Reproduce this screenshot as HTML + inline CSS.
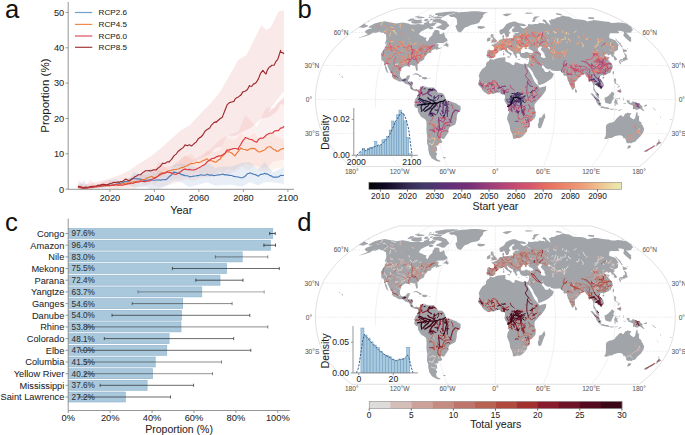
<!DOCTYPE html><html><head><meta charset="utf-8"><style>html,body{margin:0;padding:0;background:#fff;}svg{display:block;} text{stroke-width:0.06px;}</style></head><body><svg width="685" height="435" viewBox="0 0 685 435" font-family="&quot;Liberation Sans&quot;, sans-serif"><rect width="685" height="435" fill="#fff"/><path d="M78.2,183.0L85.0,184.5L92.0,183.0L100.0,181.0L110.0,178.5L120.0,175.0L130.0,170.0L140.0,163.0L150.0,157.0L160.0,149.0L170.0,140.0L180.0,131.0L190.0,125.0L200.0,114.0L210.0,104.0L220.0,92.0L229.2,75.9L238.4,59.8L246.4,55.2L249.9,48.3L255.6,36.8L261.4,25.3L266.0,29.9L270.6,27.6L278.6,11.5L283.9,10.3L283.9,105.5L280.9,103.5L277.5,110.7L270.6,116.3L266.0,117.9L261.4,118.2L254.5,124.7L249.9,128.3L240.7,132.8L235.0,135.9L227.6,135.4L222.1,146.5L215.6,148.0L209.0,154.2L200.3,159.1L191.5,162.8L185.0,165.9L177.3,165.7L169.7,168.2L163.1,176.3L156.6,177.2L150.0,179.5L145.4,182.4L141.0,178.5L135.2,182.6L129.3,185.3L125.7,184.3L119.0,184.5L114.7,186.0L108.9,185.6L101.0,186.4L97.2,186.4L89.9,187.4L84.1,189.2L78.2,186.4Z" fill="#e89090" fill-opacity="0.20"/><path d="M78.2,184.3L84.0,187.8L90.0,179.6L97.0,185.4L104.0,181.6L110.0,179.8L116.0,182.6L122.0,180.7L128.0,178.0L134.0,178.3L140.0,174.2L146.0,175.4L150.0,179.2L158.7,161.6L167.5,169.0L176.2,164.0L185.0,155.5L193.7,159.9L202.5,154.8L211.2,148.5L220.0,139.7L229.2,134.8L238.4,131.5L245.3,115.1L256.8,126.9L266.0,107.8L272.9,107.4L283.9,97.8L283.9,159.3L272.9,162.0L266.0,168.6L256.8,166.3L245.3,163.8L238.4,169.4L229.2,174.6L220.0,171.1L211.2,177.2L202.5,177.4L193.7,180.7L185.0,179.2L176.2,182.9L167.5,185.4L158.7,187.2L150.0,184.5L146.0,185.4L140.0,186.0L134.0,188.9L128.0,188.6L122.0,188.3L116.0,189.2L110.0,189.0L104.0,189.2L97.0,187.2L90.0,186.7L84.0,189.2L78.2,189.2Z" fill="#e07070" fill-opacity="0.11"/><path d="M78.2,179.1L84.0,185.0L90.0,186.8L97.0,190.3L104.0,186.2L110.0,181.9L116.0,182.7L122.0,184.1L128.0,178.3L134.0,175.2L140.0,177.2L145.0,173.1L151.2,171.9L155.0,167.6L160.9,167.8L171.9,165.6L182.8,157.2L191.5,154.0L198.1,161.8L206.8,151.1L215.6,151.9L220.0,150.5L226.9,138.4L234.9,140.0L240.7,133.5L247.6,137.7L254.5,132.8L259.1,140.1L270.6,131.8L276.3,136.3L283.9,139.8L283.9,167.3L276.3,168.0L270.6,171.8L259.1,171.1L254.5,166.2L247.6,170.4L240.7,164.8L234.9,170.0L226.9,169.2L220.0,175.8L215.6,173.6L206.8,176.6L198.1,172.9L191.5,174.3L182.8,176.9L171.9,180.0L160.9,179.0L155.0,184.5L151.2,181.8L145.0,185.5L140.0,182.2L134.0,186.3L128.0,187.1L122.0,187.8L116.0,188.8L110.0,188.5L104.0,181.0L97.0,188.7L90.0,189.2L84.0,189.2L78.2,189.2Z" fill="#f0a070" fill-opacity="0.12"/><path d="M78.2,186.0L84.0,180.6L90.0,190.1L97.0,185.3L104.0,187.6L110.0,180.6L116.0,179.1L122.0,182.3L128.0,181.1L133.7,172.0L140.0,174.2L146.0,172.8L151.0,168.0L155.0,173.4L158.7,170.3L166.0,173.7L174.0,165.1L180.6,163.4L189.3,164.4L198.1,168.2L206.8,162.4L215.6,168.0L222.1,166.5L231.5,166.6L241.8,163.0L249.9,162.3L257.9,169.5L264.8,162.1L272.9,172.6L283.9,167.0L283.9,184.1L272.9,182.2L264.8,181.9L257.9,185.4L249.9,182.3L241.8,186.4L231.5,184.7L222.1,185.2L215.6,185.7L206.8,182.3L198.1,184.8L189.3,186.9L180.6,181.8L174.0,181.0L166.0,185.7L158.7,189.2L155.0,188.2L151.0,189.2L146.0,186.7L140.0,187.4L133.7,187.6L128.0,184.4L122.0,182.6L116.0,186.9L110.0,185.0L104.0,188.1L97.0,188.5L90.0,189.2L84.0,188.0L78.2,189.2Z" fill="#a8c0dc" fill-opacity="0.27"/><path d="M268.5,113L272,106L274.5,104L277,99L279,97.5L282,93L283.9,92V97L280,101L277.5,103L275,107L272,109Z" fill="#fff" fill-opacity="0.85"/><g fill="none" stroke-width="1.15" stroke-linejoin="round"><path d="M78.2,186.8L78.2,186.8L80.4,187.6L82.6,188.0L84.0,188.0L84.9,187.8L87.1,187.6L89.3,187.3L90.0,187.4L91.5,187.3L93.8,186.8L96.0,186.7L97.0,186.4L98.2,185.9L100.4,186.5L102.7,186.0L104.0,185.9L104.9,186.0L107.1,185.5L109.3,185.2L110.0,185.2L111.6,185.1L113.8,184.9L116.0,184.4L116.0,184.3L118.2,183.8L120.5,183.4L122.0,182.8L122.7,182.4L124.9,181.6L127.1,181.5L128.0,181.2L129.4,180.4L131.6,179.0L133.7,178.7L133.8,178.5L136.0,178.8L138.3,178.8L140.0,179.4L140.5,179.0L142.7,180.0L144.9,180.7L146.0,180.6L147.2,180.3L149.4,179.8L151.0,179.8L151.6,180.0L153.8,180.3L155.0,180.2L156.1,180.0L158.3,180.0L158.7,179.8L160.5,180.1L162.7,179.7L165.0,179.5L166.0,179.7L167.2,178.7L169.4,176.5L171.6,174.7L173.9,171.8L174.0,172.1L176.1,172.5L178.3,173.2L180.5,173.7L180.6,174.3L182.8,174.9L185.0,175.6L187.2,175.7L189.3,176.5L189.4,177.0L191.7,176.5L193.9,176.1L196.1,175.8L198.1,175.4L198.3,175.7L200.6,174.8L202.8,175.3L205.0,175.1L206.8,174.8L207.2,174.2L209.5,175.1L211.7,175.0L213.9,175.6L215.6,175.4L216.1,175.2L218.3,174.9L220.6,174.7L222.1,174.3L222.8,174.1L225.0,174.9L227.2,174.9L229.5,175.4L231.5,175.5L231.7,175.4L233.9,176.4L236.1,176.7L238.4,177.0L240.6,177.7L241.8,177.8L242.8,177.6L245.0,176.4L247.3,173.8L249.5,173.3L249.9,172.7L251.7,173.6L253.9,174.3L256.2,174.9L257.9,175.9L258.4,176.1L260.6,174.4L262.8,174.2L264.8,173.2L265.1,173.8L267.3,173.8L269.5,175.4L271.7,176.1L272.9,177.1L274.0,177.0L276.2,177.1L278.4,177.0L280.6,175.4L282.9,175.5L283.9,175.5" stroke="#4a7ab8"/><path d="M78.2,187.5L78.2,187.5L80.4,188.0L82.6,188.1L84.0,188.1L84.9,188.2L87.1,188.1L89.3,187.1L90.0,187.3L91.5,186.9L93.8,186.4L96.0,186.3L97.0,186.2L98.2,186.4L100.4,186.0L102.7,186.1L104.0,185.9L104.9,185.3L107.1,185.6L109.3,185.0L110.0,185.2L111.6,185.5L113.8,185.1L116.0,184.6L116.0,184.8L118.2,184.3L120.5,184.2L122.0,183.8L122.7,183.9L124.9,183.4L127.1,183.1L128.0,183.1L129.4,182.8L131.6,182.2L133.8,181.8L134.0,181.9L136.0,181.5L138.3,181.1L140.0,181.1L140.5,181.1L142.7,179.6L144.9,179.5L145.0,179.2L147.2,178.1L149.4,177.1L151.2,176.5L151.6,176.3L153.8,177.8L155.0,178.4L156.1,177.4L158.3,175.6L160.5,173.3L160.9,173.2L162.7,172.7L165.0,172.7L167.2,171.5L169.4,170.5L171.6,170.5L171.9,170.0L173.9,169.6L176.1,169.4L178.3,169.0L180.5,168.1L182.8,167.0L182.8,167.8L185.0,166.5L187.2,165.8L189.4,164.3L191.5,163.4L191.7,163.6L193.9,163.5L196.1,162.4L198.1,162.3L198.3,162.8L200.6,162.0L202.8,160.8L205.0,159.9L206.8,158.6L207.2,159.3L209.5,160.8L211.7,160.7L213.9,161.6L215.6,162.3L216.1,162.2L218.3,160.0L220.0,159.4L220.6,158.0L222.8,155.7L225.0,153.7L226.9,151.3L227.2,151.8L229.5,151.9L231.7,153.0L233.9,155.2L234.9,155.9L236.1,154.1L238.4,151.1L240.6,148.4L240.7,147.9L242.8,149.3L245.0,149.5L247.3,150.4L247.6,150.2L249.5,149.0L251.7,148.4L253.9,148.6L254.5,148.3L256.2,150.0L258.4,151.8L259.1,152.0L260.6,151.6L262.8,150.7L265.1,149.7L267.3,147.2L269.5,146.8L270.6,146.7L271.7,147.9L274.0,149.8L276.2,150.4L276.3,151.3L278.4,151.1L280.6,149.3L282.9,148.6L283.9,148.3" stroke="#ee7a36"/><path d="M78.2,187.6L78.2,187.2L80.4,186.9L82.6,188.3L84.0,188.3L84.9,188.2L87.1,188.2L89.3,187.7L90.0,187.5L91.5,187.8L93.8,187.1L96.0,186.8L97.0,186.8L98.2,186.7L100.4,186.3L102.7,185.7L104.0,185.5L104.9,185.5L107.1,185.8L109.3,185.9L110.0,185.8L111.6,185.4L113.8,185.1L116.0,184.8L116.0,184.3L118.2,185.4L120.5,185.0L122.0,185.2L122.7,185.3L124.9,184.5L127.1,184.3L128.0,183.5L129.4,183.8L131.6,183.2L133.8,183.2L134.0,182.8L136.0,182.1L138.3,182.2L140.0,181.5L140.5,181.0L142.7,181.5L144.9,181.6L146.0,181.2L147.2,181.2L149.4,180.8L150.0,180.9L151.6,179.6L153.8,178.4L156.1,177.4L158.3,176.0L158.7,175.4L160.5,174.6L162.7,173.4L165.0,173.3L167.2,171.7L167.5,172.1L169.4,172.4L171.6,172.9L173.9,174.0L176.1,174.4L176.2,174.3L178.3,173.2L180.5,171.7L182.8,170.0L185.0,169.1L185.0,168.9L187.2,169.7L189.4,169.4L191.7,170.0L193.7,170.0L193.9,169.9L196.1,169.2L198.3,168.0L200.6,166.9L202.5,165.6L202.8,165.5L205.0,164.4L207.2,161.8L209.5,160.2L211.2,159.0L211.7,158.5L213.9,158.4L216.1,156.9L218.3,156.1L220.0,155.9L220.6,155.9L222.8,154.8L225.0,153.1L227.2,149.9L229.2,150.2L229.5,149.6L231.7,149.1L233.9,148.5L236.1,148.5L238.4,149.4L238.4,148.3L240.6,144.7L242.8,140.9L245.0,138.4L245.3,137.5L247.3,138.3L249.5,139.3L251.7,139.6L253.9,141.0L256.2,142.1L256.8,142.1L258.4,139.6L260.6,138.1L262.8,138.3L265.1,136.5L266.0,135.2L267.3,134.4L269.5,133.3L271.7,133.2L272.9,132.9L274.0,131.3L276.2,130.6L278.4,130.7L280.6,128.1L282.9,127.6L283.9,126.0" stroke="#dd3a3f"/><path d="M78.2,186.6L78.2,186.4L80.4,186.7L82.6,187.2L84.1,187.9L84.9,187.1L87.1,187.2L89.3,187.1L89.9,186.7L91.5,186.4L93.8,186.2L96.0,186.0L97.2,185.5L98.2,185.0L100.4,185.4L101.0,184.6L102.7,184.3L104.9,184.5L107.1,184.9L108.9,184.1L109.3,183.9L111.6,183.3L113.8,182.4L114.7,182.3L116.0,182.5L118.2,181.9L119.0,182.6L120.5,181.6L122.7,181.2L124.9,179.6L125.7,179.1L127.1,179.7L129.3,180.9L129.4,181.0L131.6,179.3L133.8,177.6L135.2,176.5L136.0,176.4L138.3,174.8L140.5,174.7L141.0,174.3L142.7,172.6L144.9,171.4L145.4,170.7L147.2,170.8L149.4,170.6L150.0,171.0L151.6,170.6L153.8,169.7L156.1,170.0L156.6,169.5L158.3,167.9L160.5,166.2L162.7,163.2L163.1,163.4L165.0,163.5L167.2,161.9L169.4,161.9L169.7,161.2L171.6,159.4L173.9,155.9L176.1,154.1L177.3,152.5L178.3,151.2L180.5,149.5L182.8,147.9L185.0,145.3L185.0,144.8L187.2,145.8L189.4,144.8L191.5,145.9L191.7,145.9L193.9,143.8L196.1,142.1L198.3,138.7L200.3,137.2L200.6,137.3L202.8,135.0L205.0,131.3L207.2,129.4L209.0,128.4L209.5,128.3L211.7,124.8L213.9,122.6L215.6,121.9L216.1,122.3L218.3,120.3L220.6,118.3L222.1,117.5L222.8,115.9L225.0,110.2L227.2,104.7L227.6,104.4L229.5,102.6L231.7,102.0L233.9,101.4L235.0,99.3L236.1,98.0L238.4,96.9L240.6,95.2L240.7,95.4L242.8,91.9L245.0,91.3L247.3,89.8L249.5,85.6L249.9,86.2L251.7,86.3L253.9,83.5L254.5,83.9L256.2,82.5L258.4,78.9L260.6,73.2L261.4,72.4L262.8,70.3L265.1,73.2L266.0,74.0L267.3,70.1L269.5,66.7L270.6,66.7L271.7,65.2L274.0,65.2L276.2,61.0L277.5,59.8L278.4,57.5L280.6,50.3L280.9,52.4L282.9,52.6L283.9,54.0" stroke="#9c2b2e"/></g><g stroke="#8a8a8a" stroke-width="0.9" fill="none"><path d="M68.2,2V189.3H294"/><path d="M65.6,189.2H68.2"/><path d="M65.6,153.8H68.2"/><path d="M65.6,118.5H68.2"/><path d="M65.6,83.1H68.2"/><path d="M65.6,47.8H68.2"/><path d="M65.6,12.4H68.2"/><path d="M109.9,189.3V191.9"/><path d="M154.4,189.3V191.9"/><path d="M198.9,189.3V191.9"/><path d="M243.4,189.3V191.9"/><path d="M287.9,189.3V191.9"/></g><g font-size="9.2" fill="#262626" stroke="#262626" text-anchor="end"><text x="64.2" y="192.5">0</text><text x="64.2" y="157.2">10</text><text x="64.2" y="121.8">20</text><text x="64.2" y="86.4">30</text><text x="64.2" y="51.1">40</text><text x="64.2" y="15.7">50</text></g><g font-size="9.2" fill="#262626" stroke="#262626" text-anchor="middle"><text x="109.9" y="201">2020</text><text x="154.4" y="201">2040</text><text x="198.9" y="201">2060</text><text x="243.4" y="201">2080</text><text x="287.9" y="201">2100</text></g><text x="181.3" y="213.7" font-size="11" fill="#1e1e1e" stroke="#1e1e1e" text-anchor="middle">Year</text><text transform="translate(48.5,95.6) rotate(-90)" font-size="11.5" fill="#1e1e1e" stroke="#1e1e1e" text-anchor="middle">Proportion (%)</text><path d="M75,12.5H92.3" stroke="#6f9fd0" stroke-width="1.2"/><text x="98.6" y="15.4" font-size="8.1" fill="#262626" stroke="#262626">RCP2.6</text><path d="M75,24.4H92.3" stroke="#ef8a4a" stroke-width="1.2"/><text x="98.6" y="27.3" font-size="8.1" fill="#262626" stroke="#262626">RCP4.5</text><path d="M75,36.0H92.3" stroke="#e57b86" stroke-width="1.6"/><text x="98.6" y="38.9" font-size="8.1" fill="#262626" stroke="#262626">RCP6.0</text><path d="M75,47.3H92.3" stroke="#a23a3c" stroke-width="1.2"/><text x="98.6" y="50.2" font-size="8.1" fill="#262626" stroke="#262626">RCP8.5</text><rect x="68.6" y="228.5" width="204.2" height="10.0" fill="#a9c8dc" stroke="#8db2cc" stroke-width="0.6"/><rect x="68.6" y="240.2" width="201.7" height="10.0" fill="#a9c8dc" stroke="#8db2cc" stroke-width="0.6"/><rect x="68.6" y="251.9" width="173.6" height="10.0" fill="#a9c8dc" stroke="#8db2cc" stroke-width="0.6"/><rect x="68.6" y="263.5" width="157.9" height="10.0" fill="#a9c8dc" stroke="#8db2cc" stroke-width="0.6"/><rect x="68.6" y="275.2" width="151.4" height="10.0" fill="#a9c8dc" stroke="#8db2cc" stroke-width="0.6"/><rect x="68.6" y="286.9" width="133.2" height="10.0" fill="#a9c8dc" stroke="#8db2cc" stroke-width="0.6"/><rect x="68.6" y="298.6" width="114.1" height="10.0" fill="#a9c8dc" stroke="#8db2cc" stroke-width="0.6"/><rect x="68.6" y="310.3" width="112.8" height="10.0" fill="#a9c8dc" stroke="#8db2cc" stroke-width="0.6"/><rect x="68.6" y="321.9" width="112.4" height="10.0" fill="#a9c8dc" stroke="#8db2cc" stroke-width="0.6"/><rect x="68.6" y="333.6" width="100.5" height="10.0" fill="#a9c8dc" stroke="#8db2cc" stroke-width="0.6"/><rect x="68.6" y="345.3" width="98.2" height="10.0" fill="#a9c8dc" stroke="#8db2cc" stroke-width="0.6"/><rect x="68.6" y="357.0" width="86.6" height="10.0" fill="#a9c8dc" stroke="#8db2cc" stroke-width="0.6"/><rect x="68.6" y="368.7" width="83.9" height="10.0" fill="#a9c8dc" stroke="#8db2cc" stroke-width="0.6"/><rect x="68.6" y="380.3" width="78.5" height="10.0" fill="#a9c8dc" stroke="#8db2cc" stroke-width="0.6"/><rect x="68.6" y="392.0" width="56.7" height="10.0" fill="#a9c8dc" stroke="#8db2cc" stroke-width="0.6"/><text x="71.6" y="236.4" font-size="8.2" fill="#303030" stroke="#303030">97.6%</text><g stroke="#222" stroke-opacity="0.85" stroke-width="0.9"><path d="M269.7,233.5H275.2"/><path d="M269.7,231.9v3.2M275.2,231.9v3.2"/></g><text x="64.3" y="236.8" font-size="9.25" fill="#262626" stroke="#262626" text-anchor="end">Congo</text><path d="M65.6,233.5H68.2" stroke="#8a8a8a" stroke-width="0.9"/><text x="71.6" y="248.1" font-size="8.2" fill="#303030" stroke="#303030">96.4%</text><g stroke="#222" stroke-opacity="0.85" stroke-width="0.9"><path d="M263.9,245.2H275.5"/><path d="M263.9,243.6v3.2M275.5,243.6v3.2"/></g><text x="64.3" y="248.5" font-size="9.25" fill="#262626" stroke="#262626" text-anchor="end">Amazon</text><path d="M65.6,245.2H68.2" stroke="#8a8a8a" stroke-width="0.9"/><text x="71.6" y="259.8" font-size="8.2" fill="#303030" stroke="#303030">83.0%</text><g stroke="#222" stroke-opacity="0.55" stroke-width="0.9"><path d="M215.4,256.9H267.8"/><path d="M215.4,255.3v3.2M267.8,255.3v3.2"/></g><text x="64.3" y="260.2" font-size="9.25" fill="#262626" stroke="#262626" text-anchor="end">Nile</text><path d="M65.6,256.9H68.2" stroke="#8a8a8a" stroke-width="0.9"/><text x="71.6" y="271.4" font-size="8.2" fill="#303030" stroke="#303030">75.5%</text><g stroke="#222" stroke-opacity="0.75" stroke-width="0.9"><path d="M172.4,268.5H279.3"/><path d="M172.4,266.9v3.2M279.3,266.9v3.2"/></g><text x="64.3" y="271.8" font-size="9.25" fill="#262626" stroke="#262626" text-anchor="end">Mekong</text><path d="M65.6,268.5H68.2" stroke="#8a8a8a" stroke-width="0.9"/><text x="71.6" y="283.1" font-size="8.2" fill="#303030" stroke="#303030">72.4%</text><g stroke="#222" stroke-opacity="0.80" stroke-width="0.9"><path d="M195.8,280.2H243.0"/><path d="M195.8,278.6v3.2M243.0,278.6v3.2"/></g><text x="64.3" y="283.5" font-size="9.25" fill="#262626" stroke="#262626" text-anchor="end">Parana</text><path d="M65.6,280.2H68.2" stroke="#8a8a8a" stroke-width="0.9"/><text x="71.6" y="294.8" font-size="8.2" fill="#303030" stroke="#303030">63.7%</text><g stroke="#222" stroke-opacity="0.45" stroke-width="0.9"><path d="M138.0,291.9H264.2"/><path d="M138.0,290.3v3.2M264.2,290.3v3.2"/></g><text x="64.3" y="295.2" font-size="9.25" fill="#262626" stroke="#262626" text-anchor="end">Yangtze</text><path d="M65.6,291.9H68.2" stroke="#8a8a8a" stroke-width="0.9"/><text x="71.6" y="306.5" font-size="8.2" fill="#303030" stroke="#303030">54.6%</text><g stroke="#222" stroke-opacity="0.60" stroke-width="0.9"><path d="M132.2,303.6H232.1"/><path d="M132.2,302.0v3.2M232.1,302.0v3.2"/></g><text x="64.3" y="306.9" font-size="9.25" fill="#262626" stroke="#262626" text-anchor="end">Ganges</text><path d="M65.6,303.6H68.2" stroke="#8a8a8a" stroke-width="0.9"/><text x="71.6" y="318.2" font-size="8.2" fill="#303030" stroke="#303030">54.0%</text><g stroke="#222" stroke-opacity="0.75" stroke-width="0.9"><path d="M112.0,315.3H249.8"/><path d="M112.0,313.7v3.2M249.8,313.7v3.2"/></g><text x="64.3" y="318.6" font-size="9.25" fill="#262626" stroke="#262626" text-anchor="end">Danube</text><path d="M65.6,315.3H68.2" stroke="#8a8a8a" stroke-width="0.9"/><text x="71.6" y="329.8" font-size="8.2" fill="#303030" stroke="#303030">53.8%</text><g stroke="#222" stroke-opacity="0.58" stroke-width="0.9"><path d="M87.0,326.9H267.8"/><path d="M87.0,325.3v3.2M267.8,325.3v3.2"/></g><text x="64.3" y="330.2" font-size="9.25" fill="#262626" stroke="#262626" text-anchor="end">Rhine</text><path d="M65.6,326.9H68.2" stroke="#8a8a8a" stroke-width="0.9"/><text x="71.6" y="341.5" font-size="8.2" fill="#303030" stroke="#303030">48.1%</text><g stroke="#222" stroke-opacity="0.75" stroke-width="0.9"><path d="M104.3,338.6H233.7"/><path d="M104.3,337.0v3.2M233.7,337.0v3.2"/></g><text x="64.3" y="341.9" font-size="9.25" fill="#262626" stroke="#262626" text-anchor="end">Colorado</text><path d="M65.6,338.6H68.2" stroke="#8a8a8a" stroke-width="0.9"/><text x="71.6" y="353.2" font-size="8.2" fill="#303030" stroke="#303030">47.0%</text><g stroke="#222" stroke-opacity="0.75" stroke-width="0.9"><path d="M80.7,350.3H250.8"/><path d="M80.7,348.7v3.2M250.8,348.7v3.2"/></g><text x="64.3" y="353.6" font-size="9.25" fill="#262626" stroke="#262626" text-anchor="end">Elbe</text><path d="M65.6,350.3H68.2" stroke="#8a8a8a" stroke-width="0.9"/><text x="71.6" y="364.9" font-size="8.2" fill="#303030" stroke="#303030">41.5%</text><g stroke="#222" stroke-opacity="0.58" stroke-width="0.9"><path d="M86.0,362.0H221.5"/><path d="M86.0,360.4v3.2M221.5,360.4v3.2"/></g><text x="64.3" y="365.3" font-size="9.25" fill="#262626" stroke="#262626" text-anchor="end">Columbia</text><path d="M65.6,362.0H68.2" stroke="#8a8a8a" stroke-width="0.9"/><text x="71.6" y="376.6" font-size="8.2" fill="#303030" stroke="#303030">40.2%</text><g stroke="#222" stroke-opacity="0.55" stroke-width="0.9"><path d="M85.0,373.7H212.5"/><path d="M85.0,372.1v3.2M212.5,372.1v3.2"/></g><text x="64.3" y="377.0" font-size="9.25" fill="#262626" stroke="#262626" text-anchor="end">Yellow River</text><path d="M65.6,373.7H68.2" stroke="#8a8a8a" stroke-width="0.9"/><text x="71.6" y="388.2" font-size="8.2" fill="#303030" stroke="#303030">37.6%</text><g stroke="#222" stroke-opacity="0.75" stroke-width="0.9"><path d="M100.1,385.3H193.6"/><path d="M100.1,383.7v3.2M193.6,383.7v3.2"/></g><text x="64.3" y="388.6" font-size="9.25" fill="#262626" stroke="#262626" text-anchor="end">Mississippi</text><path d="M65.6,385.3H68.2" stroke="#8a8a8a" stroke-width="0.9"/><text x="71.6" y="399.9" font-size="8.2" fill="#303030" stroke="#303030">27.2%</text><g stroke="#222" stroke-opacity="0.75" stroke-width="0.9"><path d="M79.7,397.0H170.5"/><path d="M79.7,395.4v3.2M170.5,395.4v3.2"/></g><text x="64.3" y="400.3" font-size="9.25" fill="#262626" stroke="#262626" text-anchor="end">Saint Lawrence</text><path d="M65.6,397.0H68.2" stroke="#8a8a8a" stroke-width="0.9"/><path d="M68.2,218.5V410.5H290" stroke="#8a8a8a" stroke-width="0.9" fill="none"/><path d="M68.3,410.5V413" stroke="#8a8a8a" stroke-width="0.9"/><text x="68.3" y="420.6" font-size="9.3" fill="#262626" stroke="#262626" text-anchor="middle">0%</text><path d="M110.2,410.5V413" stroke="#8a8a8a" stroke-width="0.9"/><text x="110.2" y="420.6" font-size="9.3" fill="#262626" stroke="#262626" text-anchor="middle">20%</text><path d="M152.1,410.5V413" stroke="#8a8a8a" stroke-width="0.9"/><text x="152.1" y="420.6" font-size="9.3" fill="#262626" stroke="#262626" text-anchor="middle">40%</text><path d="M194.0,410.5V413" stroke="#8a8a8a" stroke-width="0.9"/><text x="194.0" y="420.6" font-size="9.3" fill="#262626" stroke="#262626" text-anchor="middle">60%</text><path d="M235.9,410.5V413" stroke="#8a8a8a" stroke-width="0.9"/><text x="235.9" y="420.6" font-size="9.3" fill="#262626" stroke="#262626" text-anchor="middle">80%</text><path d="M277.8,410.5V413" stroke="#8a8a8a" stroke-width="0.9"/><text x="277.8" y="420.6" font-size="9.3" fill="#262626" stroke="#262626" text-anchor="middle">100%</text><text x="179.1" y="432.5" font-size="10.5" fill="#1e1e1e" stroke="#1e1e1e" text-anchor="middle">Proportion (%)</text><path d="M399.6,8.2L396.3,9.1L392.4,10.4L388.2,11.9L383.6,13.8L378.8,15.8L374.2,17.9L370.0,20.2L366.1,22.5L362.3,24.9L358.7,27.4L355.1,29.9L351.7,32.4L348.3,35.1L345.1,37.7L342.1,40.4L339.2,43.1L336.6,45.9L334.1,48.6L331.7,51.4L329.5,54.2L327.5,57.1L325.7,59.9L324.1,62.7L322.6,65.5L321.4,68.4L320.3,71.2L319.4,74.0L318.6,76.9L317.9,79.7L317.2,82.5L316.7,85.4L316.3,88.2L315.9,91.0L315.7,93.8L315.5,96.7L315.4,99.5L315.5,102.3L315.7,105.2L315.9,108.0L316.3,110.8L316.7,113.6L317.2,116.5L317.9,119.3L318.6,122.1L319.4,125.0L320.3,127.8L321.4,130.6L322.6,133.5L324.1,136.3L325.7,139.1L327.5,141.9L329.5,144.8L331.7,147.6L334.1,150.4L336.6,153.1L339.2,155.9L342.1,158.6L345.1,161.3L348.3,163.9L351.7,166.6L639.1,166.6L642.5,163.9L645.7,161.3L648.7,158.6L651.6,155.9L654.2,153.1L656.7,150.4L659.1,147.6L661.3,144.8L663.3,141.9L665.1,139.1L666.7,136.3L668.2,133.5L669.4,130.6L670.5,127.8L671.4,125.0L672.2,122.1L672.9,119.3L673.6,116.5L674.1,113.6L674.5,110.8L674.9,108.0L675.1,105.2L675.3,102.3L675.4,99.5L675.3,96.7L675.1,93.8L674.9,91.0L674.5,88.2L674.1,85.4L673.6,82.5L672.9,79.7L672.2,76.9L671.4,74.0L670.5,71.2L669.4,68.4L668.2,65.5L666.7,62.7L665.1,59.9L663.3,57.1L661.3,54.2L659.1,51.4L656.7,48.6L654.2,45.9L651.6,43.1L648.7,40.4L645.7,37.7L642.5,35.1L639.1,32.4L635.7,29.9L632.1,27.4L628.5,24.9L624.7,22.5L620.8,20.2L616.6,17.9L612.0,15.8L607.2,13.8L602.6,11.9L598.4,10.4L594.5,9.1L591.2,8.2Z" fill="#fff" stroke="#d3d3d3" stroke-width="0.7"/><g stroke="#e0e0e0" stroke-width="0.6" stroke-dasharray="2,1.2" fill="none"><line x1="351.7" y1="32.4" x2="639.1" y2="32.4"/><line x1="322.6" y1="65.5" x2="668.2" y2="65.5"/><line x1="315.4" y1="99.5" x2="675.4" y2="99.5"/><line x1="322.6" y1="133.5" x2="668.2" y2="133.5"/><line x1="495.4" y1="8.2" x2="495.4" y2="166.6"/></g><g stroke="#e3e3e3" stroke-width="0.5" fill="none"><path d="M399.6,166.6L395.2,161.3L391.3,155.9L387.9,150.4L384.8,144.8L382.3,139.1L380.2,133.5L378.7,127.8L377.6,122.1L376.6,116.5L376.0,110.8L375.6,105.2L375.4,99.5L375.6,93.8L376.0,88.2L376.6,82.5L377.6,76.9L378.7,71.2L380.2,65.5L382.3,59.9L384.8,54.2L387.9,48.6L391.3,43.1L395.2,37.7L399.6,32.4L404.2,27.4L409.2,22.5L414.6,17.9L420.9,13.8L426.7,10.4L431.5,8.2"/><path d="M447.5,166.6L445.3,161.3L443.3,155.9L441.6,150.4L440.1,144.8L438.8,139.1L437.8,133.5L437.0,127.8L436.5,122.1L436.0,116.5L435.7,110.8L435.5,105.2L435.4,99.5L435.5,93.8L435.7,88.2L436.0,82.5L436.5,76.9L437.0,71.2L437.8,65.5L438.8,59.9L440.1,54.2L441.6,48.6L443.3,43.1L445.3,37.7L447.5,32.4L449.8,27.4L452.3,22.5L455.0,17.9L458.1,13.8L461.1,10.4L463.5,8.2"/><path d="M543.3,166.6L545.5,161.3L547.5,155.9L549.2,150.4L550.7,144.8L552.0,139.1L553.0,133.5L553.8,127.8L554.3,122.1L554.8,116.5L555.1,110.8L555.3,105.2L555.4,99.5L555.3,93.8L555.1,88.2L554.8,82.5L554.3,76.9L553.8,71.2L553.0,65.5L552.0,59.9L550.7,54.2L549.2,48.6L547.5,43.1L545.5,37.7L543.3,32.4L541.0,27.4L538.5,22.5L535.8,17.9L532.7,13.8L529.7,10.4L527.3,8.2"/><path d="M591.2,166.6L595.6,161.3L599.5,155.9L602.9,150.4L606.0,144.8L608.5,139.1L610.6,133.5L612.1,127.8L613.2,122.1L614.2,116.5L614.8,110.8L615.2,105.2L615.4,99.5L615.2,93.8L614.8,88.2L614.2,82.5L613.2,76.9L612.1,71.2L610.6,65.5L608.5,59.9L606.0,54.2L602.9,48.6L599.5,43.1L595.6,37.7L591.2,32.4L586.6,27.4L581.6,22.5L576.2,17.9L569.9,13.8L564.1,10.4L559.3,8.2"/></g><path d="M368.6,26.8L374.6,23.6L379.4,22.2L384.7,21.3L387.2,21.8L389.4,22.2L393.6,22.9L396.5,23.5L399.3,23.0L402.7,22.5L405.8,23.0L408.2,23.5L410.8,24.4L414.5,24.4L418.6,23.9L421.7,24.6L423.3,24.4L424.7,24.1L426.1,22.5L428.3,20.8L429.1,20.6L429.8,21.1L428.9,22.5L429.1,23.2L430.6,23.6L431.6,23.3L432.7,22.3L433.6,22.5L433.8,23.3L434.6,22.6L436.3,22.8L436.4,23.3L435.8,23.9L434.4,24.9L434.7,25.6L432.8,26.2L431.5,25.9L430.0,26.9L429.0,27.9L426.0,28.9L421.1,31.4L419.2,33.5L419.4,35.1L422.0,36.1L424.6,37.4L426.7,37.7L425.8,39.9L427.2,41.5L428.5,39.9L429.4,37.7L432.5,35.1L432.5,33.5L433.8,31.9L434.5,30.1L437.7,29.9L439.5,30.9L439.4,33.5L440.6,34.2L443.3,33.0L444.0,32.1L444.7,35.1L445.1,37.2L447.0,38.8L447.6,40.6L446.5,41.5L443.4,42.9L439.9,42.9L437.7,43.1L436.0,44.2L433.7,45.7L435.9,44.4L437.8,44.0L439.1,44.4L438.2,45.5L438.0,47.0L439.2,47.9L442.0,47.3L440.4,48.4L437.9,49.2L435.7,50.3L436.3,48.4L435.3,48.9L433.2,49.8L432.0,50.2L431.1,51.4L431.5,52.3L430.0,52.7L427.4,53.6L427.0,54.8L425.9,55.6L424.4,57.4L424.3,59.3L422.7,60.4L420.5,61.6L418.2,63.3L417.4,65.0L417.8,68.9L417.6,70.6L416.6,71.0L415.9,69.5L415.5,67.8L415.2,65.8L413.7,65.9L412.0,65.1L410.1,65.2L409.3,66.4L407.9,66.3L405.1,65.9L401.7,68.0L400.7,70.6L399.8,74.6L400.0,76.3L401.0,78.0L402.3,78.9L404.8,78.4L406.4,77.4L406.8,75.7L410.2,75.2L409.3,78.0L408.3,79.7L407.8,81.6L410.4,81.5L412.3,82.0L412.9,82.5L412.2,87.0L412.8,88.2L414.7,89.5L416.2,88.7L418.2,89.9L418.3,90.4L417.6,91.0L415.6,91.2L414.2,90.7L412.2,89.9L410.1,88.2L410.1,86.8L408.6,84.8L405.2,83.8L403.4,82.0L402.0,81.2L400.0,81.7L397.6,80.7L395.4,79.4L393.5,78.8L391.8,76.5L392.3,75.1L391.4,73.2L389.9,70.9L388.6,68.4L387.5,66.1L387.4,64.1L385.9,63.8L385.5,65.5L386.8,67.8L387.5,70.6L388.5,73.2L387.8,72.9L386.4,71.4L385.2,68.4L384.8,66.1L384.0,63.3L383.9,62.5L383.4,61.0L381.5,60.3L381.3,58.1L381.3,56.7L381.0,54.8L381.0,53.8L382.2,52.0L385.0,47.5L386.0,44.9L387.0,45.0L386.9,43.1L385.4,42.3L385.9,40.9L386.4,38.2L386.1,36.6L386.0,34.5L384.4,33.7L383.4,32.7L380.4,32.4L379.5,31.4L377.2,32.4L375.1,33.0L373.3,33.3L376.0,31.4L372.7,33.0L369.2,35.1L366.0,36.1L362.5,37.1L359.1,37.9L357.5,38.2L362.1,36.6L366.7,34.7L368.2,33.7L366.6,33.7L365.8,32.7L364.7,31.9L365.8,30.4L368.1,29.2L372.5,27.9L371.1,27.8L368.8,27.8ZM449.5,25.8L447.2,27.4L444.7,29.9L442.3,30.1L439.9,28.8L436.1,28.1L436.5,26.9L441.1,24.9L442.0,23.9L438.5,22.7L435.2,22.3L432.2,21.6L433.5,19.3L437.1,19.1L440.4,18.9L442.3,19.9L445.3,21.1L446.9,21.9L447.4,23.2L448.6,24.6ZM411.4,21.1L415.0,19.5L417.7,19.9L422.2,19.5L421.2,21.6L422.8,22.5L419.6,23.6L415.1,23.8L412.1,23.2L411.2,22.3ZM407.2,20.8L410.8,18.6L413.8,18.6L414.5,19.4L412.7,20.3L409.5,21.3ZM458.5,11.9L452.9,11.6L444.8,11.9L439.2,13.0L435.8,13.8L438.5,14.5L436.8,16.6L441.2,16.9L444.1,16.6L447.3,14.9L450.9,14.1L454.9,13.1L457.7,12.4ZM443.2,16.5L441.1,18.5L435.7,18.5L433.3,17.8L434.7,16.8L437.0,16.4L440.5,16.3ZM418.1,16.9L420.1,16.6L423.8,17.1L425.0,17.3L423.6,18.0L419.4,18.5L416.1,18.1ZM426.1,18.8L428.7,19.3L427.3,21.1L425.5,21.6L423.6,20.2ZM434.0,18.8L430.5,18.8L429.9,20.2L431.1,20.4ZM440.9,12.6L435.8,13.2L434.8,14.5L436.5,15.2L440.7,14.3ZM429.5,14.7L431.9,14.8L431.6,15.5L428.8,15.7ZM433.0,14.9L434.6,15.2L433.2,15.8ZM432.1,16.2L433.8,16.4L434.4,17.1L431.9,17.5L430.4,17.1ZM423.8,23.0L426.3,22.6L426.2,23.6L424.0,24.1ZM429.6,16.6L431.3,16.9L429.4,17.9L427.9,17.5ZM415.1,16.6L419.6,15.8L419.1,16.6L415.6,17.2ZM429.2,27.6L431.4,26.5L432.6,27.1L433.6,28.4L431.9,29.2L429.6,29.2L428.9,28.6ZM443.1,45.8L447.8,41.4L446.8,43.6L448.6,44.1L448.2,45.9L448.9,45.9L447.9,46.9L446.3,46.3L445.6,45.7ZM387.2,44.9L385.7,44.3L384.6,42.3L386.3,42.8ZM412.3,74.7L415.3,73.2L417.3,73.5L419.5,74.8L422.6,76.6L419.3,77.0L418.5,75.2L415.7,74.4ZM422.3,77.0L425.7,77.0L428.1,78.4L424.9,79.6L422.1,78.7ZM418.3,78.7L420.3,79.0L419.6,79.2L418.3,78.9ZM429.2,78.6L430.8,78.7L430.7,79.1L429.2,79.1ZM472.0,11.3L477.8,11.3L483.4,12.1L488.1,12.6L484.5,13.8L482.9,15.4L483.2,16.6L481.8,18.4L480.1,20.2L479.7,22.0L477.5,23.6L473.3,24.4L471.0,24.9L467.5,26.7L465.0,27.4L463.2,29.4L461.2,31.9L460.3,32.4L457.8,31.4L456.6,29.6L456.1,27.9L455.4,25.9L457.4,23.9L457.0,22.5L456.9,21.1L456.9,19.9L456.4,18.4L454.3,17.1L451.0,17.0L449.1,15.8L448.7,15.1L452.8,14.1L456.5,12.8L462.5,12.1L467.5,11.7ZM478.1,28.4L477.3,26.9L478.6,25.9L482.7,26.2L484.5,26.4L485.1,27.4L483.9,28.1L481.1,28.9L479.2,28.6ZM418.3,89.7L419.7,89.0L420.3,87.6L421.3,87.0L423.1,86.3L424.4,85.5L424.3,87.0L425.8,86.5L427.6,87.6L429.7,87.5L431.7,87.5L433.7,87.4L434.7,88.2L435.1,89.9L436.6,90.4L438.0,92.7L440.5,92.7L442.5,93.3L444.0,94.7L445.4,97.5L445.4,99.5L446.9,100.6L450.4,101.2L453.4,102.6L456.4,103.5L458.5,105.2L460.3,105.7L460.7,108.0L460.6,110.3L458.6,112.0L457.2,114.2L456.8,116.5L456.7,119.3L456.1,122.1L455.3,124.4L453.4,125.5L451.5,126.2L449.2,127.8L448.4,130.1L448.3,131.8L447.1,134.6L445.7,136.3L444.8,138.0L443.6,139.1L441.8,138.6L440.3,138.1L441.5,140.6L442.3,141.1L441.8,142.7L438.0,143.6L438.3,145.5L435.8,145.8L436.9,147.6L437.2,150.4L435.5,152.0L437.3,153.5L436.2,156.1L436.4,158.4L437.5,159.5L440.8,161.1L438.9,161.8L435.9,160.8L431.9,158.6L429.2,154.2L428.2,149.2L428.3,146.8L427.0,143.1L427.1,139.7L427.4,136.9L426.8,133.5L426.4,130.1L426.6,126.1L426.3,121.0L425.0,119.3L421.0,116.7L419.7,114.8L417.8,111.4L416.0,108.0L414.4,106.3L414.2,104.4L415.3,103.2L414.5,102.0L415.3,98.9L416.6,97.5L418.0,95.0L418.3,92.1L417.6,91.2ZM442.7,157.2L445.5,157.3L445.9,157.9L444.6,158.4L443.2,157.9ZM490.1,58.8L489.4,57.9L488.5,57.4L487.1,57.6L487.2,55.7L486.6,55.6L487.2,53.7L487.4,52.0L487.0,50.9L488.2,50.1L490.0,50.2L492.2,50.3L493.8,50.4L494.3,49.0L494.3,47.5L493.5,46.3L491.4,45.4L491.3,44.8L492.8,44.4L494.1,44.6L493.8,43.5L495.4,43.8L496.7,42.9L496.9,42.1L498.0,41.7L498.8,41.2L499.5,39.9L500.9,39.3L502.6,39.2L502.6,37.8L502.2,36.1L502.5,35.5L504.0,34.8L503.9,36.1L504.4,36.3L503.6,37.7L504.2,38.4L504.7,38.8L506.3,38.2L507.4,38.9L509.2,38.2L510.9,37.9L512.0,38.4L513.1,37.5L512.7,35.8L513.1,35.2L514.1,34.7L515.3,35.3L514.4,34.0L514.3,33.3L516.2,32.9L517.8,32.8L519.4,32.4L518.0,31.9L516.1,32.0L513.8,32.5L512.4,31.7L512.2,30.5L511.9,29.2L513.3,28.4L514.1,27.5L514.7,27.1L513.9,26.6L512.2,26.8L511.6,27.9L510.1,28.9L509.3,29.9L509.0,31.4L510.5,32.4L510.1,33.2L509.0,34.0L508.9,35.6L508.6,36.4L507.3,37.2L506.1,37.3L505.8,36.4L505.1,35.0L504.4,33.6L503.9,32.7L503.5,33.5L501.9,34.4L500.7,34.4L499.9,33.7L499.6,32.4L499.4,31.4L499.5,30.3L500.8,29.6L502.1,28.9L503.1,28.4L504.0,27.6L504.7,26.5L505.4,25.4L506.4,24.1L507.4,23.8L508.4,23.0L509.8,22.5L511.8,21.9L513.5,21.5L515.3,21.6L516.9,22.3L518.1,22.7L519.3,23.2L521.6,23.5L524.0,24.1L525.7,24.9L526.2,25.8L524.7,26.3L521.6,26.1L520.4,25.8L519.6,25.4L521.6,27.4L523.8,28.4L525.5,27.8L526.1,27.1L528.0,26.1L527.9,23.9L529.5,24.2L532.2,24.4L534.5,23.9L537.1,23.9L539.0,23.5L539.0,22.7L541.8,23.2L543.1,23.0L544.8,23.9L545.7,23.6L544.3,22.0L542.3,21.1L543.0,20.0L543.5,19.3L545.9,20.2L546.5,21.6L547.9,23.0L549.1,23.9L550.4,25.4L550.2,23.9L548.7,20.6L551.1,20.2L550.7,19.3L553.8,19.3L554.8,18.8L556.9,17.5L559.7,17.1L561.3,16.2L562.7,15.6L565.2,16.2L569.3,16.8L572.9,18.8L576.5,19.3L580.1,19.4L584.2,19.9L587.7,21.6L589.2,21.1L592.6,20.5L593.4,20.0L597.4,20.4L601.2,21.1L604.7,21.6L608.5,21.8L611.6,22.9L615.8,22.8L617.4,22.4L622.2,22.7L626.4,23.6L632.1,27.4L631.3,27.9L633.3,29.9L631.9,30.6L631.1,32.4L628.2,32.7L626.1,32.5L628.0,34.5L629.7,36.4L631.3,37.5L631.0,38.2L631.2,39.9L631.1,41.2L630.4,42.0L628.3,40.4L625.3,37.7L622.9,35.1L623.9,34.5L623.8,33.0L624.1,31.9L621.3,30.9L618.1,30.8L619.3,33.3L616.9,33.3L614.4,33.2L610.4,33.3L609.6,34.0L609.1,36.1L609.4,38.2L612.2,39.0L615.5,40.4L617.3,43.1L618.4,44.8L618.1,46.6L618.0,49.8L616.1,51.1L614.5,51.4L614.3,53.1L614.3,54.2L613.2,54.8L615.0,56.5L616.6,58.2L617.1,59.7L615.7,60.2L614.7,60.4L613.9,58.2L613.4,56.8L611.8,56.7L611.1,54.8L610.0,54.4L608.1,55.4L606.7,53.3L607.4,53.3L605.6,54.5L604.6,55.3L604.8,56.2L606.5,57.4L607.8,56.7L609.8,57.4L608.5,58.8L608.0,59.9L609.7,61.6L611.6,63.6L612.1,64.6L612.6,65.8L612.6,67.2L612.0,68.7L611.4,70.1L610.8,71.7L609.6,72.9L607.8,73.8L606.4,74.4L604.1,75.2L603.7,76.5L602.9,75.2L601.2,75.2L600.1,76.1L599.5,78.0L601.0,80.3L603.1,82.2L603.9,84.8L603.9,86.3L601.8,87.6L600.0,89.7L599.7,87.8L597.8,87.0L597.0,85.7L595.6,85.1L594.7,84.3L594.1,87.8L595.4,90.4L596.1,91.8L597.4,92.5L598.7,94.4L598.8,96.4L599.6,97.9L598.8,98.0L596.6,96.3L595.7,94.6L595.5,92.7L593.6,90.2L593.2,88.2L593.4,85.4L592.1,82.0L591.5,80.5L589.8,81.6L588.6,81.4L588.4,78.6L586.7,76.5L585.5,75.2L584.8,73.8L584.0,74.6L582.5,74.9L580.6,75.2L580.3,76.9L579.0,77.7L576.7,80.5L574.8,82.0L575.0,84.8L574.8,87.8L573.5,89.3L572.6,90.3L571.6,88.7L570.7,86.5L569.2,83.1L567.9,80.8L567.0,77.4L566.5,75.4L564.5,76.0L562.9,74.3L564.1,73.7L562.2,72.9L560.9,71.4L560.0,70.8L558.1,70.9L555.2,71.0L552.5,70.5L551.0,70.3L550.2,68.8L548.2,69.4L546.2,68.4L544.9,67.5L543.6,65.5L542.1,65.5L541.5,66.1L542.5,68.0L544.0,69.5L544.8,71.4L545.7,72.1L548.0,72.1L549.3,70.6L549.9,69.8L550.3,71.3L551.8,72.6L553.9,74.0L552.8,76.3L552.2,78.0L551.3,78.4L549.9,79.7L547.0,81.8L544.0,83.4L540.6,84.8L538.6,85.2L537.8,83.1L537.6,80.8L536.0,78.6L533.8,75.2L532.9,72.6L531.5,70.6L529.9,68.4L528.9,67.5L529.0,66.1L528.4,67.8L528.1,68.0L526.7,65.7L527.8,68.6L530.0,72.3L531.9,75.7L533.3,79.1L534.8,82.0L536.5,83.9L538.4,85.7L539.7,87.7L542.1,86.9L546.3,86.1L546.1,87.7L546.0,89.9L544.3,92.7L542.8,94.7L540.9,97.2L538.9,98.9L536.9,101.5L535.6,102.9L534.5,104.8L534.6,107.2L534.8,109.1L535.5,111.4L535.6,113.6L535.7,116.1L534.4,118.5L531.6,120.4L529.8,122.1L530.1,125.0L529.8,126.7L527.3,128.7L526.7,131.8L525.2,133.2L524.1,134.9L522.0,136.9L519.7,138.0L517.2,137.9L514.3,138.9L512.9,138.2L512.8,136.3L512.0,133.5L511.3,131.9L510.2,130.1L509.6,125.5L508.5,122.7L507.0,119.1L507.6,115.3L509.0,112.5L508.5,109.7L507.7,106.4L507.4,105.2L505.4,102.7L504.4,100.3L504.9,97.8L505.1,95.8L504.1,94.4L502.4,94.5L500.9,94.1L499.9,92.4L497.4,92.4L494.4,93.6L492.4,93.7L490.4,93.6L487.9,94.5L486.1,93.3L483.9,91.7L482.2,89.9L481.7,88.4L480.5,87.2L478.8,85.5L478.1,82.9L479.1,81.4L479.4,78.0L478.7,75.7L479.8,72.7L481.3,70.3L482.8,68.4L484.8,67.2L486.0,65.8L486.0,63.8L487.3,61.8L489.0,61.0L489.9,59.0L493.5,59.8L495.4,58.9L498.2,57.9L501.5,57.5L504.5,57.3L505.7,57.6L505.1,58.5L505.7,59.3L505.1,61.0L506.3,61.9L507.8,62.3L510.0,62.9L511.7,64.4L513.6,65.2L514.5,64.2L514.5,63.1L515.8,62.3L517.3,62.6L519.3,63.6L521.7,64.1L523.6,64.4L525.0,63.7L526.3,64.2L528.1,64.1L528.5,62.7L528.9,61.6L529.2,59.9L529.0,58.4L529.3,58.0L527.7,57.9L525.9,58.6L524.0,58.3L522.6,58.1L521.1,57.3L520.0,55.9L519.9,54.8L519.5,54.1L518.3,53.2L517.0,53.7L516.4,53.7L516.4,54.8L516.8,56.3L517.7,56.5L516.9,57.6L516.5,58.2L515.7,57.9L515.4,56.5L514.6,55.4L513.9,54.6L513.2,53.5L513.2,52.2L512.2,51.4L510.8,50.7L509.4,49.8L508.4,48.4L507.5,48.0L506.5,48.2L506.5,49.2L507.6,50.2L508.6,51.8L510.0,52.6L511.5,53.5L512.4,54.1L511.2,54.8L510.7,55.5L510.3,56.5L510.0,55.9L510.0,54.8L509.2,54.0L508.2,53.3L506.8,52.6L505.4,51.4L504.6,50.0L503.3,49.3L502.3,50.0L500.8,50.8L499.5,50.4L498.3,50.7L498.3,52.0L497.2,52.9L496.1,53.3L495.2,54.8L495.6,55.7L494.7,56.9L493.3,58.0L491.3,58.0ZM364.4,23.6L366.0,24.9L368.0,25.6L368.0,26.3L366.2,26.9L363.0,28.1L361.4,27.6L358.7,27.4ZM490.5,43.0L492.4,42.8L495.4,42.3L496.6,41.8L496.8,40.2L495.7,39.4L495.2,38.8L494.1,37.7L493.7,36.8L493.0,36.4L493.8,34.8L492.5,34.8L492.9,33.9L491.4,33.9L490.7,35.1L490.8,36.3L490.3,36.6L491.2,37.2L491.4,37.8L492.7,37.8L492.5,38.5L493.0,39.0L492.9,39.5L491.5,39.5L491.8,40.4L490.9,41.2L492.6,41.6L491.8,41.8L490.5,43.0ZM490.3,40.7L490.2,39.2L490.8,38.4L490.2,37.4L488.5,37.5L488.3,38.2L487.0,38.6L486.9,39.5L487.3,40.3L486.5,41.1L487.2,41.5L488.5,41.2ZM506.9,56.5L509.9,56.2L509.5,58.0L507.1,56.9ZM503.1,53.1L504.3,53.1L504.3,55.1L503.2,55.4ZM503.2,51.0L503.9,50.9L504.1,52.6L503.3,52.3ZM517.5,59.2L520.2,59.5L519.9,59.9L518.0,59.9ZM525.8,59.9L527.9,59.1L527.4,60.0L526.2,60.3ZM502.4,14.7L505.3,13.8L509.0,13.4L512.2,13.8L509.5,15.1L507.1,16.2L505.2,16.0L504.1,15.5ZM531.7,21.1L533.9,19.3L532.7,18.4L534.9,16.6L539.8,16.2L537.5,17.5L535.7,18.8L535.1,20.2L534.8,21.6L533.2,21.9ZM524.4,13.4L526.9,12.6L533.3,13.0L530.8,13.8L526.5,13.8ZM556.0,14.5L556.5,13.0L561.2,14.1L562.2,15.4L558.5,14.9ZM587.6,18.4L588.9,17.1L594.3,17.5L593.7,19.3L589.6,18.8ZM368.8,21.1L369.7,21.4L367.8,21.7ZM621.3,21.1L622.4,21.1L623.3,21.7L622.3,21.6ZM621.9,47.5L622.8,47.0L620.1,43.7L621.7,44.2L617.7,40.9L616.0,38.8L615.1,38.5L616.7,40.9L619.2,43.7L620.6,45.9ZM623.4,52.6L624.3,52.2L624.7,51.7L626.1,52.0L627.1,50.5L626.1,49.8L624.6,49.5L622.1,48.2L623.5,50.7L622.4,50.5L623.0,51.8ZM624.4,52.7L625.5,53.7L626.9,55.4L626.4,56.2L627.3,57.9L627.6,59.1L627.4,59.9L626.5,59.7L626.2,60.3L624.7,60.3L624.7,60.7L623.8,61.5L622.9,60.3L621.5,60.6L620.4,61.1L619.4,61.0L619.1,60.4L620.5,59.3L623.0,59.3L623.1,57.3L623.8,57.9L624.6,57.2L625.1,56.3L624.7,54.8L624.1,53.7ZM621.2,61.9L621.2,60.9L622.6,60.8L623.0,61.2L622.4,61.8L621.9,62.5ZM618.5,61.9L619.3,61.1L620.4,61.6L621.0,63.8L620.4,64.4L619.8,63.8L619.3,62.5ZM613.5,70.9L614.1,71.2L613.8,74.6L612.9,73.7L612.6,72.8ZM602.3,77.8L603.9,76.7L604.5,77.3L603.7,78.8L602.4,78.6ZM614.1,78.6L615.7,78.6L616.3,80.3L615.6,81.5L616.3,83.7L618.4,84.2L618.0,85.0L616.4,84.2L614.9,83.4L614.2,81.4ZM617.1,91.6L617.2,90.6L619.0,90.4L620.3,88.6L621.5,91.0L621.1,92.4L620.4,93.2L619.1,92.3ZM617.2,86.5L618.3,87.6L619.8,86.5L619.5,85.4L618.5,85.4L617.8,88.2ZM612.2,90.0L614.1,87.6L614.2,86.8L613.4,88.7ZM604.4,97.8L604.9,100.6L605.5,102.9L607.3,103.3L609.8,104.0L611.3,103.6L611.8,101.8L612.9,99.5L613.2,98.4L614.4,98.4L613.3,96.7L614.4,93.5L612.6,91.7L611.6,91.8L610.7,93.6L609.4,94.4L608.3,95.9L606.8,96.7L605.3,97.5ZM590.5,93.2L592.7,93.6L595.6,96.7L596.8,97.2L598.9,98.9L599.4,100.6L599.9,102.3L601.3,103.1L601.0,106.1L599.7,106.2L597.6,104.0L596.3,102.1L595.7,100.1L594.4,98.0L593.3,96.8L591.8,95.2ZM600.3,107.2L601.2,106.2L603.5,106.6L605.6,107.3L607.6,107.3L609.5,108.3L609.4,109.2L606.0,108.8L603.6,108.3L601.5,107.9ZM610.0,108.8L612.0,108.8L614.0,108.8L613.9,109.5L610.9,109.7L610.0,109.5ZM614.8,109.1L618.0,108.9L617.9,109.3L614.9,109.6ZM618.9,110.0L621.9,109.0L622.2,109.1L619.3,111.0L618.3,111.2ZM614.5,105.7L614.8,103.5L614.1,102.6L615.2,99.4L615.9,98.5L618.4,98.5L620.4,97.8L619.7,98.9L616.9,98.9L615.7,99.5L616.6,100.6L618.4,100.5L616.8,101.7L617.8,103.5L617.2,105.2L616.3,104.0L615.8,102.4L615.5,105.7ZM622.8,97.5L623.8,97.8L623.4,98.9L624.1,100.1L623.2,100.4L623.2,98.6ZM623.3,103.1L626.1,103.3L625.8,103.9L623.5,103.5ZM626.4,101.0L627.9,100.0L629.4,100.5L629.6,102.3L630.8,103.2L632.8,101.3L635.3,102.2L637.8,103.2L639.7,103.8L641.0,105.2L642.6,106.4L642.2,108.0L643.3,109.6L644.6,111.2L643.2,111.0L641.3,109.5L639.0,108.2L638.1,109.7L635.8,109.8L634.4,108.8L633.4,109.0L633.0,108.0L633.9,107.2L633.2,105.7L630.2,104.5L628.7,104.0L627.8,103.2L629.1,102.3L627.3,102.7L626.8,101.2ZM643.6,105.7L645.2,105.2L646.7,104.3L647.1,105.5L645.6,106.6L643.6,106.3ZM574.9,88.4L575.2,88.4L577.1,91.0L576.8,92.4L575.7,92.8L575.1,91.8ZM544.4,113.1L545.4,117.0L544.2,119.3L542.4,124.4L541.1,127.8L539.3,128.4L538.2,127.6L537.8,124.4L538.8,122.1L538.8,119.3L539.4,117.8L541.4,117.4L543.0,115.0ZM606.4,125.0L607.0,124.3L609.9,122.8L612.0,122.5L614.3,121.6L616.1,119.0L617.5,117.8L619.2,115.9L621.3,115.1L622.3,116.4L623.7,116.4L624.6,114.6L625.3,113.5L627.1,113.2L627.1,112.5L628.9,113.1L630.4,113.3L631.3,113.3L630.8,114.6L629.6,116.1L630.6,117.5L631.9,118.5L633.4,119.5L635.1,118.2L635.7,115.3L635.9,113.8L637.1,111.6L637.7,113.4L637.6,115.6L638.6,115.7L639.2,116.5L639.0,118.2L639.2,120.9L641.4,122.6L641.8,124.9L642.8,125.3L643.1,126.8L644.2,128.4L643.5,131.8L642.1,134.0L640.5,136.3L638.6,137.9L636.6,139.9L635.3,141.8L633.2,142.3L630.9,143.6L630.0,142.7L628.4,143.4L626.9,142.8L626.0,141.8L626.3,140.5L625.3,139.8L626.3,138.3L624.9,139.3L625.0,138.0L626.3,136.9L623.7,138.7L623.3,137.6L622.9,136.5L620.8,135.2L618.0,135.4L615.4,136.1L613.2,136.9L611.8,137.9L609.0,137.9L606.6,139.1L604.8,138.9L604.1,138.2L605.0,137.4L605.7,135.7L606.0,132.9L605.9,129.5L605.7,128.4L606.2,129.3L605.8,127.2ZM628.2,145.5L631.4,145.8L630.5,147.2L628.7,148.5L627.3,148.8L627.6,147.2ZM658.6,138.4L659.3,140.0L659.4,141.4L659.5,142.1L661.7,142.2L660.0,143.9L659.0,144.1L657.1,145.7L655.3,146.6L655.3,146.1L656.7,144.8L656.2,143.9L657.4,143.1L658.7,141.3L658.5,139.1ZM654.1,145.3L654.8,146.2L653.4,147.6L651.4,148.8L649.3,149.8L647.4,151.4L645.6,152.1L643.7,151.5L644.8,150.4L647.3,149.2L650.1,148.0L652.1,146.7ZM656.4,122.4L658.7,124.9L658.3,124.7L656.6,122.9ZM342.4,76.5L343.2,77.4L342.1,78.1L341.9,77.1L341.0,75.7L339.4,74.3L338.6,74.5L340.6,75.5ZM627.0,49.8L628.2,48.3L627.3,48.3ZM670.2,119.3L671.5,119.3L671.2,120.1L670.2,120.0ZM651.5,107.0L652.5,107.8L655.2,110.3L656.0,110.3L654.7,108.9L652.5,107.4ZM660.2,116.5L661.1,117.0L660.6,118.2Z" fill="#a1a4a9"/><path d="M521.0,52.9L522.0,52.9L523.8,53.0L525.5,52.0L527.3,52.0L528.8,52.8L530.7,53.1L532.1,53.1L533.3,52.6L533.2,51.4L531.6,50.3L529.6,49.2L528.5,48.4L527.2,48.4L525.5,49.3L524.5,48.3L525.2,47.5L523.4,46.9L522.5,47.4L522.0,48.3L521.2,49.4L520.8,50.9ZM526.7,48.3L528.0,48.2L529.5,46.3L528.2,46.5L526.7,47.2ZM537.6,49.2L538.5,50.9L540.0,52.6L541.0,54.0L540.9,55.9L541.0,57.1L542.1,57.6L543.6,58.0L545.8,57.7L545.2,56.5L544.4,54.8L544.6,53.7L543.7,52.9L543.3,52.0L541.9,50.7L540.8,49.4L541.4,48.1L542.4,46.9L540.5,46.4L538.9,46.9L537.8,48.0ZM547.5,47.5L550.2,49.2L549.6,47.0L548.2,47.0Z" fill="#fff"/><g fill="none" stroke-linecap="round" stroke-linejoin="round"><path d="M398.0,64.1L396.4,64.2L395.0,64.7M413.7,31.0L413.1,29.8L412.0,29.6M429.4,143.7L430.7,144.0L431.5,144.5M509.2,43.7L510.7,44.3M495.9,48.1L495.0,47.5M519.1,43.1L517.7,43.8L517.3,44.7L516.4,45.3M517.6,39.5L518.3,38.8M518.9,47.0L520.1,47.4M547.4,32.9L548.7,33.7M555.9,33.0L554.9,32.4L553.5,31.6M396.2,34.1L395.4,32.9L394.6,31.6L393.9,30.2M531.1,54.7L530.4,53.8" stroke="#ebe3a8" stroke-width="1.00"/><path d="M380.9,25.0L381.9,23.7L382.3,22.5M434.0,141.9L433.1,142.9L433.1,144.2L431.7,144.9M506.0,42.8L507.4,43.7L508.6,44.0M493.7,36.9L493.0,36.3L493.3,35.2M518.8,45.6L519.9,46.6M487.5,50.8L488.7,50.2M526.7,47.3L525.4,47.5M495.4,50.1L496.3,50.0M566.5,32.2L566.4,33.1M547.3,39.7L548.1,40.4M568.9,34.1L568.0,33.3M581.5,42.8L582.6,43.9L583.3,45.1L582.9,46.9M557.9,38.4L557.5,40.1L557.7,41.2L557.5,42.2M569.4,40.0L568.3,38.6M587.3,38.4L586.2,39.7M564.0,39.0L563.2,39.7L562.2,39.5M576.2,31.0L575.3,31.7L574.1,32.3M565.1,39.2L565.4,37.9L565.0,36.8M553.3,50.0L554.5,50.6L554.6,51.9L554.4,52.9M598.1,41.8L598.7,42.9M611.0,45.6L610.3,44.8L610.5,43.1L611.8,41.8M595.5,65.8L596.6,66.0L597.6,66.5M565.1,51.9L564.6,52.9L564.8,54.2M637.7,131.9L638.4,131.0L638.8,130.0L639.4,128.9" stroke="#eecf98" stroke-width="1.00"/><path d="M392.8,41.5L391.1,41.6M429.7,47.2L428.4,48.4L428.3,50.2M416.5,50.3L418.2,50.2M408.1,59.5L407.5,61.1M394.7,74.0L395.0,73.0M386.3,30.1L385.4,31.1L384.2,31.6M432.8,138.3L434.0,138.6L435.4,138.8M429.5,139.5L430.4,139.3L431.6,138.4L432.4,137.9M434.3,138.5L434.5,140.2M500.9,47.3L499.6,48.0L498.4,48.0M513.8,38.2L513.6,36.7L513.9,34.9M499.3,49.2L497.9,49.8L496.8,50.9L495.7,52.1M507.3,40.3L508.1,41.1L508.1,42.3M519.3,49.9L520.5,50.5M497.7,44.2L498.5,43.2L499.5,42.1M518.1,48.3L518.0,47.0M518.1,40.2L518.9,39.8L520.3,39.2M527.6,42.7L527.1,41.3L526.5,40.0M517.7,46.5L519.1,46.2L520.4,46.0M537.4,44.0L538.4,44.4L539.2,44.8L540.3,44.8M520.6,34.3L520.3,35.2M564.8,33.1L565.7,33.7L566.7,34.1M569.0,39.7L570.0,40.8M566.7,43.0L567.4,41.9M579.2,37.7L578.1,36.3M562.2,32.3L563.0,30.8M562.0,51.4L563.2,52.4L564.2,53.1M597.9,44.2L596.8,45.0L595.4,45.5L594.5,46.4M597.5,43.1L598.5,41.6L598.5,40.5L598.1,38.8M594.9,47.9L596.1,46.9L597.3,45.8L598.0,44.8M393.8,31.1L392.7,30.9L391.6,30.7L390.3,30.1M400.1,27.6L400.2,25.8L400.3,24.2M393.1,27.5L391.7,27.3L390.6,27.1M389.6,36.0L390.4,34.6L390.3,32.9M530.1,58.6L530.9,60.2M486.5,83.1L485.7,84.4L484.0,84.6L483.4,85.3M518.3,133.8L519.3,132.4L518.5,131.9M514.5,134.7L515.4,133.4M590.3,77.9L590.7,76.4L589.3,75.5M603.1,52.8L604.3,52.6M595.9,52.9L596.2,51.8L597.1,50.3M605.1,59.3L604.4,57.8L603.4,57.4L602.2,57.3M592.7,53.0L593.4,52.0M610.0,49.7L610.8,50.4L612.0,50.9L613.2,51.2M551.4,51.5L552.8,52.6M565.0,54.5L564.2,55.1L564.3,56.6M553.0,58.2L553.0,59.1" stroke="#f0b98a" stroke-width="1.00"/><path d="M389.5,44.3L390.4,44.9L391.9,45.6M395.5,51.0L394.6,51.4L393.5,51.8M401.0,41.9L402.6,42.0L403.8,42.3M412.2,44.5L411.0,43.4L409.9,42.3M404.6,62.9L403.6,63.3L402.5,63.3L401.5,63.5M402.2,49.9L402.2,50.9L401.6,51.9L400.0,52.6M416.5,58.4L416.5,56.8L416.8,55.8M411.9,46.8L410.7,47.7L410.1,49.4M411.2,53.6L412.0,54.7L412.6,56.4M409.1,38.0L409.3,39.2M413.9,44.8L414.7,43.9L415.9,43.0L417.1,43.0M413.7,44.3L414.3,43.4L415.6,43.5M397.2,70.5L396.6,69.8M400.0,77.4L398.8,77.9M387.0,29.7L387.8,28.6M434.8,146.1L436.3,147.0M516.3,51.3L515.1,50.2L515.2,48.9M501.4,44.7L501.6,43.6L502.2,42.1L502.3,41.0M503.5,41.4L504.4,41.0L504.9,39.4M517.3,50.5L518.4,51.1L519.3,51.7M517.2,42.7L515.8,42.4M496.5,51.3L494.8,51.3L493.7,51.8L493.0,52.6M495.0,48.5L495.9,49.1L496.4,50.1L496.5,51.1M505.1,45.2L504.1,45.8L503.0,46.0L502.0,47.0M517.5,38.5L518.2,39.6L518.8,40.8M517.4,38.4L516.6,37.9L516.1,36.7M526.1,45.3L527.4,44.8L528.8,44.8M541.9,35.0L541.5,33.2L541.6,31.6M546.7,43.3L546.7,44.5L546.2,45.9L545.0,46.7M537.6,38.4L539.3,37.8L540.8,37.8L541.6,38.5M538.7,39.5L539.8,38.8L540.5,37.3L541.4,36.1M537.3,46.3L536.6,46.9M556.4,43.1L557.4,41.8L559.0,41.6L559.9,41.1M551.9,38.5L552.9,38.1M570.6,41.2L569.8,40.0M544.8,31.8L546.3,31.6L547.8,31.3L548.9,30.2M560.9,42.2L561.1,40.8L560.8,39.4M551.2,43.3L552.4,43.1L553.4,43.3M555.7,31.7L556.8,32.6M555.9,37.2L555.4,38.2L554.9,39.9L554.6,41.6M576.5,44.0L578.0,44.1L578.7,43.1L579.0,41.4M558.8,43.6L558.4,42.6M556.9,44.4L556.2,43.7L555.2,42.5M612.9,48.5L612.0,47.5L612.7,46.5L614.2,46.6M603.9,47.0L603.0,45.8M603.3,40.0L602.0,40.4L600.7,41.0L599.6,41.2M533.3,57.6L534.0,59.0L534.2,60.0M534.3,63.9L532.9,64.8M542.7,63.2L542.0,64.1M532.7,64.1L531.6,64.5L530.4,64.8L529.4,64.4M521.8,131.3L521.4,132.2L521.1,133.2L521.6,134.4M523.2,133.3L524.9,133.1M576.8,77.0L576.0,78.0M571.0,85.8L571.7,84.3L573.1,83.2M604.5,54.8L603.4,55.5M600.3,56.8L599.0,58.0L599.0,59.5M611.5,47.7L612.4,47.1L613.2,48.2L614.2,48.7M606.7,44.5L606.3,42.8M553.3,50.9L552.2,49.6L551.4,48.3M566.2,51.2L567.0,50.2L567.5,49.2L568.1,48.4M552.8,57.2L553.1,55.8M564.4,51.9L564.4,50.9M638.9,131.3L639.4,132.9L639.6,134.0L641.3,134.3" stroke="#eea37c" stroke-width="1.00"/><path d="M388.4,45.2L387.1,45.9M401.2,44.6L401.9,43.9L403.6,44.0M396.5,45.7L396.0,47.3L395.1,48.3L393.5,48.6M385.4,63.0L386.2,62.3M390.7,61.4L389.4,60.9L388.1,60.5L386.6,60.0M390.4,55.0L390.4,56.2L391.7,57.1L393.3,56.9M401.4,44.3L401.2,45.6L401.7,46.5M386.3,58.6L385.8,57.7L385.1,56.7M399.6,51.5L398.8,52.6L398.6,53.6M384.5,54.8L384.6,55.9M402.9,56.4L403.3,58.0L404.1,58.8L405.5,59.8M402.3,58.9L402.2,57.4L401.4,56.4M388.7,49.1L387.5,49.1M408.0,58.6L409.6,59.2L410.7,59.0M421.1,46.5L421.6,45.7L421.0,45.0L420.0,44.5M410.5,56.3L409.4,56.5L409.0,57.7L408.4,59.3M422.7,55.0L422.8,55.9M395.6,24.7L394.0,24.4L392.7,23.6L391.4,23.2M386.9,31.7L386.5,32.5M385.4,27.5L385.6,29.1M386.2,26.9L385.2,26.0L383.5,25.7M436.8,125.0L438.2,124.5M434.0,116.5L433.2,117.7L433.2,119.2L434.1,120.6M435.4,150.2L433.7,150.1L432.6,149.9L431.5,149.3M516.2,48.8L516.9,49.8L517.4,51.1M498.8,47.5L498.6,45.9M517.3,45.2L518.7,44.2L519.1,42.9M489.7,52.0L490.7,52.5L492.3,52.7M500.1,45.7L500.5,46.8M517.3,42.9L518.8,43.0M512.8,39.0L511.6,38.3M513.4,38.4L514.0,40.0M510.2,41.2L510.9,42.0M504.8,47.1L503.1,47.6L502.2,47.5M498.7,45.7L498.4,46.9L499.1,48.5L500.5,49.5M496.4,50.4L494.8,50.8M515.6,48.3L514.6,48.9L513.1,48.9M491.9,40.6L492.8,41.4M521.3,47.3L521.4,48.3M505.1,43.6L504.2,43.2L502.9,43.0M503.2,42.9L502.4,42.2L501.7,41.2L500.8,40.3M525.1,39.4L525.6,38.3L527.3,38.5L528.4,39.5M526.2,34.6L526.4,32.9L526.3,31.7L526.1,30.4M539.8,34.3L538.9,33.2L539.4,31.8M526.7,42.1L527.0,43.1M527.5,44.5L525.9,44.5L524.3,44.8M545.2,43.8L546.5,44.7L546.9,46.0L547.3,47.0M535.2,42.8L535.1,44.2L535.7,45.6L536.1,47.0M541.6,35.2L540.3,35.8L539.0,36.9L538.7,37.8M533.7,41.6L532.7,41.0L531.8,40.9L530.7,41.1M526.0,43.6L526.3,44.6M494.0,51.1L494.4,50.2L494.9,49.4L495.7,48.8M495.0,53.4L495.2,52.3M554.6,30.8L555.5,29.7L557.3,29.4L558.2,28.8M583.2,34.4L583.6,35.4L584.0,36.3L584.8,37.9M555.1,45.8L555.8,45.2M554.7,46.1L554.5,47.3M602.1,39.3L600.3,39.1M608.1,45.6L609.4,44.8M534.3,61.5L532.8,61.4M529.4,57.5L528.7,56.8L527.3,55.9M524.5,123.0L524.7,122.0L524.3,120.4M530.5,112.4L529.3,112.1M523.4,128.6L524.4,129.1L525.4,129.6L526.4,130.5M515.5,128.7L516.8,128.9L518.4,128.7L520.1,128.1M572.2,87.1L573.7,86.3M597.9,72.5L596.9,72.0M606.4,58.1L607.8,59.3M554.9,50.1L553.9,49.6M560.7,52.8L559.8,52.9L558.4,52.8M554.9,53.5L553.9,52.7M638.2,131.1L638.5,132.3" stroke="#ed9373" stroke-width="1.00"/><path d="M396.2,48.1L400.1,45.9L403.8,45.5L406.2,46.1L405.3,48.6L406.4,51.1L407.5,52.8L407.0,55.4L410.0,55.9L411.7,55.8M499.4,48.6L499.7,49.8L499.6,50.4M497.6,45.3L496.3,44.2L495.6,43.7M498.1,46.4L496.3,46.0L494.5,46.1L493.5,46.1M502.6,48.4L504.4,48.6L506.2,48.6M529.9,30.4L528.0,29.4L526.7,27.9M632.4,140.2L630.5,138.6L628.4,138.0L626.5,139.5M640.4,130.6L637.2,132.9L634.1,134.6L632.0,136.3L629.8,138.0" stroke="#ed9373" stroke-width="0.80"/><path d="M503.0,46.9L502.1,45.8L502.7,44.2L502.0,42.7L501.2,41.5L500.1,41.1L499.0,41.1" stroke="#ed9373" stroke-width="0.90"/><path d="M398.5,42.1L399.6,40.9M402.6,45.4L402.1,44.2L401.3,43.3L400.9,41.6M390.3,41.3L390.7,39.9M399.8,47.4L398.9,46.7M399.1,41.3L399.8,42.0L401.4,42.7M395.4,50.7L396.3,49.3L397.0,48.7M388.5,45.7L387.9,44.7M387.4,62.5L388.1,63.7L389.2,63.6M407.6,44.9L409.1,44.6M394.6,44.5L395.9,43.5M402.5,64.6L401.1,64.9L400.3,65.7L399.6,66.5M398.9,47.4L398.2,46.3M399.7,62.9L400.8,62.6L402.2,62.4M413.0,50.4L413.9,49.9L414.5,49.1M417.3,60.1L417.9,61.7L418.4,62.7M419.6,51.4L420.8,51.1L422.0,51.0M421.0,47.7L421.8,49.1L421.8,50.3M425.5,54.8L424.4,55.2M411.3,49.4L410.0,49.1L408.6,48.6L407.3,47.9M418.9,49.0L419.2,50.6L419.4,51.7M395.5,68.4L395.5,67.2L395.6,65.8M399.0,70.0L399.1,71.0L399.3,71.9M395.5,73.2L394.4,74.0M400.0,70.7L399.3,69.7L398.9,68.1M379.5,26.7L378.6,26.5L377.3,26.7L376.5,25.9M434.5,124.4L432.8,123.9L431.8,123.6L430.5,123.3M432.1,125.4L433.0,125.9L434.5,126.1M438.3,139.0L438.4,140.2L439.7,140.9M438.5,143.0L438.1,144.3M498.2,46.3L499.0,45.3L499.7,44.4M521.0,45.4L521.7,46.6L522.5,47.1M512.4,47.2L513.1,47.8L514.3,48.2M510.7,42.3L509.3,43.3L507.8,42.8L506.9,42.7M520.4,50.0L518.6,50.4M519.3,40.4L518.3,41.5L518.1,42.7M515.1,51.0L514.1,51.8M508.4,39.2L506.8,39.3M518.0,43.0L517.3,44.3L517.0,45.6L516.6,46.9M496.8,46.6L495.9,47.0M520.1,46.8L521.4,46.5L522.6,46.3L523.5,45.7M506.8,36.9L508.0,35.7M508.8,48.9L510.2,48.8L510.8,49.6L511.7,50.7M500.1,44.8L501.2,45.6L502.0,47.1L501.8,48.3M503.7,42.7L502.5,42.4L501.8,41.5M518.2,48.8L519.6,49.5M544.3,35.6L545.8,36.4L546.9,37.5L548.1,38.7M524.0,37.0L523.1,37.7L521.8,38.5M534.9,33.1L535.3,34.1L535.6,35.2L534.5,35.9M526.5,45.7L525.4,46.9M540.1,35.6L540.5,34.0L540.3,32.9M526.1,46.7L525.8,47.5L525.8,48.7M532.1,39.5L532.8,40.4L532.4,41.4M543.2,45.6L544.6,46.7M520.6,35.5L521.8,34.6L522.7,33.9M523.8,37.3L522.9,36.9M526.8,44.2L528.4,44.2M536.8,32.5L535.3,31.9L534.1,32.2M527.4,35.6L526.0,35.0M534.3,37.0L535.1,36.0M516.8,38.0L518.1,38.0L518.9,36.5L520.2,35.8M518.4,37.2L516.6,37.0L515.0,37.5L514.2,37.2M521.2,38.4L519.8,39.1M517.4,41.4L518.6,40.4L520.1,41.0L521.4,40.8M492.9,51.3L493.5,52.3L494.1,54.0L494.5,55.7M550.1,47.3L550.6,48.1L551.7,48.6M591.0,39.8L589.6,39.2M616.9,46.3L618.2,45.2M402.7,32.9L402.0,33.9L401.2,35.4M527.9,54.7L527.4,53.7M532.8,58.7L532.5,57.2M533.1,55.1L533.2,53.4L534.0,53.0L534.7,52.2M493.1,88.0L493.0,87.0L492.1,85.4M533.0,118.7L532.0,120.2L530.8,121.2M526.6,100.9L527.0,99.3L527.7,98.4M534.6,89.6L534.2,87.9L534.4,86.6M517.7,134.1L517.9,135.1L517.2,136.1M571.8,71.1L572.2,69.5L573.3,68.1L573.5,67.0M581.3,71.4L581.6,72.6L580.9,73.3L580.3,74.2M572.4,64.4L572.8,63.6L573.1,62.4L573.4,61.3M577.5,77.5L576.2,77.1L574.8,77.5L573.8,77.5M597.5,69.9L598.6,70.6L599.4,69.4M595.1,73.8L595.3,72.1L595.7,70.6L596.8,69.2M592.8,64.3L592.8,65.8L591.5,66.7L590.5,66.6M608.4,68.5L607.7,69.5L606.9,69.8L606.1,70.5M594.9,70.6L594.8,69.3M600.2,71.2L598.9,70.2M603.4,54.3L603.9,53.5L605.0,52.4M594.7,56.9L595.8,55.4L596.4,54.8M594.6,52.8L593.6,53.6L592.4,54.1L591.3,53.6M600.1,59.8L598.9,60.9L597.9,61.9M597.1,57.2L598.2,58.2M606.5,58.1L608.2,58.0M599.3,56.3L597.8,57.2L596.2,58.0L595.4,59.2M563.8,56.7L563.5,55.8L564.1,54.5L565.4,53.2M556.6,54.2L557.6,53.3L559.3,53.1M565.5,53.3L566.2,54.1M638.3,130.3L639.2,131.3M629.8,135.3L628.6,135.3" stroke="#eb846b" stroke-width="1.00"/><path d="M523.3,132.9L518.5,132.9L514.7,132.0L511.3,131.8M521.7,127.2L525.7,124.7L528.0,127.8M397.2,55.4L401.4,56.5L404.0,57.1L406.0,59.3L409.0,60.4L409.0,62.1M395.9,58.8L399.3,59.9L402.7,61.0L405.8,61.6L407.5,63.8L408.1,64.4M510.2,43.1L508.2,40.9L507.7,39.3M512.8,43.7L513.5,42.0L513.3,40.4L511.5,39.3L511.1,38.4M495.9,50.3L495.0,49.2L494.5,48.6M492.6,53.7L489.9,54.8L487.1,55.6M491.8,51.4L494.5,52.3L496.1,53.5M562.7,54.2L557.9,53.7L554.3,50.9L550.2,47.8M560.7,57.1L556.8,56.5L553.6,54.8L550.1,52.0L548.7,50.3" stroke="#eb846b" stroke-width="0.80"/><path d="M502.6,45.3L504.2,44.8L506.4,44.8L509.9,45.1L512.1,45.5L512.4,48.1L513.8,48.9L515.6,49.2L517.5,50.1L519.7,49.7L520.4,48.3L521.8,48.4M538.9,33.5L538.3,36.1L537.0,37.2L536.0,36.9" stroke="#eb846b" stroke-width="0.90"/><path d="M388.1,49.2L386.7,49.9M397.5,51.1L396.6,49.8M408.3,45.5L409.8,46.3L410.8,46.8M401.8,52.5L402.5,53.2M392.7,46.8L391.6,47.4L391.3,48.3L389.8,49.0M391.4,49.3L392.5,48.9L393.4,48.4L393.8,47.1M403.1,44.2L401.9,44.1M397.4,50.5L397.5,51.7L397.1,53.5M400.0,61.9L401.3,62.5L402.1,63.3M403.8,59.4L404.7,60.4L405.5,60.9M391.3,47.3L391.3,48.5L391.2,49.5L391.4,51.2M407.9,57.3L408.5,56.4L408.8,55.1L407.7,54.5M419.3,55.2L420.6,55.7L421.8,56.7L422.5,57.6M416.1,57.4L417.5,58.2M418.4,52.8L417.0,52.4L415.7,51.2L414.7,50.7M406.2,61.0L406.5,59.8M414.3,50.4L413.4,51.9L412.8,52.7L412.3,54.4M430.4,52.1L429.6,51.4L428.4,50.3L428.1,49.3M423.0,47.5L423.8,47.1M416.5,52.6L416.8,54.2L416.7,55.6L416.7,57.1M418.8,58.8L419.9,58.9L421.1,58.4M420.8,46.0L422.3,45.8L423.8,45.1M423.8,51.2L425.3,51.6L426.7,51.3M428.5,45.8L427.2,46.5M417.4,50.5L416.7,52.0M411.3,52.1L411.7,53.4L411.5,54.6M409.8,50.4L408.4,50.9L407.1,49.9L405.9,49.3M394.0,67.5L393.2,68.5L392.3,68.3M394.4,76.1L395.2,77.2L395.0,78.8M455.1,118.0L455.7,118.8L455.1,119.6M438.2,129.9L437.0,130.6L435.8,131.2L434.9,132.3M445.4,122.9L447.0,123.4L447.3,124.7M433.4,127.6L433.6,125.9M433.3,129.1L434.1,130.5L433.2,131.5M447.3,126.0L448.9,125.4L449.9,124.9M430.4,134.3L429.5,135.4L427.9,136.3M506.9,40.3L507.2,39.0M501.6,45.1L501.7,46.2L503.1,47.1L504.4,48.0M505.7,47.4L506.3,48.7L506.8,50.0M500.3,47.8L501.9,48.2L503.1,48.3M515.8,41.8L517.0,42.9L518.4,43.1M516.8,40.3L517.4,41.3L518.7,41.8L520.1,40.8M495.2,41.7L496.2,41.7M495.3,49.6L495.6,48.6L494.8,47.3L493.9,46.2M495.3,48.1L496.6,47.9L497.7,47.5M542.6,45.8L541.5,45.5L540.2,44.3L539.1,44.0M520.9,41.2L520.8,42.9M521.4,35.5L519.9,36.2M544.9,46.2L545.4,44.9M534.8,45.0L533.2,44.1M528.7,36.9L527.4,37.0M525.0,44.4L526.3,44.7L526.7,46.2L528.2,46.2M529.7,42.1L528.1,42.2L527.3,42.5M493.0,50.7L494.7,50.9L496.2,50.3M494.5,56.1L493.2,57.2L492.0,57.9M564.9,52.0L563.7,53.2M546.6,42.3L547.1,43.4L548.3,44.3M391.3,30.1L392.7,29.3M495.0,83.0L493.5,82.7L491.9,83.2M505.0,91.2L505.9,91.1L507.1,90.3L507.6,89.5M491.1,90.6L490.8,92.3L490.2,93.7L488.5,93.9M529.6,116.4L530.8,115.5M529.3,124.1L529.2,122.4L529.0,121.4L529.1,120.2M522.4,122.5L523.4,122.3M531.6,120.4L530.4,119.0L529.1,117.9M534.8,95.1L534.8,94.1M525.9,130.5L526.8,130.8M519.0,137.6L517.8,137.0L517.2,136.0M516.0,136.0L516.4,136.9L517.1,137.7M572.5,71.7L571.4,73.0L571.2,74.4L571.2,75.4M571.4,70.1L571.0,71.6L570.7,73.3L570.3,74.2M571.9,84.3L572.6,82.9M571.1,78.6L572.5,78.6M589.0,79.0L589.3,78.2L588.9,76.6M603.2,64.1L602.1,63.2L601.3,62.3M600.6,70.1L601.5,70.7L601.5,71.8M603.9,67.2L603.0,66.7M595.1,71.3L595.3,72.3L594.7,73.6M599.2,60.8L597.8,61.2M593.0,62.1L593.6,60.5L594.6,60.4L595.5,59.9M596.1,70.8L596.9,72.3L597.5,73.1M608.5,70.2L609.6,71.5L609.8,72.5M606.1,66.5L604.5,66.2L603.0,66.4M594.5,71.5L596.1,72.3M597.5,59.1L599.1,59.0L600.3,58.9L600.8,57.7M598.9,53.6L597.9,53.7L597.0,54.2L596.2,54.7M596.7,52.4L596.0,51.2L594.9,50.3L594.1,49.7M603.4,54.9L603.6,53.2L603.2,52.3M640.2,107.1L639.3,107.7M612.5,51.5L611.7,52.3M612.8,44.9L611.6,43.7M635.5,128.6L634.9,126.9L635.1,125.4" stroke="#e97663" stroke-width="1.00"/><path d="M522.7,36.6L525.1,36.3L528.1,35.1L531.7,36.3L535.2,36.9L536.6,38.8L536.6,41.5L535.6,44.2L537.4,46.4L538.1,47.3" stroke="#e97663" stroke-width="0.90"/><path d="M395.2,48.6L394.4,48.2M399.5,51.8L400.8,53.0M407.2,48.4L407.8,47.0L408.8,46.4L410.3,46.1M406.5,46.9L405.5,47.4L404.0,47.2L403.1,47.2M423.7,49.7L422.6,48.8L421.6,48.6L421.7,47.0M409.8,60.8L409.4,61.9L408.3,62.4L407.5,63.3M426.2,45.5L425.2,46.7L424.2,47.2M407.9,59.6L408.7,58.9L409.1,58.1M420.0,55.4L420.7,56.5L420.6,57.9L419.5,58.9M413.1,52.7L412.8,51.5L414.1,50.5L415.5,51.1M420.1,49.2L420.1,47.9L419.4,47.0M431.0,46.4L430.0,46.4L428.7,47.2M421.7,48.6L421.4,49.8L420.0,49.6L419.0,49.4M430.7,48.0L430.4,49.3M429.7,48.6L429.4,47.0L427.8,46.9L426.4,47.8M415.2,57.4L414.0,56.5L413.8,54.7L414.8,53.8M416.0,55.9L416.1,56.9L416.2,58.7L416.5,59.7M441.9,119.3L440.9,120.4L439.3,120.9L437.5,121.0M443.6,121.1L441.9,121.6M446.4,119.6L444.8,119.0M432.2,124.6L430.8,123.5L429.9,123.2L429.5,124.5M511.7,45.5L510.5,46.3L509.0,46.6L508.0,47.1M501.6,44.5L503.1,45.1L504.5,45.1M547.1,46.8L546.0,47.7M528.7,34.7L530.2,35.7M540.8,38.8L542.2,39.1L543.5,40.2L544.6,41.4M532.9,32.5L531.3,33.2M521.5,34.9L523.0,35.7L524.3,34.8L525.3,34.4M491.7,54.3L492.1,52.8M551.4,44.0L552.4,42.6M496.9,84.6L496.1,85.5L496.1,86.6M491.2,91.4L489.5,91.6L488.4,91.4M488.7,86.5L487.4,86.3L486.5,86.6L485.0,86.1M497.4,85.6L498.8,85.6M532.6,112.3L533.9,112.1L535.2,112.3M521.4,123.5L520.6,123.0M528.6,92.6L527.4,93.0L526.0,93.0M532.9,99.2L532.4,98.1M581.5,73.0L580.2,72.5M582.3,74.6L580.9,74.8L579.6,75.4L578.7,74.7M565.1,65.4L563.4,64.9L562.7,64.0M575.4,70.1L576.8,69.8L578.0,69.6L579.5,69.4M564.9,65.5L566.3,66.3L567.6,67.3L569.2,67.5M576.2,68.8L575.0,68.7M580.3,70.4L580.9,69.7M574.6,64.8L575.2,66.5L575.0,68.2M570.8,82.5L571.7,83.0L573.1,83.8L574.0,84.4M598.1,66.7L599.2,66.6M611.7,68.3L610.0,68.7L609.0,69.4M602.5,67.5L601.6,67.1M608.5,66.9L607.1,67.5L605.7,68.3M605.2,65.7L603.7,65.3L602.7,65.6L601.2,65.1M601.0,71.4L600.0,71.7L598.8,72.6L598.1,73.4M593.0,71.3L593.0,70.0M597.1,63.1L597.5,62.2M607.3,66.9L606.5,67.8L605.6,68.6M597.1,72.1L598.0,72.3L598.0,73.5M599.2,62.1L599.0,60.8M599.1,63.6L597.5,62.9L597.1,62.0" stroke="#e26864" stroke-width="1.00"/><path d="M395.1,50.3L391.9,51.2L390.4,49.8L391.4,47.1M395.7,52.6L393.3,55.9L390.9,58.4L388.4,58.6L386.5,62.1L385.9,63.3M508.4,43.1L506.2,42.0L504.7,39.9L503.7,39.2M493.6,52.0L491.8,52.0L489.9,52.6L487.5,53.0M492.6,56.5L490.7,56.7L489.5,57.7M521.2,37.2L521.9,40.9L521.8,42.6L524.3,44.8L525.8,45.9L524.2,46.8M527.9,39.3L529.4,42.0L531.2,44.2L532.3,45.3L530.7,46.1M518.0,43.7L520.0,45.3L522.0,46.9M540.9,34.5L543.4,36.6L546.3,39.9L544.5,42.0L541.8,41.5L540.2,42.0M568.1,77.4L571.3,79.7L574.4,80.8L575.9,80.8M568.9,80.3L571.5,81.2L574.4,81.1M570.9,85.4L572.9,86.5L574.8,87.0M629.9,147.0L629.1,147.6" stroke="#e26864" stroke-width="0.80"/><path d="M398.9,46.3L397.7,46.7M389.6,43.6L390.0,44.8L390.6,45.6L390.8,47.0M384.2,50.1L383.4,51.0L383.3,52.3M422.2,52.1L421.3,50.8M411.6,54.0L412.0,52.6L413.3,52.7L414.3,53.0M417.4,59.2L416.0,59.4M411.9,49.6L413.1,49.5L414.2,49.3M434.5,131.6L434.5,130.2L433.9,129.4L434.3,127.9M512.1,39.3L511.4,40.3M514.8,36.8L514.1,37.5L513.4,38.6L513.0,40.3M504.0,48.7L502.4,49.3L501.4,49.8M511.6,46.8L511.2,45.8M523.1,38.9L522.1,38.2L521.7,37.3L520.1,36.8M534.3,35.0L534.9,36.0M537.9,41.7L537.5,43.3M526.5,36.7L526.7,38.0L527.2,39.7M534.2,42.7L534.3,43.8L534.3,44.7M533.0,33.7L532.4,34.8M525.8,37.2L525.1,38.2L525.4,39.6L526.7,40.8M519.7,45.9L520.0,44.9L519.8,43.6M490.3,50.8L489.2,50.2M496.1,51.5L495.3,50.9L494.2,49.5M496.2,53.0L497.1,52.2L498.1,51.6M491.5,57.6L490.5,56.3L489.3,55.1L489.3,53.8M489.7,55.8L488.8,55.7L487.0,55.3M535.1,55.1L534.3,55.5L533.4,56.9L533.5,58.0M483.5,83.6L483.7,84.8M503.8,92.4L503.7,93.6M492.0,83.3L492.5,82.5M517.3,96.3L518.5,95.8L519.2,96.4M521.2,107.7L519.8,107.7L518.8,107.8L517.5,107.3M524.8,123.4L523.9,124.1M525.6,115.7L527.4,115.2L528.7,116.2M532.8,114.2L533.2,113.2M525.1,127.4L525.7,126.6L526.6,126.4M524.7,111.4L524.3,109.8M532.3,112.9L533.5,113.4L534.8,113.0M528.3,111.6L528.5,109.8L529.3,109.3L530.1,108.5M537.2,91.5L538.5,90.5M524.1,93.5L522.7,93.9L522.4,92.8L522.1,91.5M530.4,99.5L529.5,100.2L528.3,100.2L526.5,100.1M576.0,65.0L575.5,66.0M578.2,71.8L577.3,72.0L576.6,71.2L575.1,70.3M576.1,67.0L575.7,65.7L576.6,64.5M566.8,72.8L567.1,71.1L567.3,69.5M573.3,84.8L571.9,84.4L570.8,84.2L569.8,83.9M586.4,75.9L587.3,76.7M592.2,81.4L592.1,80.1L591.2,80.0M603.4,62.6L604.8,61.6L605.4,60.3L605.6,58.5M599.9,70.9L600.2,69.3L600.5,67.6M602.5,63.6L601.4,64.0L600.3,62.9L599.4,61.5M605.8,64.6L606.8,64.1L607.9,63.8M602.8,61.9L603.6,63.2L604.0,64.4M610.7,68.9L612.0,68.1M606.7,71.0L608.4,70.5M599.2,64.9L598.4,66.3M592.2,65.2L590.8,65.4L589.7,65.6L588.2,65.2M600.3,60.9L599.2,59.7L597.5,59.5L597.6,61.0M606.8,66.9L606.3,65.5M604.2,74.1L605.6,73.9M601.9,65.3L601.6,66.2M595.9,65.1L596.9,64.0M596.1,53.9L594.9,54.8M606.6,59.4L607.3,60.1M637.0,105.2L635.6,104.7L635.5,103.4M637.1,104.9L636.5,105.7M634.1,105.7L633.7,106.9L633.7,108.5" stroke="#d8596a" stroke-width="1.00"/><path d="M446.1,130.6L442.3,131.2L440.3,134.0L440.1,137.4" stroke="#d8596a" stroke-width="1.15"/><path d="M517.7,114.2L518.4,117.6L520.5,119.6L523.1,118.2L526.6,117.2L528.5,117.8L530.4,119.9L531.1,120.8M585.9,59.9L589.5,59.3L592.1,58.8L592.9,57.1L593.8,54.8L594.5,53.3L597.0,53.7L598.7,56.5L599.6,59.9L602.0,60.1L604.4,59.0L605.8,56.7" stroke="#d8596a" stroke-width="0.90"/><path d="M540.3,95.0L538.9,97.2L537.9,99.5M421.8,53.8L419.4,55.6L417.2,55.3L415.4,56.5L413.3,57.1L412.0,57.6M391.8,46.4L389.5,47.3L387.4,48.0L385.1,47.3M395.6,57.1L394.4,61.0L393.8,63.5L394.9,66.1L398.4,65.9L399.2,68.4L401.0,70.2M531.1,55.4L532.4,58.2L534.1,60.4L536.9,63.3L539.9,64.4M574.6,74.0L576.8,75.7L578.8,76.3L580.3,76.5M569.7,74.0L567.8,74.6L566.6,74.9" stroke="#d8596a" stroke-width="0.80"/><path d="M384.7,64.8L385.7,63.7L387.1,63.6L388.6,63.7M432.4,45.6L431.2,46.4L430.5,47.3M420.9,48.9L420.0,49.8L419.1,50.3M414.6,59.1L415.5,58.2M392.0,71.2L391.1,71.9M392.6,73.0L390.9,72.4M416.9,90.5L418.0,91.0L419.0,91.5L419.3,92.7M442.4,117.6L443.7,117.7L444.9,117.3L446.0,117.4M495.6,49.6L496.8,49.9M522.1,43.5L523.3,43.6M537.3,36.8L538.2,36.0L539.3,34.6M532.5,65.4L531.1,64.4M481.6,84.1L480.2,83.4L479.2,83.7M488.2,82.9L487.8,84.7L486.7,85.4L485.1,85.6M490.6,88.9L489.4,88.9L488.2,89.2L487.0,89.8M491.0,83.9L489.4,83.4M515.3,104.5L515.4,103.0M530.5,117.0L531.9,116.7M527.7,122.5L529.2,123.5M524.0,115.0L523.8,113.8L524.0,112.7M518.2,118.6L519.1,119.2M526.0,87.9L525.4,86.8M532.1,94.1L532.1,92.3L532.3,91.3M530.4,100.8L531.2,102.1M565.2,68.3L564.4,69.5L563.6,71.0L564.0,72.0M570.4,67.7L572.0,67.9L572.6,68.8L573.8,69.1M580.9,70.0L581.9,70.3L583.3,69.5M578.6,68.9L577.2,69.4M577.3,69.4L575.8,69.3L574.2,68.6L573.0,68.4M579.5,65.6L580.0,66.7L580.9,68.2M592.6,80.2L591.0,80.1L590.1,80.5M588.7,79.9L590.0,80.6M586.7,72.5L587.5,73.7L588.1,75.3L589.1,75.9M587.2,70.8L586.9,69.9L587.6,69.3L589.3,69.1M597.7,73.0L596.8,72.1M595.3,66.1L593.9,66.1L593.0,67.2M598.3,67.5L599.5,68.5L601.1,69.3M600.2,72.5L599.2,72.9L598.0,74.1M602.2,70.3L601.1,69.9L600.3,69.3M604.0,63.4L605.6,62.9L607.2,63.7L608.9,63.6M607.1,63.8L608.2,63.4L609.7,64.0L611.3,64.3M596.6,54.0L597.0,55.5M596.9,58.9L596.8,60.2L596.9,61.5L597.9,61.8M605.6,43.0L604.3,43.9L602.8,44.8L601.7,46.1" stroke="#cc4f6f" stroke-width="1.00"/><path d="M432.8,124.4L435.0,126.7L437.2,128.9L438.8,130.4M483.5,85.9L481.5,84.2L479.0,83.9M533.3,108.6L531.3,108.0L529.3,109.1M534.8,89.9L536.3,92.7L537.9,95.0M426.3,51.4L424.6,54.2L425.0,54.8M416.1,60.4L417.5,62.1L418.2,63.3M531.6,55.9L534.1,57.1L535.9,59.9L537.6,61.9L540.4,64.4L541.5,65.5M584.7,62.1L588.2,64.4L591.0,67.8L592.7,71.2L594.2,74.6M569.7,65.0L571.2,67.8L573.0,69.5L574.9,70.8" stroke="#cc4f6f" stroke-width="0.80"/><path d="M484.9,88.7L487.5,85.4L491.4,83.7L492.4,80.8L495.4,81.1L497.4,84.2L499.4,86.5L501.4,89.3L502.1,90.7L501.7,93.3M645.9,150.9L649.5,148.7L652.7,147.0L654.4,145.9" stroke="#cc4f6f" stroke-width="0.90"/><path d="M410.1,59.4L408.5,59.7L407.1,59.4M401.2,67.7L399.9,68.1L399.1,69.5M411.8,87.8L411.7,88.8M445.9,102.3L446.9,102.8L448.0,103.2L448.9,104.2M418.8,102.5L417.0,102.3L415.9,102.8L414.8,102.3M443.7,117.6L442.7,118.4L441.0,118.0L440.2,117.5M443.4,123.0L445.0,123.8M437.5,128.0L436.7,128.4M447.1,130.9L448.2,131.6M445.5,125.9L444.9,127.0L444.7,128.6M433.8,130.0L432.1,129.8L431.0,130.2L429.6,129.9M542.9,41.9L541.3,42.7L540.3,43.3L539.6,44.9M541.3,38.2L541.8,36.6M483.5,87.4L482.6,88.2M497.3,83.1L497.4,84.6M491.4,86.3L491.6,84.9L492.2,83.9L491.2,82.6M522.3,105.4L521.7,104.6L521.1,103.7L520.3,102.6M521.4,103.4L521.1,104.8L520.3,106.2M519.2,107.0L518.6,107.9L518.3,109.2L517.4,110.4M508.3,106.1L508.3,105.1L509.5,104.4L510.6,103.9M511.5,107.1L510.7,106.1L510.2,104.8L510.6,103.1M521.3,110.2L521.6,111.8L523.0,112.7M523.7,109.0L524.6,107.6L525.5,107.8M518.1,111.3L516.6,112.3L515.0,111.7M528.9,125.4L528.2,126.7M575.0,68.7L575.6,69.5L576.8,70.5M590.1,78.5L590.5,77.7M589.1,77.6L589.8,76.6L591.3,75.9L592.6,75.2M589.3,77.2L588.4,77.6M598.0,60.0L598.3,58.8M593.5,66.1L592.5,66.0L591.5,65.5M604.5,72.5L604.0,71.7L604.0,70.7M603.3,61.8L603.5,60.4L603.4,59.1L602.5,58.0M591.4,63.4L592.1,64.9L591.2,66.4M598.8,64.6L599.9,64.0M596.1,62.1L595.3,61.6M603.6,72.7L602.5,71.8M592.9,53.2L594.2,53.9L594.1,55.0L594.8,56.0M618.5,90.8L619.9,91.3" stroke="#bf4973" stroke-width="1.00"/><path d="M449.2,122.1L445.4,122.7L443.6,125.0L442.4,128.4L440.3,130.4L438.5,130.6L437.6,135.2L439.0,137.4L440.0,138.0" stroke="#bf4973" stroke-width="1.15"/><path d="M419.0,96.1L419.6,92.7L420.7,89.3M430.5,121.0L432.7,118.7L433.5,115.3L431.8,113.1M416.4,101.8L418.5,102.9L420.0,104.8M451.4,104.0L452.5,106.3L453.1,109.1M482.5,87.0L480.1,81.4L479.2,80.8M490.4,90.4L492.4,92.1L493.4,93.3M494.4,85.9L494.4,89.3L495.4,92.1M415.6,58.8L413.9,59.9L412.8,58.8L413.0,57.6M426.4,49.8L430.2,48.1L432.2,46.6L434.8,45.1M383.3,53.7L382.6,55.9M535.6,52.6L537.5,52.6L539.6,54.2L540.7,54.8M594.2,62.1L595.7,61.0L598.3,60.4L599.5,60.3M602.6,64.4L602.7,62.1L602.9,59.9M607.3,71.2L607.4,67.8L607.4,66.1M575.2,66.1L580.1,66.3L583.9,66.4L587.1,67.8L584.7,69.8L582.8,70.1L582.8,71.8" stroke="#bf4973" stroke-width="0.80"/><path d="M524.3,108.6L522.8,107.4L521.3,106.3M508.3,110.8L509.9,108.6L511.4,106.9L511.7,105.2M508.8,89.0L505.4,90.4L502.1,90.7M531.1,83.1L529.5,80.8L528.7,79.5M411.6,45.9L411.6,48.6L412.7,50.3L412.0,53.1L411.7,55.8L412.0,57.6L410.9,59.9L409.0,62.1L408.1,64.4L408.5,65.5L409.3,66.4M571.1,65.0L572.8,68.4L575.0,70.1L577.0,70.6L579.0,70.9L581.1,71.8L582.3,73.5L583.8,73.7M657.5,143.6L659.2,142.5L659.1,141.9" stroke="#bf4973" stroke-width="0.90"/><path d="M429.0,90.3L429.6,88.9M441.1,129.4L439.9,128.4L438.8,127.0L437.6,126.2M542.5,32.8L542.4,33.8L542.3,35.4M496.7,90.8L497.7,92.0M482.5,85.1L481.5,84.4L479.9,83.9M489.8,83.2L488.6,82.0M487.3,85.7L488.6,86.7M498.3,87.5L497.8,88.4M511.3,106.2L512.2,107.0L513.3,107.3L514.6,106.1M509.2,107.6L508.6,106.3L508.3,104.6M513.7,103.1L513.8,104.4L514.2,105.3L514.8,106.7M508.7,109.3L509.7,109.8L510.7,109.8M522.6,105.9L523.5,106.5M528.1,104.6L529.5,105.7L529.8,107.2M532.1,93.1L532.6,91.6M535.1,87.7L535.6,88.7M528.9,98.0L530.0,96.7L530.6,95.7L532.0,95.0M533.7,97.9L533.5,96.8M574.5,70.8L575.2,72.5M565.6,66.0L566.5,65.0L566.5,63.7M568.1,74.4L569.8,74.0L571.2,74.2L572.3,75.0M598.0,68.0L596.8,68.3M604.7,70.2L603.6,69.5L602.8,68.6L601.2,67.9M602.2,63.4L602.0,62.2L602.1,60.8M604.9,64.1L604.7,65.1L603.9,66.0M604.9,57.0L605.0,58.2M517.8,112.0L516.3,108.6L515.4,105.7" stroke="#ae4377" stroke-width="1.00"/><path d="M419.4,97.2L420.5,93.8L421.1,90.4L421.0,87.0" stroke="#ae4377" stroke-width="1.15"/><path d="M514.3,108.6L513.9,105.7L512.9,103.5M528.4,99.5L527.9,96.7L526.9,93.8L526.8,88.7L527.5,82.0L528.4,79.7L526.4,77.4L525.3,75.2L527.4,72.3L527.1,70.1L525.3,67.8L525.3,65.5L525.0,63.8M590.0,70.1L589.2,73.5L589.2,76.9L589.5,80.3L589.3,81.4M581.5,61.0L586.6,62.1L590.4,65.5L592.1,68.4L594.3,69.5L595.6,66.9L597.8,66.1L599.8,64.6L602.3,65.0L604.6,64.9L607.5,65.0L608.9,63.3L611.0,63.8M565.3,60.4L564.1,61.6L563.8,64.4L563.4,67.2L561.8,69.5L561.6,71.8" stroke="#ae4377" stroke-width="0.90"/><path d="M510.3,85.4L511.3,88.2L513.3,89.3L514.3,90.4M535.4,100.1L533.4,100.6L532.4,101.8M597.4,72.9L599.9,73.1L602.8,73.0L606.0,73.5M598.8,70.1L599.7,67.8L601.3,66.7L603.7,66.7" stroke="#ae4377" stroke-width="0.80"/><path d="M437.4,102.8L437.1,103.9L436.8,105.0L437.4,106.7M428.0,91.0L428.6,92.0M449.8,125.4L448.8,124.8L447.9,125.1L446.7,125.3M440.5,128.7L442.1,129.5L443.0,129.1M438.6,120.1L440.0,120.1L441.0,120.9L442.4,122.0M504.0,91.5L503.2,90.1L502.9,88.7M499.7,88.0L499.4,87.0L498.6,85.9M504.7,91.8L506.0,91.9L507.2,92.5L508.5,91.8M503.2,93.7L503.7,92.5L503.6,91.4L504.0,90.5M494.6,87.9L493.7,88.5L492.2,88.7M503.9,86.2L504.8,86.3L505.8,86.4M511.3,110.9L512.2,111.7M508.4,104.3L508.6,105.2L508.4,107.0M511.3,104.6L511.4,102.8L511.2,101.8M509.2,104.4L508.1,105.1M525.4,105.6L524.3,106.7M521.9,110.8L523.1,111.3M523.2,110.9L522.9,111.9L521.6,112.7M512.8,106.4L513.8,107.9L514.2,109.6M518.3,121.4L516.9,121.1L515.2,121.5M523.7,112.5L524.1,114.0L524.8,114.8M525.4,119.8L526.2,120.3M525.1,102.7L525.8,101.8L526.0,100.9L525.3,99.6M532.7,97.6L534.0,97.0L535.0,96.2L536.5,95.7M568.3,73.3L567.4,73.7M598.8,84.2L597.4,84.4M599.9,87.1L600.8,87.6M611.1,67.0L610.6,67.8L609.7,68.3L608.4,68.7M605.5,71.9L605.7,70.7L605.6,69.4L605.8,68.4M591.6,64.8L593.0,65.4L593.7,66.2" stroke="#9c3d7b" stroke-width="1.00"/><path d="M412.1,83.8L411.7,82.1M442.4,112.3L441.5,111.5L442.1,110.7M436.7,104.6L436.1,105.8L435.3,106.8L434.3,107.8M444.8,118.2L445.0,119.4L444.4,120.5L443.7,121.2M448.8,119.2L450.0,120.1L450.5,121.3L451.7,122.5M432.7,130.9L433.8,131.4L434.7,132.1M437.2,129.2L436.3,129.0M501.6,86.2L502.9,86.6L504.0,86.6L504.8,85.9M522.8,111.7L522.7,112.9L523.1,114.6L523.7,116.1M512.3,103.5L513.7,102.8L514.7,102.0M526.8,121.9L526.4,122.8M534.5,97.8L533.5,96.4L532.7,95.5M598.6,80.5L598.1,79.0L598.8,77.8L599.3,77.0M591.6,80.1L592.4,79.4L593.8,79.1M599.1,62.0L600.7,61.8L601.8,62.1L602.1,63.0" stroke="#89367a" stroke-width="1.00"/><path d="M450.2,122.1L451.4,117.6L452.7,113.1L455.1,110.1L457.6,110.8L459.1,111.4M438.6,117.6L438.9,122.1L439.5,127.8L438.8,130.4M422.5,95.0L428.0,92.5" stroke="#89367a" stroke-width="1.15"/><path d="M520.3,106.3L517.4,105.2L515.9,104.5" stroke="#89367a" stroke-width="0.90"/><path d="M398.0,78.0L396.3,76.3L393.9,75.7L392.6,74.9M591.3,74.6L591.8,78.0L591.8,80.8M566.9,63.3L565.4,65.0L564.1,66.1" stroke="#89367a" stroke-width="0.80"/><path d="M445.8,110.5L447.3,110.8L448.8,111.1M441.6,96.3L440.9,95.8L439.9,95.6M440.6,106.8L440.3,105.3M443.2,113.1L443.0,111.8L441.8,110.6M436.4,90.9L435.1,90.0L433.7,89.3L432.5,89.4M491.8,84.5L492.6,85.0L493.5,84.8M498.2,88.2L499.7,87.6L501.4,87.5M504.7,90.9L504.5,92.2L504.4,93.8M516.9,95.7L515.8,94.8M518.5,97.8L519.7,98.0L521.1,97.7L522.4,97.8M518.6,100.2L517.1,100.0L516.0,98.8M512.1,95.2L511.9,96.7L511.3,98.0M515.6,96.2L515.3,95.2L514.7,94.5L514.5,93.0M516.4,111.3L517.2,110.4M517.6,113.0L516.9,111.6L516.3,110.5M528.0,119.1L527.8,120.2L528.6,121.5M536.9,89.1L536.8,87.3M598.6,78.6L598.6,80.1M601.9,87.5L602.0,86.0M521.8,109.7L521.3,106.3L521.2,102.9" stroke="#752f78" stroke-width="1.00"/><path d="M594.3,97.2L596.4,99.5L598.9,100.6" stroke="#752f78" stroke-width="0.80"/><path d="M425.9,100.2L424.2,100.5L423.6,101.1L422.2,101.0M447.2,111.9L447.0,113.1M421.8,88.7L422.1,87.5L422.5,86.6M445.3,105.4L445.9,104.3L447.1,104.2L448.2,104.5M481.3,85.7L482.3,85.8M517.2,101.1L518.3,100.0L519.4,99.2M519.7,101.7L519.2,100.6L519.8,99.0L519.9,97.9M519.3,93.5L520.5,93.2L522.2,93.9M509.0,105.5L508.2,105.0M512.0,110.9L511.7,109.6L511.3,108.2M516.7,103.0L515.3,103.0M522.3,111.1L523.2,111.3L523.6,112.7L524.0,114.3M522.5,110.4L523.6,110.0L525.2,109.5M535.0,90.2L533.8,90.7L532.4,90.4M599.5,85.2L599.3,84.0L599.0,83.1M596.8,81.5L595.8,81.4L594.2,81.3M600.0,83.7L598.9,84.0L597.3,84.7L596.2,84.8" stroke="#6b3079" stroke-width="1.00"/><path d="M435.9,114.8L430.8,112.9M447.4,116.5L447.3,110.8L448.0,107.4L446.0,105.2L446.4,101.5M431.5,96.1L428.0,93.8L428.1,91.6L430.6,90.7L433.6,90.0L434.8,89.8" stroke="#6b3079" stroke-width="1.15"/><path d="M532.5,86.5L530.2,85.9L528.1,83.1L527.5,82.0M635.8,102.7L636.7,104.0L639.2,104.0" stroke="#6b3079" stroke-width="0.90"/><path d="M404.0,80.8L404.7,79.1M408.3,82.5L409.7,83.7L411.1,84.8" stroke="#6b3079" stroke-width="0.80"/><path d="M422.8,105.1L424.0,104.6L424.3,103.6L425.5,102.4M440.2,113.2L440.8,114.6L441.5,115.6M419.1,101.5L420.1,102.0L420.7,102.8M448.2,102.1L448.6,101.3M431.8,108.6L430.8,108.2L429.6,108.9L428.2,108.7M438.8,96.8L438.5,97.9L438.0,98.9L437.2,100.1M509.4,101.3L510.4,101.5L511.7,102.4M518.5,102.4L518.2,100.9M520.1,93.4L518.8,92.6L517.6,92.4M511.1,102.8L510.6,101.8L510.6,100.1L509.8,99.5M520.1,95.8L518.3,95.5L517.3,94.5M520.9,98.9L521.9,98.6L523.0,98.2L524.5,98.1M510.8,101.9L512.2,102.4L514.0,102.6L514.8,101.7M518.7,111.7L518.4,113.3M519.5,111.2L518.7,111.7L517.4,111.7M601.9,86.8L600.5,87.2M599.7,81.0L599.7,82.0L599.0,83.6M598.5,94.8L597.3,93.9M515.4,105.7L513.4,103.5L511.7,103.2" stroke="#613079" stroke-width="1.00"/><path d="M431.1,116.5L430.5,111.7M429.0,115.3L430.3,111.7M442.8,113.6L443.1,108.6L443.2,103.5L443.4,101.5M443.5,117.6L445.2,113.1L446.1,108.6L447.2,105.5" stroke="#613079" stroke-width="1.15"/><path d="M511.4,95.5L511.9,98.4L512.3,101.2M523.9,96.7L521.9,97.8L520.6,98.9M594.2,74.6L595.7,77.4L598.4,79.1L599.7,81.4L600.3,84.2L600.3,87.0L601.4,88.7M637.2,104.6L638.6,106.3L639.0,108.0" stroke="#613079" stroke-width="0.90"/><path d="M434.8,98.0L433.9,99.1M432.4,90.6L431.0,90.6L429.5,90.2L429.5,89.2M433.7,96.9L434.6,98.0M424.9,105.5L425.4,104.5L425.9,103.6L427.1,102.2M437.1,109.2L437.7,110.9M510.1,102.1L510.2,103.2L511.0,104.2L511.8,105.2M517.6,100.7L518.7,99.7L519.4,98.7M517.2,93.0L516.0,93.6L515.1,93.8M520.1,100.6L521.2,100.2L522.4,100.1L523.7,100.1M516.8,93.4L518.2,93.7L519.2,93.7L520.5,94.5M594.5,79.7L593.1,79.6L591.9,79.5L590.2,79.9M598.1,82.8L596.6,83.6L595.6,84.7M598.7,83.3L597.8,83.7L597.0,84.2M600.0,79.4L600.7,80.2L601.4,81.3M594.0,78.9L593.8,80.0M596.0,81.4L595.1,80.2L594.4,79.3L593.1,79.3M599.7,103.6L598.9,104.1" stroke="#523472" stroke-width="1.00"/><path d="M434.4,96.1L433.6,101.1M437.3,113.1L438.6,109.7L439.5,106.3L440.4,102.3" stroke="#523472" stroke-width="1.15"/><path d="M405.8,79.9L404.6,80.1L403.5,80.1L402.5,80.4M435.6,100.2L434.4,101.0M423.3,101.1L423.7,102.2L424.6,102.9L425.4,103.3M446.4,103.7L446.1,105.4M521.0,97.0L522.1,96.8M511.3,96.5L510.7,98.0L510.0,98.6L508.7,99.7M516.1,96.5L515.8,95.1M508.3,102.7L507.6,101.2L506.8,100.3L507.1,99.1M512.8,98.0L512.1,99.0L511.6,100.7L510.7,101.6M519.0,101.8L520.6,101.6L521.6,102.1L521.4,103.2M518.2,96.0L517.1,95.7L515.6,95.4M520.0,95.8L518.6,96.3M600.1,86.3L598.4,86.1M597.6,85.0L598.7,86.4M637.8,105.9L636.9,106.8" stroke="#45396b" stroke-width="1.00"/><path d="M417.7,95.7L418.6,95.4L419.3,94.6M425.1,88.7L424.0,89.0M433.9,113.6L433.0,112.7M435.3,97.6L436.5,97.1L437.3,96.4L438.7,95.5M510.9,99.7L511.4,100.5L512.7,101.4M510.2,102.6L510.9,101.2M512.5,97.7L513.9,97.4L515.7,97.2M510.7,97.1L511.4,97.9L511.2,99.3L512.3,100.0M531.6,91.5L531.1,92.8L530.2,92.8M521.2,102.9L520.6,98.9M522.4,94.2L519.4,94.4L515.9,94.4L513.9,95.0L513.4,97.8L513.0,99.8" stroke="#3b335f" stroke-width="1.00"/><path d="M418.4,99.2L422.4,101.8L425.7,103.2" stroke="#3b335f" stroke-width="1.15"/><path d="M520.6,105.2L520.2,101.8L519.9,98.9M519.4,101.8L516.4,101.2L513.7,99.3" stroke="#3b335f" stroke-width="0.90"/><path d="M444.9,105.6L444.7,104.2L445.2,103.3L445.2,101.7M442.2,103.7L442.8,103.0M517.8,98.9L519.6,98.9M516.0,100.7L517.0,101.0L517.0,102.2M512.0,97.2L511.1,96.7L510.2,96.2M517.1,93.1L515.6,94.0M511.8,93.5L513.3,93.5L514.3,94.0M515.8,98.2L517.1,97.1L518.8,97.0" stroke="#2f274e" stroke-width="1.00"/><path d="M421.8,111.4L421.1,107.4L421.8,104.6M427.9,97.8L429.4,99.5L432.4,100.5L434.4,102.0L435.4,103.0" stroke="#2f274e" stroke-width="1.35"/><path d="M421.8,92.2L421.8,93.6M428.4,89.9L430.0,89.4L431.5,89.5L432.8,89.1M443.0,115.9L444.7,115.7M436.5,110.2L434.9,109.8M516.1,101.2L515.0,101.1L514.1,101.0L513.1,101.1" stroke="#201737" stroke-width="1.00"/><path d="M417.5,105.2L419.5,104.8L422.0,104.5M419.4,98.4L423.4,100.4L426.4,101.2L430.4,102.3M423.2,110.3L425.6,107.4L428.0,105.7L429.9,102.7M424.8,111.4L427.7,109.7L430.6,107.4L433.5,104.0L434.1,103.6M430.5,111.7L431.7,109.5L434.5,106.3L436.5,103.5" stroke="#201737" stroke-width="1.35"/><path d="M432.8,115.8L432.4,114.9L431.5,113.7L430.1,113.4M522.0,100.6L522.9,101.3L524.2,102.3" stroke="#0c0722" stroke-width="1.00"/><path d="M520.6,98.9L518.9,98.1L516.4,97.2L514.9,97.3L513.7,98.1L513.0,99.8L511.9,101.5L511.4,103.5L510.7,104.4L508.9,106.1L507.7,106.3" stroke="#0c0722" stroke-width="1.30"/><path d="M442.2,95.7L441.3,96.4M524.0,96.3L525.2,96.0M601.4,87.3L599.9,86.4L599.1,85.6L598.7,84.5" stroke="#070610" stroke-width="1.00"/><path d="M422.0,104.5L424.5,104.0L425.6,104.3L428.5,103.6L430.8,103.3L433.5,103.5L435.4,103.0L437.4,103.1L439.9,101.7L442.4,101.5L444.4,100.6L445.4,99.8" stroke="#070610" stroke-width="1.30"/></g><g font-size="6.6" fill="#5c5c5c" stroke="#5c5c5c"><text x="348.4" y="34.7" text-anchor="end">60°N</text><text x="642.4" y="34.7">60°N</text><text x="319.3" y="67.8" text-anchor="end">30°N</text><text x="671.5" y="67.8">30°N</text><text x="312.1" y="101.8" text-anchor="end">0°</text><text x="678.7" y="101.8">0°</text><text x="319.3" y="135.8" text-anchor="end">30°S</text><text x="671.5" y="135.8">30°S</text><text x="351.7" y="173.5" text-anchor="middle">180°</text><text x="399.6" y="173.5" text-anchor="middle">120°W</text><text x="447.5" y="173.5" text-anchor="middle">60°W</text><text x="495.4" y="173.5" text-anchor="middle">0°</text><text x="543.3" y="173.5" text-anchor="middle">60°E</text><text x="591.2" y="173.5" text-anchor="middle">120°E</text><text x="639.1" y="173.5" text-anchor="middle">180°</text></g><rect x="353.8" y="108.0" width="63.9" height="47.3" fill="#fff"/><rect x="359.90" y="152.00" width="2.44" height="3.30" fill="#a8cade" stroke="#5f8fb8" stroke-width="0.45"/><rect x="362.34" y="148.30" width="2.44" height="7.00" fill="#a8cade" stroke="#5f8fb8" stroke-width="0.45"/><rect x="364.78" y="150.10" width="2.44" height="5.20" fill="#a8cade" stroke="#5f8fb8" stroke-width="0.45"/><rect x="367.22" y="148.50" width="2.44" height="6.80" fill="#a8cade" stroke="#5f8fb8" stroke-width="0.45"/><rect x="369.66" y="147.40" width="2.44" height="7.90" fill="#a8cade" stroke="#5f8fb8" stroke-width="0.45"/><rect x="372.10" y="147.00" width="2.44" height="8.30" fill="#a8cade" stroke="#5f8fb8" stroke-width="0.45"/><rect x="374.54" y="141.30" width="2.44" height="14.00" fill="#a8cade" stroke="#5f8fb8" stroke-width="0.45"/><rect x="376.98" y="146.50" width="2.44" height="8.80" fill="#a8cade" stroke="#5f8fb8" stroke-width="0.45"/><rect x="379.42" y="145.20" width="2.44" height="10.10" fill="#a8cade" stroke="#5f8fb8" stroke-width="0.45"/><rect x="381.86" y="139.80" width="2.44" height="15.50" fill="#a8cade" stroke="#5f8fb8" stroke-width="0.45"/><rect x="384.30" y="139.10" width="2.44" height="16.20" fill="#a8cade" stroke="#5f8fb8" stroke-width="0.45"/><rect x="386.74" y="136.70" width="2.44" height="18.60" fill="#a8cade" stroke="#5f8fb8" stroke-width="0.45"/><rect x="389.18" y="130.00" width="2.44" height="25.30" fill="#a8cade" stroke="#5f8fb8" stroke-width="0.45"/><rect x="391.62" y="121.00" width="2.44" height="34.30" fill="#a8cade" stroke="#5f8fb8" stroke-width="0.45"/><rect x="394.06" y="122.50" width="2.44" height="32.80" fill="#a8cade" stroke="#5f8fb8" stroke-width="0.45"/><rect x="396.50" y="114.80" width="2.44" height="40.50" fill="#a8cade" stroke="#5f8fb8" stroke-width="0.45"/><rect x="398.94" y="110.10" width="2.44" height="45.20" fill="#a8cade" stroke="#5f8fb8" stroke-width="0.45"/><rect x="401.38" y="113.50" width="2.44" height="41.80" fill="#a8cade" stroke="#5f8fb8" stroke-width="0.45"/><rect x="403.82" y="120.90" width="2.44" height="34.40" fill="#a8cade" stroke="#5f8fb8" stroke-width="0.45"/><rect x="406.26" y="137.30" width="2.44" height="18.00" fill="#a8cade" stroke="#5f8fb8" stroke-width="0.45"/><rect x="408.70" y="153.80" width="2.44" height="1.50" fill="#a8cade" stroke="#5f8fb8" stroke-width="0.45"/><path d="M356.9,155.3L360.5,151.3L363.0,148.9L365.4,150.7L367.9,149.5L371.5,148.3L375.2,146.5L378.2,145.2L381.3,144.6L384.3,141.6L387.4,138.5L389.8,134.3L392.2,129.4L395.2,122.1L398.3,117.2L401.3,112.3L403.8,114.1L406.2,119.6L408.7,129.4L410.5,144.0L412.0,154.4L412.6,155.3" fill="none" stroke="#3b5f90" stroke-width="1.0" stroke-dasharray="2.2,1.3"/><path d="M353.8,108.0V155.3H417.7" fill="none" stroke="#8a8a8a" stroke-width="0.9"/><path d="M351.6,155.3H353.8" stroke="#8a8a8a" stroke-width="0.9"/><text x="349.8" y="158.4" font-size="8.6" fill="#1e1e1e" stroke="#1e1e1e" text-anchor="end">0.00</text><path d="M351.6,119.3H353.8" stroke="#8a8a8a" stroke-width="0.9"/><text x="349.8" y="122.4" font-size="8.6" fill="#1e1e1e" stroke="#1e1e1e" text-anchor="end">0.02</text><path d="M356.2,155.3V157.5" stroke="#8a8a8a" stroke-width="0.9"/><text x="356.2" y="164.7" font-size="8.6" fill="#1e1e1e" stroke="#1e1e1e" text-anchor="middle">2000</text><path d="M411.8,155.3V157.5" stroke="#8a8a8a" stroke-width="0.9"/><text x="411.8" y="164.7" font-size="8.6" fill="#1e1e1e" stroke="#1e1e1e" text-anchor="middle">2100</text><text transform="translate(329.4,132.4) rotate(-90)" font-size="10.4" fill="#1e1e1e" stroke="#1e1e1e" text-anchor="middle">Density</text><defs><linearGradient id="gm" x1="0" x2="1" y1="0" y2="0"><stop offset="0.000" stop-color="#050507"/><stop offset="0.063" stop-color="#0c0722"/><stop offset="0.100" stop-color="#1e1535"/><stop offset="0.158" stop-color="#342c55"/><stop offset="0.220" stop-color="#423a6a"/><stop offset="0.260" stop-color="#4e3570"/><stop offset="0.316" stop-color="#62307a"/><stop offset="0.395" stop-color="#752f78"/><stop offset="0.474" stop-color="#9a3c7c"/><stop offset="0.553" stop-color="#bc4774"/><stop offset="0.632" stop-color="#d5546c"/><stop offset="0.711" stop-color="#e87060"/><stop offset="0.790" stop-color="#ec8a6e"/><stop offset="0.853" stop-color="#eea27c"/><stop offset="0.910" stop-color="#f0c08e"/><stop offset="0.970" stop-color="#ece0a4"/><stop offset="1.000" stop-color="#e8eab0"/></linearGradient></defs><rect x="368.9" y="182.3" width="252.8" height="7.1" fill="url(#gm)" stroke="#777" stroke-width="0.5"/><path d="M380.4,189.4V191.6" stroke="#444" stroke-width="0.8"/><text x="380.4" y="199.3" font-size="8.4" fill="#1e1e1e" stroke="#1e1e1e" text-anchor="middle">2010</text><path d="M407.5,189.4V191.6" stroke="#444" stroke-width="0.8"/><text x="407.5" y="199.3" font-size="8.4" fill="#1e1e1e" stroke="#1e1e1e" text-anchor="middle">2020</text><path d="M434.7,189.4V191.6" stroke="#444" stroke-width="0.8"/><text x="434.7" y="199.3" font-size="8.4" fill="#1e1e1e" stroke="#1e1e1e" text-anchor="middle">2030</text><path d="M461.8,189.4V191.6" stroke="#444" stroke-width="0.8"/><text x="461.8" y="199.3" font-size="8.4" fill="#1e1e1e" stroke="#1e1e1e" text-anchor="middle">2040</text><path d="M489.0,189.4V191.6" stroke="#444" stroke-width="0.8"/><text x="489.0" y="199.3" font-size="8.4" fill="#1e1e1e" stroke="#1e1e1e" text-anchor="middle">2050</text><path d="M516.1,189.4V191.6" stroke="#444" stroke-width="0.8"/><text x="516.1" y="199.3" font-size="8.4" fill="#1e1e1e" stroke="#1e1e1e" text-anchor="middle">2060</text><path d="M543.2,189.4V191.6" stroke="#444" stroke-width="0.8"/><text x="543.2" y="199.3" font-size="8.4" fill="#1e1e1e" stroke="#1e1e1e" text-anchor="middle">2070</text><path d="M570.4,189.4V191.6" stroke="#444" stroke-width="0.8"/><text x="570.4" y="199.3" font-size="8.4" fill="#1e1e1e" stroke="#1e1e1e" text-anchor="middle">2080</text><path d="M597.5,189.4V191.6" stroke="#444" stroke-width="0.8"/><text x="597.5" y="199.3" font-size="8.4" fill="#1e1e1e" stroke="#1e1e1e" text-anchor="middle">2090</text><text x="495.4" y="210.2" font-size="10.6" fill="#1e1e1e" stroke="#1e1e1e" text-anchor="middle">Start year</text><path d="M399.6,225.9L396.3,226.8L392.4,228.1L388.2,229.6L383.6,231.5L378.8,233.5L374.2,235.6L370.0,237.9L366.1,240.2L362.3,242.6L358.7,245.1L355.1,247.6L351.7,250.1L348.3,252.8L345.1,255.4L342.1,258.1L339.2,260.8L336.6,263.6L334.1,266.3L331.7,269.1L329.5,271.9L327.5,274.8L325.7,277.6L324.1,280.4L322.6,283.2L321.4,286.1L320.3,288.9L319.4,291.7L318.6,294.6L317.9,297.4L317.2,300.2L316.7,303.1L316.3,305.9L315.9,308.7L315.7,311.5L315.5,314.4L315.4,317.2L315.5,320.0L315.7,322.9L315.9,325.7L316.3,328.5L316.7,331.3L317.2,334.2L317.9,337.0L318.6,339.8L319.4,342.7L320.3,345.5L321.4,348.3L322.6,351.2L324.1,354.0L325.7,356.8L327.5,359.6L329.5,362.5L331.7,365.3L334.1,368.1L336.6,370.8L339.2,373.6L342.1,376.3L345.1,379.0L348.3,381.6L351.7,384.3L639.1,384.3L642.5,381.6L645.7,379.0L648.7,376.3L651.6,373.6L654.2,370.8L656.7,368.1L659.1,365.3L661.3,362.5L663.3,359.6L665.1,356.8L666.7,354.0L668.2,351.2L669.4,348.3L670.5,345.5L671.4,342.7L672.2,339.8L672.9,337.0L673.6,334.2L674.1,331.3L674.5,328.5L674.9,325.7L675.1,322.9L675.3,320.0L675.4,317.2L675.3,314.4L675.1,311.5L674.9,308.7L674.5,305.9L674.1,303.1L673.6,300.2L672.9,297.4L672.2,294.6L671.4,291.7L670.5,288.9L669.4,286.1L668.2,283.2L666.7,280.4L665.1,277.6L663.3,274.8L661.3,271.9L659.1,269.1L656.7,266.3L654.2,263.6L651.6,260.8L648.7,258.1L645.7,255.4L642.5,252.8L639.1,250.1L635.7,247.6L632.1,245.1L628.5,242.6L624.7,240.2L620.8,237.9L616.6,235.6L612.0,233.5L607.2,231.5L602.6,229.6L598.4,228.1L594.5,226.8L591.2,225.9Z" fill="#fff" stroke="#d3d3d3" stroke-width="0.7"/><g stroke="#e0e0e0" stroke-width="0.6" stroke-dasharray="2,1.2" fill="none"><line x1="351.7" y1="250.1" x2="639.1" y2="250.1"/><line x1="322.6" y1="283.2" x2="668.2" y2="283.2"/><line x1="315.4" y1="317.2" x2="675.4" y2="317.2"/><line x1="322.6" y1="351.2" x2="668.2" y2="351.2"/><line x1="495.4" y1="225.9" x2="495.4" y2="384.3"/></g><g stroke="#e3e3e3" stroke-width="0.5" fill="none"><path d="M399.6,384.3L395.2,379.0L391.3,373.6L387.9,368.1L384.8,362.5L382.3,356.8L380.2,351.2L378.7,345.5L377.6,339.8L376.6,334.2L376.0,328.5L375.6,322.9L375.4,317.2L375.6,311.5L376.0,305.9L376.6,300.2L377.6,294.6L378.7,288.9L380.2,283.2L382.3,277.6L384.8,271.9L387.9,266.3L391.3,260.8L395.2,255.4L399.6,250.1L404.2,245.1L409.2,240.2L414.6,235.6L420.9,231.5L426.7,228.1L431.5,225.9"/><path d="M447.5,384.3L445.3,379.0L443.3,373.6L441.6,368.1L440.1,362.5L438.8,356.8L437.8,351.2L437.0,345.5L436.5,339.8L436.0,334.2L435.7,328.5L435.5,322.9L435.4,317.2L435.5,311.5L435.7,305.9L436.0,300.2L436.5,294.6L437.0,288.9L437.8,283.2L438.8,277.6L440.1,271.9L441.6,266.3L443.3,260.8L445.3,255.4L447.5,250.1L449.8,245.1L452.3,240.2L455.0,235.6L458.1,231.5L461.1,228.1L463.5,225.9"/><path d="M543.3,384.3L545.5,379.0L547.5,373.6L549.2,368.1L550.7,362.5L552.0,356.8L553.0,351.2L553.8,345.5L554.3,339.8L554.8,334.2L555.1,328.5L555.3,322.9L555.4,317.2L555.3,311.5L555.1,305.9L554.8,300.2L554.3,294.6L553.8,288.9L553.0,283.2L552.0,277.6L550.7,271.9L549.2,266.3L547.5,260.8L545.5,255.4L543.3,250.1L541.0,245.1L538.5,240.2L535.8,235.6L532.7,231.5L529.7,228.1L527.3,225.9"/><path d="M591.2,384.3L595.6,379.0L599.5,373.6L602.9,368.1L606.0,362.5L608.5,356.8L610.6,351.2L612.1,345.5L613.2,339.8L614.2,334.2L614.8,328.5L615.2,322.9L615.4,317.2L615.2,311.5L614.8,305.9L614.2,300.2L613.2,294.6L612.1,288.9L610.6,283.2L608.5,277.6L606.0,271.9L602.9,266.3L599.5,260.8L595.6,255.4L591.2,250.1L586.6,245.1L581.6,240.2L576.2,235.6L569.9,231.5L564.1,228.1L559.3,225.9"/></g><path d="M368.6,244.5L374.6,241.3L379.4,239.9L384.7,239.0L387.2,239.5L389.4,239.9L393.6,240.6L396.5,241.2L399.3,240.7L402.7,240.2L405.8,240.7L408.2,241.2L410.8,242.1L414.5,242.1L418.6,241.6L421.7,242.3L423.3,242.1L424.7,241.8L426.1,240.2L428.3,238.5L429.1,238.3L429.8,238.8L428.9,240.2L429.1,240.9L430.6,241.3L431.6,241.0L432.7,240.0L433.6,240.2L433.8,241.0L434.6,240.3L436.3,240.5L436.4,241.0L435.8,241.6L434.4,242.6L434.7,243.3L432.8,243.9L431.5,243.6L430.0,244.6L429.0,245.6L426.0,246.6L421.1,249.1L419.2,251.2L419.4,252.8L422.0,253.8L424.6,255.1L426.7,255.4L425.8,257.6L427.2,259.2L428.5,257.6L429.4,255.4L432.5,252.8L432.5,251.2L433.8,249.6L434.5,247.8L437.7,247.6L439.5,248.6L439.4,251.2L440.6,251.9L443.3,250.7L444.0,249.8L444.7,252.8L445.1,254.9L447.0,256.5L447.6,258.3L446.5,259.2L443.4,260.6L439.9,260.6L437.7,260.8L436.0,261.9L433.7,263.4L435.9,262.1L437.8,261.7L439.1,262.1L438.2,263.2L438.0,264.7L439.2,265.6L442.0,265.0L440.4,266.1L437.9,266.9L435.7,268.0L436.3,266.1L435.3,266.6L433.2,267.5L432.0,267.9L431.1,269.1L431.5,270.0L430.0,270.4L427.4,271.3L427.0,272.5L425.9,273.3L424.4,275.1L424.3,277.0L422.7,278.1L420.5,279.3L418.2,281.0L417.4,282.7L417.8,286.6L417.6,288.3L416.6,288.7L415.9,287.2L415.5,285.5L415.2,283.5L413.7,283.6L412.0,282.8L410.1,282.9L409.3,284.1L407.9,284.0L405.1,283.6L401.7,285.7L400.7,288.3L399.8,292.3L400.0,294.0L401.0,295.7L402.3,296.6L404.8,296.1L406.4,295.1L406.8,293.4L410.2,292.9L409.3,295.7L408.3,297.4L407.8,299.3L410.4,299.2L412.3,299.7L412.9,300.2L412.2,304.7L412.8,305.9L414.7,307.2L416.2,306.4L418.2,307.6L418.3,308.1L417.6,308.7L415.6,308.9L414.2,308.4L412.2,307.6L410.1,305.9L410.1,304.5L408.6,302.5L405.2,301.5L403.4,299.7L402.0,298.9L400.0,299.4L397.6,298.4L395.4,297.1L393.5,296.5L391.8,294.2L392.3,292.8L391.4,290.9L389.9,288.6L388.6,286.1L387.5,283.8L387.4,281.8L385.9,281.5L385.5,283.2L386.8,285.5L387.5,288.3L388.5,290.9L387.8,290.6L386.4,289.1L385.2,286.1L384.8,283.8L384.0,281.0L383.9,280.2L383.4,278.7L381.5,278.0L381.3,275.8L381.3,274.4L381.0,272.5L381.0,271.5L382.2,269.7L385.0,265.2L386.0,262.6L387.0,262.7L386.9,260.8L385.4,260.0L385.9,258.6L386.4,255.9L386.1,254.3L386.0,252.2L384.4,251.4L383.4,250.4L380.4,250.1L379.5,249.1L377.2,250.1L375.1,250.7L373.3,251.0L376.0,249.1L372.7,250.7L369.2,252.8L366.0,253.8L362.5,254.8L359.1,255.6L357.5,255.9L362.1,254.3L366.7,252.4L368.2,251.4L366.6,251.4L365.8,250.4L364.7,249.6L365.8,248.1L368.1,246.9L372.5,245.6L371.1,245.5L368.8,245.5ZM449.5,243.5L447.2,245.1L444.7,247.6L442.3,247.8L439.9,246.5L436.1,245.8L436.5,244.6L441.1,242.6L442.0,241.6L438.5,240.4L435.2,240.0L432.2,239.3L433.5,237.0L437.1,236.8L440.4,236.6L442.3,237.6L445.3,238.8L446.9,239.6L447.4,240.9L448.6,242.3ZM411.4,238.8L415.0,237.2L417.7,237.6L422.2,237.2L421.2,239.3L422.8,240.2L419.6,241.3L415.1,241.5L412.1,240.9L411.2,240.0ZM407.2,238.5L410.8,236.3L413.8,236.3L414.5,237.1L412.7,238.0L409.5,239.0ZM458.5,229.6L452.9,229.3L444.8,229.6L439.2,230.7L435.8,231.5L438.5,232.2L436.8,234.3L441.2,234.6L444.1,234.3L447.3,232.6L450.9,231.8L454.9,230.8L457.7,230.1ZM443.2,234.2L441.1,236.2L435.7,236.2L433.3,235.5L434.7,234.5L437.0,234.1L440.5,234.0ZM418.1,234.6L420.1,234.3L423.8,234.8L425.0,235.0L423.6,235.7L419.4,236.2L416.1,235.8ZM426.1,236.5L428.7,237.0L427.3,238.8L425.5,239.3L423.6,237.9ZM434.0,236.5L430.5,236.5L429.9,237.9L431.1,238.1ZM440.9,230.3L435.8,230.9L434.8,232.2L436.5,232.9L440.7,232.0ZM429.5,232.4L431.9,232.5L431.6,233.2L428.8,233.4ZM433.0,232.6L434.6,232.9L433.2,233.5ZM432.1,233.9L433.8,234.1L434.4,234.8L431.9,235.2L430.4,234.8ZM423.8,240.7L426.3,240.3L426.2,241.3L424.0,241.8ZM429.6,234.3L431.3,234.6L429.4,235.6L427.9,235.2ZM415.1,234.3L419.6,233.5L419.1,234.3L415.6,234.9ZM429.2,245.3L431.4,244.2L432.6,244.8L433.6,246.1L431.9,246.9L429.6,246.9L428.9,246.3ZM443.1,263.5L447.8,259.1L446.8,261.3L448.6,261.8L448.2,263.6L448.9,263.6L447.9,264.6L446.3,264.0L445.6,263.4ZM387.2,262.6L385.7,262.0L384.6,260.0L386.3,260.5ZM412.3,292.4L415.3,290.9L417.3,291.2L419.5,292.5L422.6,294.3L419.3,294.7L418.5,292.9L415.7,292.1ZM422.3,294.7L425.7,294.7L428.1,296.1L424.9,297.3L422.1,296.4ZM418.3,296.4L420.3,296.7L419.6,296.9L418.3,296.6ZM429.2,296.3L430.8,296.4L430.7,296.8L429.2,296.8ZM472.0,229.0L477.8,229.0L483.4,229.8L488.1,230.3L484.5,231.5L482.9,233.1L483.2,234.3L481.8,236.1L480.1,237.9L479.7,239.7L477.5,241.3L473.3,242.1L471.0,242.6L467.5,244.4L465.0,245.1L463.2,247.1L461.2,249.6L460.3,250.1L457.8,249.1L456.6,247.3L456.1,245.6L455.4,243.6L457.4,241.6L457.0,240.2L456.9,238.8L456.9,237.6L456.4,236.1L454.3,234.8L451.0,234.7L449.1,233.5L448.7,232.8L452.8,231.8L456.5,230.5L462.5,229.8L467.5,229.4ZM478.1,246.1L477.3,244.6L478.6,243.6L482.7,243.9L484.5,244.1L485.1,245.1L483.9,245.8L481.1,246.6L479.2,246.3ZM418.3,307.4L419.7,306.7L420.3,305.3L421.3,304.7L423.1,304.0L424.4,303.2L424.3,304.7L425.8,304.2L427.6,305.3L429.7,305.2L431.7,305.2L433.7,305.1L434.7,305.9L435.1,307.6L436.6,308.1L438.0,310.4L440.5,310.4L442.5,311.0L444.0,312.4L445.4,315.2L445.4,317.2L446.9,318.3L450.4,318.9L453.4,320.3L456.4,321.2L458.5,322.9L460.3,323.4L460.7,325.7L460.6,328.0L458.6,329.7L457.2,331.9L456.8,334.2L456.7,337.0L456.1,339.8L455.3,342.1L453.4,343.2L451.5,343.9L449.2,345.5L448.4,347.8L448.3,349.5L447.1,352.3L445.7,354.0L444.8,355.7L443.6,356.8L441.8,356.3L440.3,355.8L441.5,358.3L442.3,358.8L441.8,360.4L438.0,361.3L438.3,363.2L435.8,363.5L436.9,365.3L437.2,368.1L435.5,369.7L437.3,371.2L436.2,373.8L436.4,376.1L437.5,377.2L440.8,378.8L438.9,379.5L435.9,378.5L431.9,376.3L429.2,371.9L428.2,366.9L428.3,364.5L427.0,360.8L427.1,357.4L427.4,354.6L426.8,351.2L426.4,347.8L426.6,343.8L426.3,338.7L425.0,337.0L421.0,334.4L419.7,332.5L417.8,329.1L416.0,325.7L414.4,324.0L414.2,322.1L415.3,320.9L414.5,319.7L415.3,316.6L416.6,315.2L418.0,312.7L418.3,309.8L417.6,308.9ZM442.7,374.9L445.5,375.0L445.9,375.6L444.6,376.1L443.2,375.6ZM490.1,276.5L489.4,275.6L488.5,275.1L487.1,275.3L487.2,273.4L486.6,273.3L487.2,271.4L487.4,269.7L487.0,268.6L488.2,267.8L490.0,267.9L492.2,268.0L493.8,268.1L494.3,266.7L494.3,265.2L493.5,264.0L491.4,263.1L491.3,262.5L492.8,262.1L494.1,262.3L493.8,261.2L495.4,261.5L496.7,260.6L496.9,259.8L498.0,259.4L498.8,258.9L499.5,257.6L500.9,257.0L502.6,256.9L502.6,255.5L502.2,253.8L502.5,253.2L504.0,252.5L503.9,253.8L504.4,254.0L503.6,255.4L504.2,256.1L504.7,256.5L506.3,255.9L507.4,256.6L509.2,255.9L510.9,255.6L512.0,256.1L513.1,255.2L512.7,253.5L513.1,252.9L514.1,252.4L515.3,253.0L514.4,251.7L514.3,251.0L516.2,250.6L517.8,250.5L519.4,250.1L518.0,249.6L516.1,249.7L513.8,250.2L512.4,249.4L512.2,248.2L511.9,246.9L513.3,246.1L514.1,245.2L514.7,244.8L513.9,244.3L512.2,244.5L511.6,245.6L510.1,246.6L509.3,247.6L509.0,249.1L510.5,250.1L510.1,250.9L509.0,251.7L508.9,253.3L508.6,254.1L507.3,254.9L506.1,255.0L505.8,254.1L505.1,252.7L504.4,251.3L503.9,250.4L503.5,251.2L501.9,252.1L500.7,252.1L499.9,251.4L499.6,250.1L499.4,249.1L499.5,248.0L500.8,247.3L502.1,246.6L503.1,246.1L504.0,245.3L504.7,244.2L505.4,243.1L506.4,241.8L507.4,241.5L508.4,240.7L509.8,240.2L511.8,239.6L513.5,239.2L515.3,239.3L516.9,240.0L518.1,240.4L519.3,240.9L521.6,241.2L524.0,241.8L525.7,242.6L526.2,243.5L524.7,244.0L521.6,243.8L520.4,243.5L519.6,243.1L521.6,245.1L523.8,246.1L525.5,245.5L526.1,244.8L528.0,243.8L527.9,241.6L529.5,241.9L532.2,242.1L534.5,241.6L537.1,241.6L539.0,241.2L539.0,240.4L541.8,240.9L543.1,240.7L544.8,241.6L545.7,241.3L544.3,239.7L542.3,238.8L543.0,237.7L543.5,237.0L545.9,237.9L546.5,239.3L547.9,240.7L549.1,241.6L550.4,243.1L550.2,241.6L548.7,238.3L551.1,237.9L550.7,237.0L553.8,237.0L554.8,236.5L556.9,235.2L559.7,234.8L561.3,233.9L562.7,233.3L565.2,233.9L569.3,234.5L572.9,236.5L576.5,237.0L580.1,237.1L584.2,237.6L587.7,239.3L589.2,238.8L592.6,238.2L593.4,237.7L597.4,238.1L601.2,238.8L604.7,239.3L608.5,239.5L611.6,240.6L615.8,240.5L617.4,240.1L622.2,240.4L626.4,241.3L632.1,245.1L631.3,245.6L633.3,247.6L631.9,248.3L631.1,250.1L628.2,250.4L626.1,250.2L628.0,252.2L629.7,254.1L631.3,255.2L631.0,255.9L631.2,257.6L631.1,258.9L630.4,259.7L628.3,258.1L625.3,255.4L622.9,252.8L623.9,252.2L623.8,250.7L624.1,249.6L621.3,248.6L618.1,248.5L619.3,251.0L616.9,251.0L614.4,250.9L610.4,251.0L609.6,251.7L609.1,253.8L609.4,255.9L612.2,256.7L615.5,258.1L617.3,260.8L618.4,262.5L618.1,264.3L618.0,267.5L616.1,268.8L614.5,269.1L614.3,270.8L614.3,271.9L613.2,272.5L615.0,274.2L616.6,275.9L617.1,277.4L615.7,277.9L614.7,278.1L613.9,275.9L613.4,274.5L611.8,274.4L611.1,272.5L610.0,272.1L608.1,273.1L606.7,271.0L607.4,271.0L605.6,272.2L604.6,273.0L604.8,273.9L606.5,275.1L607.8,274.4L609.8,275.1L608.5,276.5L608.0,277.6L609.7,279.3L611.6,281.3L612.1,282.3L612.6,283.5L612.6,284.9L612.0,286.4L611.4,287.8L610.8,289.4L609.6,290.6L607.8,291.5L606.4,292.1L604.1,292.9L603.7,294.2L602.9,292.9L601.2,292.9L600.1,293.8L599.5,295.7L601.0,298.0L603.1,299.9L603.9,302.5L603.9,304.0L601.8,305.3L600.0,307.4L599.7,305.5L597.8,304.7L597.0,303.4L595.6,302.8L594.7,302.0L594.1,305.5L595.4,308.1L596.1,309.5L597.4,310.2L598.7,312.1L598.8,314.1L599.6,315.6L598.8,315.7L596.6,314.0L595.7,312.3L595.5,310.4L593.6,307.9L593.2,305.9L593.4,303.1L592.1,299.7L591.5,298.2L589.8,299.3L588.6,299.1L588.4,296.3L586.7,294.2L585.5,292.9L584.8,291.5L584.0,292.3L582.5,292.6L580.6,292.9L580.3,294.6L579.0,295.4L576.7,298.2L574.8,299.7L575.0,302.5L574.8,305.5L573.5,307.0L572.6,308.0L571.6,306.4L570.7,304.2L569.2,300.8L567.9,298.5L567.0,295.1L566.5,293.1L564.5,293.7L562.9,292.0L564.1,291.4L562.2,290.6L560.9,289.1L560.0,288.5L558.1,288.6L555.2,288.7L552.5,288.2L551.0,288.0L550.2,286.5L548.2,287.1L546.2,286.1L544.9,285.2L543.6,283.2L542.1,283.2L541.5,283.8L542.5,285.7L544.0,287.2L544.8,289.1L545.7,289.8L548.0,289.8L549.3,288.3L549.9,287.5L550.3,289.0L551.8,290.3L553.9,291.7L552.8,294.0L552.2,295.7L551.3,296.1L549.9,297.4L547.0,299.5L544.0,301.1L540.6,302.5L538.6,302.9L537.8,300.8L537.6,298.5L536.0,296.3L533.8,292.9L532.9,290.3L531.5,288.3L529.9,286.1L528.9,285.2L529.0,283.8L528.4,285.5L528.1,285.7L526.7,283.4L527.8,286.3L530.0,290.0L531.9,293.4L533.3,296.8L534.8,299.7L536.5,301.6L538.4,303.4L539.7,305.4L542.1,304.6L546.3,303.8L546.1,305.4L546.0,307.6L544.3,310.4L542.8,312.4L540.9,314.9L538.9,316.6L536.9,319.2L535.6,320.6L534.5,322.5L534.6,324.9L534.8,326.8L535.5,329.1L535.6,331.3L535.7,333.8L534.4,336.2L531.6,338.1L529.8,339.8L530.1,342.7L529.8,344.4L527.3,346.4L526.7,349.5L525.2,350.9L524.1,352.6L522.0,354.6L519.7,355.7L517.2,355.6L514.3,356.6L512.9,355.9L512.8,354.0L512.0,351.2L511.3,349.6L510.2,347.8L509.6,343.2L508.5,340.4L507.0,336.8L507.6,333.0L509.0,330.2L508.5,327.4L507.7,324.1L507.4,322.9L505.4,320.4L504.4,318.0L504.9,315.5L505.1,313.5L504.1,312.1L502.4,312.2L500.9,311.8L499.9,310.1L497.4,310.1L494.4,311.3L492.4,311.4L490.4,311.3L487.9,312.2L486.1,311.0L483.9,309.4L482.2,307.6L481.7,306.1L480.5,304.9L478.8,303.2L478.1,300.6L479.1,299.1L479.4,295.7L478.7,293.4L479.8,290.4L481.3,288.0L482.8,286.1L484.8,284.9L486.0,283.5L486.0,281.5L487.3,279.5L489.0,278.7L489.9,276.7L493.5,277.5L495.4,276.6L498.2,275.6L501.5,275.2L504.5,275.0L505.7,275.3L505.1,276.2L505.7,277.0L505.1,278.7L506.3,279.6L507.8,280.0L510.0,280.6L511.7,282.1L513.6,282.9L514.5,281.9L514.5,280.8L515.8,280.0L517.3,280.3L519.3,281.3L521.7,281.8L523.6,282.1L525.0,281.4L526.3,281.9L528.1,281.8L528.5,280.4L528.9,279.3L529.2,277.6L529.0,276.1L529.3,275.7L527.7,275.6L525.9,276.3L524.0,276.0L522.6,275.8L521.1,275.0L520.0,273.6L519.9,272.5L519.5,271.8L518.3,270.9L517.0,271.4L516.4,271.4L516.4,272.5L516.8,274.0L517.7,274.2L516.9,275.3L516.5,275.9L515.7,275.6L515.4,274.2L514.6,273.1L513.9,272.3L513.2,271.2L513.2,269.9L512.2,269.1L510.8,268.4L509.4,267.5L508.4,266.1L507.5,265.7L506.5,265.9L506.5,266.9L507.6,267.9L508.6,269.5L510.0,270.3L511.5,271.2L512.4,271.8L511.2,272.5L510.7,273.2L510.3,274.2L510.0,273.6L510.0,272.5L509.2,271.7L508.2,271.0L506.8,270.3L505.4,269.1L504.6,267.7L503.3,267.0L502.3,267.7L500.8,268.5L499.5,268.1L498.3,268.4L498.3,269.7L497.2,270.6L496.1,271.0L495.2,272.5L495.6,273.4L494.7,274.6L493.3,275.7L491.3,275.7ZM364.4,241.3L366.0,242.6L368.0,243.3L368.0,244.0L366.2,244.6L363.0,245.8L361.4,245.3L358.7,245.1ZM490.5,260.7L492.4,260.5L495.4,260.0L496.6,259.5L496.8,257.9L495.7,257.1L495.2,256.5L494.1,255.4L493.7,254.5L493.0,254.1L493.8,252.5L492.5,252.5L492.9,251.6L491.4,251.6L490.7,252.8L490.8,254.0L490.3,254.3L491.2,254.9L491.4,255.5L492.7,255.5L492.5,256.2L493.0,256.7L492.9,257.2L491.5,257.2L491.8,258.1L490.9,258.9L492.6,259.3L491.8,259.5L490.5,260.7ZM490.3,258.4L490.2,256.9L490.8,256.1L490.2,255.1L488.5,255.2L488.3,255.9L487.0,256.3L486.9,257.2L487.3,258.0L486.5,258.8L487.2,259.2L488.5,258.9ZM506.9,274.2L509.9,273.9L509.5,275.7L507.1,274.6ZM503.1,270.8L504.3,270.8L504.3,272.8L503.2,273.1ZM503.2,268.7L503.9,268.6L504.1,270.3L503.3,270.0ZM517.5,276.9L520.2,277.2L519.9,277.6L518.0,277.6ZM525.8,277.6L527.9,276.8L527.4,277.7L526.2,278.0ZM502.4,232.4L505.3,231.5L509.0,231.1L512.2,231.5L509.5,232.8L507.1,233.9L505.2,233.7L504.1,233.2ZM531.7,238.8L533.9,237.0L532.7,236.1L534.9,234.3L539.8,233.9L537.5,235.2L535.7,236.5L535.1,237.9L534.8,239.3L533.2,239.6ZM524.4,231.1L526.9,230.3L533.3,230.7L530.8,231.5L526.5,231.5ZM556.0,232.2L556.5,230.7L561.2,231.8L562.2,233.1L558.5,232.6ZM587.6,236.1L588.9,234.8L594.3,235.2L593.7,237.0L589.6,236.5ZM368.8,238.8L369.7,239.1L367.8,239.4ZM621.3,238.8L622.4,238.8L623.3,239.4L622.3,239.3ZM621.9,265.2L622.8,264.7L620.1,261.4L621.7,261.9L617.7,258.6L616.0,256.5L615.1,256.2L616.7,258.6L619.2,261.4L620.6,263.6ZM623.4,270.3L624.3,269.9L624.7,269.4L626.1,269.7L627.1,268.2L626.1,267.5L624.6,267.2L622.1,265.9L623.5,268.4L622.4,268.2L623.0,269.5ZM624.4,270.4L625.5,271.4L626.9,273.1L626.4,273.9L627.3,275.6L627.6,276.8L627.4,277.6L626.5,277.4L626.2,278.0L624.7,278.0L624.7,278.4L623.8,279.2L622.9,278.0L621.5,278.3L620.4,278.8L619.4,278.7L619.1,278.1L620.5,277.0L623.0,277.0L623.1,275.0L623.8,275.6L624.6,274.9L625.1,274.0L624.7,272.5L624.1,271.4ZM621.2,279.6L621.2,278.6L622.6,278.5L623.0,278.9L622.4,279.5L621.9,280.2ZM618.5,279.6L619.3,278.8L620.4,279.3L621.0,281.5L620.4,282.1L619.8,281.5L619.3,280.2ZM613.5,288.6L614.1,288.9L613.8,292.3L612.9,291.4L612.6,290.5ZM602.3,295.5L603.9,294.4L604.5,295.0L603.7,296.5L602.4,296.3ZM614.1,296.3L615.7,296.3L616.3,298.0L615.6,299.2L616.3,301.4L618.4,301.9L618.0,302.7L616.4,301.9L614.9,301.1L614.2,299.1ZM617.1,309.3L617.2,308.3L619.0,308.1L620.3,306.3L621.5,308.7L621.1,310.1L620.4,310.9L619.1,310.0ZM617.2,304.2L618.3,305.3L619.8,304.2L619.5,303.1L618.5,303.1L617.8,305.9ZM612.2,307.7L614.1,305.3L614.2,304.5L613.4,306.4ZM604.4,315.5L604.9,318.3L605.5,320.6L607.3,321.0L609.8,321.7L611.3,321.3L611.8,319.5L612.9,317.2L613.2,316.1L614.4,316.1L613.3,314.4L614.4,311.2L612.6,309.4L611.6,309.5L610.7,311.3L609.4,312.1L608.3,313.6L606.8,314.4L605.3,315.2ZM590.5,310.9L592.7,311.3L595.6,314.4L596.8,314.9L598.9,316.6L599.4,318.3L599.9,320.0L601.3,320.8L601.0,323.8L599.7,323.9L597.6,321.7L596.3,319.8L595.7,317.8L594.4,315.7L593.3,314.5L591.8,312.9ZM600.3,324.9L601.2,323.9L603.5,324.3L605.6,325.0L607.6,325.0L609.5,326.0L609.4,326.9L606.0,326.5L603.6,326.0L601.5,325.6ZM610.0,326.5L612.0,326.5L614.0,326.5L613.9,327.2L610.9,327.4L610.0,327.2ZM614.8,326.8L618.0,326.6L617.9,327.0L614.9,327.3ZM618.9,327.7L621.9,326.7L622.2,326.8L619.3,328.7L618.3,328.9ZM614.5,323.4L614.8,321.2L614.1,320.3L615.2,317.1L615.9,316.2L618.4,316.2L620.4,315.5L619.7,316.6L616.9,316.6L615.7,317.2L616.6,318.3L618.4,318.2L616.8,319.4L617.8,321.2L617.2,322.9L616.3,321.7L615.8,320.1L615.5,323.4ZM622.8,315.2L623.8,315.5L623.4,316.6L624.1,317.8L623.2,318.1L623.2,316.3ZM623.3,320.8L626.1,321.0L625.8,321.6L623.5,321.2ZM626.4,318.7L627.9,317.7L629.4,318.2L629.6,320.0L630.8,320.9L632.8,319.0L635.3,319.9L637.8,320.9L639.7,321.5L641.0,322.9L642.6,324.1L642.2,325.7L643.3,327.3L644.6,328.9L643.2,328.7L641.3,327.2L639.0,325.9L638.1,327.4L635.8,327.5L634.4,326.5L633.4,326.7L633.0,325.7L633.9,324.9L633.2,323.4L630.2,322.2L628.7,321.7L627.8,320.9L629.1,320.0L627.3,320.4L626.8,318.9ZM643.6,323.4L645.2,322.9L646.7,322.0L647.1,323.2L645.6,324.3L643.6,324.0ZM574.9,306.1L575.2,306.1L577.1,308.7L576.8,310.1L575.7,310.5L575.1,309.5ZM544.4,330.8L545.4,334.7L544.2,337.0L542.4,342.1L541.1,345.5L539.3,346.1L538.2,345.3L537.8,342.1L538.8,339.8L538.8,337.0L539.4,335.5L541.4,335.1L543.0,332.7ZM606.4,342.7L607.0,342.0L609.9,340.5L612.0,340.2L614.3,339.3L616.1,336.7L617.5,335.5L619.2,333.6L621.3,332.8L622.3,334.1L623.7,334.1L624.6,332.3L625.3,331.2L627.1,330.9L627.1,330.2L628.9,330.8L630.4,331.0L631.3,331.0L630.8,332.3L629.6,333.8L630.6,335.2L631.9,336.2L633.4,337.2L635.1,335.9L635.7,333.0L635.9,331.5L637.1,329.3L637.7,331.1L637.6,333.3L638.6,333.4L639.2,334.2L639.0,335.9L639.2,338.6L641.4,340.3L641.8,342.6L642.8,343.0L643.1,344.5L644.2,346.1L643.5,349.5L642.1,351.7L640.5,354.0L638.6,355.6L636.6,357.6L635.3,359.5L633.2,360.0L630.9,361.3L630.0,360.4L628.4,361.1L626.9,360.5L626.0,359.5L626.3,358.2L625.3,357.5L626.3,356.0L624.9,357.0L625.0,355.7L626.3,354.6L623.7,356.4L623.3,355.3L622.9,354.2L620.8,352.9L618.0,353.1L615.4,353.8L613.2,354.6L611.8,355.6L609.0,355.6L606.6,356.8L604.8,356.6L604.1,355.9L605.0,355.1L605.7,353.4L606.0,350.6L605.9,347.2L605.7,346.1L606.2,347.0L605.8,344.9ZM628.2,363.2L631.4,363.5L630.5,364.9L628.7,366.2L627.3,366.5L627.6,364.9ZM658.6,356.1L659.3,357.7L659.4,359.1L659.5,359.8L661.7,359.9L660.0,361.6L659.0,361.8L657.1,363.4L655.3,364.3L655.3,363.8L656.7,362.5L656.2,361.6L657.4,360.8L658.7,359.0L658.5,356.8ZM654.1,363.0L654.8,363.9L653.4,365.3L651.4,366.5L649.3,367.5L647.4,369.1L645.6,369.8L643.7,369.2L644.8,368.1L647.3,366.9L650.1,365.7L652.1,364.4ZM656.4,340.1L658.7,342.6L658.3,342.4L656.6,340.6ZM342.4,294.2L343.2,295.1L342.1,295.8L341.9,294.8L341.0,293.4L339.4,292.0L338.6,292.2L340.6,293.2ZM627.0,267.5L628.2,266.0L627.3,266.0ZM670.2,337.0L671.5,337.0L671.2,337.8L670.2,337.7ZM651.5,324.7L652.5,325.5L655.2,328.0L656.0,328.0L654.7,326.6L652.5,325.1ZM660.2,334.2L661.1,334.7L660.6,335.9Z" fill="#a1a4a9"/><path d="M521.0,270.6L522.0,270.6L523.8,270.7L525.5,269.7L527.3,269.7L528.8,270.5L530.7,270.8L532.1,270.8L533.3,270.3L533.2,269.1L531.6,268.0L529.6,266.9L528.5,266.1L527.2,266.1L525.5,267.0L524.5,266.0L525.2,265.2L523.4,264.6L522.5,265.1L522.0,266.0L521.2,267.1L520.8,268.6ZM526.7,266.0L528.0,265.9L529.5,264.0L528.2,264.2L526.7,264.9ZM537.6,266.9L538.5,268.6L540.0,270.3L541.0,271.7L540.9,273.6L541.0,274.8L542.1,275.3L543.6,275.7L545.8,275.4L545.2,274.2L544.4,272.5L544.6,271.4L543.7,270.6L543.3,269.7L541.9,268.4L540.8,267.1L541.4,265.8L542.4,264.6L540.5,264.1L538.9,264.6L537.8,265.7ZM547.5,265.2L550.2,266.9L549.6,264.7L548.2,264.7Z" fill="#fff"/><g fill="none" stroke-linecap="round" stroke-linejoin="round"><path d="M388.4,262.9L387.1,263.6M389.5,262.0L390.4,262.6L391.9,263.3M395.5,268.7L394.6,269.1L393.5,269.5M392.8,259.2L391.1,259.3M399.1,259.0L399.8,259.7L401.4,260.4M385.4,280.7L386.2,280.0M392.7,264.5L391.6,265.1L391.3,266.0L389.8,266.7M412.2,262.2L411.0,261.1L409.9,260.0M404.6,280.6L403.6,281.0L402.5,281.0L401.5,281.2M398.0,281.8L396.4,281.9L395.0,282.4M390.4,272.7L390.4,273.9L391.7,274.8L393.3,274.6M386.3,276.3L385.8,275.4L385.1,274.4M402.2,267.6L402.2,268.6L401.6,269.6L400.0,270.3M416.5,276.1L416.5,274.5L416.8,273.5M411.9,264.5L410.7,265.4L410.1,267.1M429.7,264.9L428.4,266.1L428.3,267.9M416.5,268.0L418.2,267.9M408.0,276.3L409.6,276.9L410.7,276.7M421.1,264.2L421.6,263.4L421.0,262.7L420.0,262.2M408.1,277.2L407.5,278.8M411.3,267.1L410.0,266.8L408.6,266.3L407.3,265.6M422.7,272.7L422.8,273.6M409.1,255.7L409.3,256.9M413.9,262.5L414.7,261.6L415.9,260.7L417.1,260.7M394.7,291.7L395.0,290.7M400.0,295.1L398.8,295.6M380.9,242.7L381.9,241.4L382.3,240.2M387.0,247.4L387.8,246.3M395.6,242.4L394.0,242.1L392.7,241.3L391.4,240.9M386.3,247.8L385.4,248.8L384.2,249.3M386.2,244.6L385.2,243.7L383.5,243.4M434.0,359.6L433.1,360.6L433.1,361.9L431.7,362.6M435.4,367.9L433.7,367.8L432.6,367.6L431.5,367.0M432.8,356.0L434.0,356.3L435.4,356.5M434.8,363.8L436.3,364.7M429.4,361.4L430.7,361.7L431.5,362.2M429.5,357.2L430.4,357.0L431.6,356.1L432.4,355.6M564.8,250.8L565.7,251.4L566.7,251.8M547.4,250.6L548.7,251.4M556.4,260.8L557.4,259.5L559.0,259.3L559.9,258.8M551.9,256.2L552.9,255.8M570.6,258.9L569.8,257.7M560.9,259.9L561.1,258.5L560.8,257.1M566.5,249.9L566.4,250.8M551.2,261.0L552.4,260.8L553.4,261.0M547.3,257.4L548.1,258.1M581.5,260.5L582.6,261.6L583.3,262.8L582.9,264.6M557.9,256.1L557.5,257.8L557.7,258.9L557.5,259.9M569.0,257.4L570.0,258.5M569.4,257.7L568.3,256.3M587.3,256.1L586.2,257.4M555.9,250.7L554.9,250.1L553.5,249.3M555.9,254.9L555.4,255.9L554.9,257.6L554.6,259.3M564.0,256.7L563.2,257.4L562.2,257.2M566.7,260.7L567.4,259.6M576.2,248.7L575.3,249.4L574.1,250.0M565.1,256.9L565.4,255.6L565.0,254.5M583.2,252.1L583.6,253.1L584.0,254.0L584.8,255.6M562.2,250.0L563.0,248.5M576.5,261.7L578.0,261.8L578.7,260.8L579.0,259.1M562.0,269.1L563.2,270.1L564.2,270.8M554.7,263.8L554.5,265.0M553.3,267.7L554.5,268.3L554.6,269.6L554.4,270.6M597.9,261.9L596.8,262.7L595.4,263.2L594.5,264.1M598.1,259.5L598.7,260.6M608.1,263.3L609.4,262.5M612.9,266.2L612.0,265.2L612.7,264.2L614.2,264.3M603.9,264.7L603.0,263.5M594.9,265.6L596.1,264.6L597.3,263.5L598.0,262.5M603.3,257.7L602.0,258.1L600.7,258.7L599.6,258.9M616.9,264.0L618.2,262.9M393.8,248.8L392.7,248.6L391.6,248.4L390.3,247.8M389.6,253.7L390.4,252.3L390.3,250.6M534.3,281.6L532.9,282.5M531.1,272.4L530.4,271.5M542.7,280.9L542.0,281.8M518.3,351.5L519.3,350.1L518.5,349.6M523.2,351.0L524.9,350.8M571.8,288.8L572.2,287.2L573.3,285.8L573.5,284.7M571.0,303.5L571.7,302.0L573.1,300.9M590.3,295.6L590.7,294.1L589.3,293.2M597.5,287.6L598.6,288.3L599.4,287.1M595.5,283.5L596.6,283.7L597.6,284.2M611.7,286.0L610.0,286.4L609.0,287.1M592.8,282.0L592.8,283.5L591.5,284.4L590.5,284.3M596.1,288.5L596.9,290.0L597.5,290.8M603.1,270.5L604.3,270.3M595.9,270.6L596.2,269.5L597.1,268.0M600.3,274.5L599.0,275.7L599.0,277.2M605.1,277.0L604.4,275.5L603.4,275.1L602.2,275.0M606.4,275.8L607.8,277.0M610.0,267.4L610.8,268.1L612.0,268.6L613.2,268.9M606.7,262.2L606.3,260.5M551.4,269.2L552.8,270.3M553.3,268.6L552.2,267.3L551.4,266.0M565.0,272.2L564.2,272.8L564.3,274.3M566.2,268.9L567.0,267.9L567.5,266.9L568.1,266.1M565.1,269.6L564.6,270.6L564.8,271.9M552.8,274.9L553.1,273.5M560.7,270.5L559.8,270.6L558.4,270.5M553.0,275.9L553.0,276.8M564.4,269.6L564.4,268.6M556.6,271.9L557.6,271.0L559.3,270.8M637.7,349.6L638.4,348.7L638.8,347.7L639.4,346.6" stroke="#dedcda" stroke-width="1.00"/><path d="M529.9,248.1L528.0,247.1L526.7,245.6M632.4,357.9L630.5,356.3L628.4,355.7L626.5,357.2" stroke="#dedcda" stroke-width="0.80"/><path d="M388.1,266.9L386.7,267.6M401.2,262.3L401.9,261.6L403.6,261.7M396.5,263.4L396.0,265.0L395.1,266.0L393.5,266.3M390.3,259.0L390.7,257.6M401.0,259.6L402.6,259.7L403.8,260.0M399.8,265.1L398.9,264.4M399.5,269.5L400.8,270.7M397.5,268.8L396.6,267.5M391.4,267.0L392.5,266.6L393.4,266.1L393.8,264.8M390.7,279.1L389.4,278.6L388.1,278.2L386.6,277.7M407.2,266.1L407.8,264.7L408.8,264.1L410.3,263.8M402.5,282.3L401.1,282.6L400.3,283.4L399.6,284.2M397.4,268.2L397.5,269.4L397.1,271.2M401.4,262.0L401.2,263.3L401.7,264.2M399.6,269.2L398.8,270.3L398.6,271.3M384.5,272.5L384.6,273.6M400.0,279.6L401.3,280.2L402.1,281.0M402.9,274.1L403.3,275.7L404.1,276.5L405.5,277.5M388.7,266.8L387.5,266.8M391.3,265.0L391.3,266.2L391.2,267.2L391.4,268.9M413.0,268.1L413.9,267.6L414.5,266.8M416.1,275.1L417.5,275.9M421.0,265.4L421.8,266.8L421.8,268.0M410.5,274.0L409.4,274.2L409.0,275.4L408.4,277.0M425.5,272.5L424.4,272.9M418.9,266.7L419.2,268.3L419.4,269.4M415.2,275.1L414.0,274.2L413.8,272.4L414.8,271.5M409.8,268.1L408.4,268.6L407.1,267.6L405.9,267.0M413.7,248.7L413.1,247.5L412.0,247.3M413.7,262.0L414.3,261.1L415.6,261.2M399.0,287.7L399.1,288.7L399.3,289.6M397.2,288.2L396.6,287.5M400.0,288.4L399.3,287.4L398.9,285.8M379.5,244.4L378.6,244.2L377.3,244.4L376.5,243.6M434.0,334.2L433.2,335.4L433.2,336.9L434.1,338.3M438.3,356.7L438.4,357.9L439.7,358.6M430.4,352.0L429.5,353.1L427.9,354.0M438.5,360.7L438.1,362.0M434.3,356.2L434.5,357.9M489.7,269.7L490.7,270.2L492.3,270.4M493.7,254.6L493.0,254.0L493.3,252.9M518.1,266.0L518.0,264.7M517.2,260.4L515.8,260.1M519.1,260.8L517.7,261.5L517.3,262.4L516.4,263.0M526.1,263.0L527.4,262.5L528.8,262.5M526.7,265.0L525.4,265.2M533.7,259.3L532.7,258.7L531.8,258.6L530.7,258.8M495.4,267.8L496.3,267.7M544.8,249.5L546.3,249.3L547.8,249.0L548.9,247.9M568.9,251.8L568.0,251.0M555.7,249.4L556.8,250.3M579.2,255.4L578.1,254.0M555.1,263.5L555.8,262.9M564.9,269.7L563.7,270.9M550.1,265.0L550.6,265.8L551.7,266.3M558.8,261.3L558.4,260.3M556.9,262.1L556.2,261.4L555.2,260.2M602.1,257.0L600.3,256.8M597.5,260.8L598.5,259.3L598.5,258.2L598.1,256.5M611.0,263.3L610.3,262.5L610.5,260.8L611.8,259.5M396.2,251.8L395.4,250.6L394.6,249.3L393.9,247.9M400.1,245.3L400.2,243.5L400.3,241.9M393.1,245.2L391.7,245.0L390.6,244.8M530.1,276.3L530.9,277.9M532.7,281.8L531.6,282.2L530.4,282.5L529.4,282.1M486.5,300.8L485.7,302.1L484.0,302.3L483.4,303.0M522.4,340.2L523.4,340.0M521.8,349.0L521.4,349.9L521.1,350.9L521.6,352.1M523.4,346.3L524.4,346.8L525.4,347.3L526.4,348.2M514.5,352.4L515.4,351.1M519.0,355.3L517.8,354.7L517.2,353.7M581.3,289.1L581.6,290.3L580.9,291.0L580.3,291.9M576.2,286.5L575.0,286.4M576.8,294.7L576.0,295.7M608.4,286.2L607.7,287.2L606.9,287.5L606.1,288.2M597.9,290.2L596.9,289.7M594.9,288.3L594.8,287.0M595.1,289.0L595.3,290.0L594.7,291.3M599.2,278.5L597.8,278.9M608.5,287.9L609.6,289.2L609.8,290.2M594.7,274.6L595.8,273.1L596.4,272.5M604.5,272.5L603.4,273.2M594.6,270.5L593.6,271.3L592.4,271.8L591.3,271.3M600.1,277.5L598.9,278.6L597.9,279.6M597.1,274.9L598.2,275.9M606.5,275.8L608.2,275.7M603.4,272.6L603.6,270.9L603.2,270.0M592.7,270.7L593.4,269.7M611.5,265.4L612.4,264.8L613.2,265.9L614.2,266.4M554.9,267.8L553.9,267.3M563.8,274.4L563.5,273.5L564.1,272.2L565.4,270.9M554.9,271.2L553.9,270.4M638.2,348.8L638.5,350.0" stroke="#d5bdb8" stroke-width="1.00"/><path d="M397.2,273.1L401.4,274.2L404.0,274.8L406.0,277.0L409.0,278.1L409.0,279.8M395.9,276.5L399.3,277.6L402.7,278.7L405.8,279.3L407.5,281.5L408.1,282.1M498.1,264.1L496.3,263.7L494.5,263.8L493.5,263.8M562.7,271.9L557.9,271.4L554.3,268.6L550.2,265.5M640.4,348.3L637.2,350.6L634.1,352.3L632.0,354.0L629.8,355.7" stroke="#d5bdb8" stroke-width="0.80"/><path d="M398.5,259.8L399.6,258.6M402.6,263.1L402.1,261.9L401.3,261.0L400.9,259.3M395.2,266.3L394.4,265.9M388.5,263.4L387.9,262.4M387.4,280.2L388.1,281.4L389.2,281.3M401.8,270.2L402.5,270.9M407.6,262.6L409.1,262.3M394.6,262.2L395.9,261.2M403.1,261.9L401.9,261.8M398.9,265.1L398.2,264.0M399.7,280.6L400.8,280.3L402.2,280.1M402.3,276.6L402.2,275.1L401.4,274.1M419.3,272.9L420.6,273.4L421.8,274.4L422.5,275.3M418.4,270.5L417.0,270.1L415.7,268.9L414.7,268.4M406.2,278.7L406.5,277.5M414.3,268.1L413.4,269.6L412.8,270.4L412.3,272.1M419.6,269.1L420.8,268.8L422.0,268.7M430.4,269.8L429.6,269.1L428.4,268.0L428.1,267.0M423.0,265.2L423.8,264.8M421.7,266.3L421.4,267.5L420.0,267.3L419.0,267.1M418.8,276.5L419.9,276.6L421.1,276.1M423.8,268.9L425.3,269.3L426.7,269.0M411.2,271.3L412.0,272.4L412.6,274.1M428.5,263.5L427.2,264.2M417.4,268.2L416.7,269.7M416.0,273.6L416.1,274.6L416.2,276.4L416.5,277.4M395.5,286.1L395.5,284.9L395.6,283.5M394.0,285.2L393.2,286.2L392.3,286.0M394.4,293.8L395.2,294.9L395.0,296.5M395.5,290.9L394.4,291.7M386.9,249.4L386.5,250.2M455.1,335.7L455.7,336.5L455.1,337.3M445.4,340.6L447.0,341.1L447.3,342.4M432.1,343.1L433.0,343.6L434.5,343.8M447.3,343.7L448.9,343.1L449.9,342.6M500.9,265.0L499.6,265.7L498.4,265.7M513.8,255.9L513.6,254.4L513.9,252.6M516.3,269.0L515.1,267.9L515.2,266.6M499.3,266.9L497.9,267.5L496.8,268.6L495.7,269.8M498.8,265.2L498.6,263.6M507.3,258.0L508.1,258.8L508.1,260.0M517.3,262.9L518.7,261.9L519.1,260.6M509.2,261.4L510.7,262.0M519.3,267.6L520.5,268.2M506.0,260.5L507.4,261.4L508.6,261.7M518.8,263.3L519.9,264.3M512.8,256.7L511.6,256.0M515.8,259.5L517.0,260.6L518.4,260.8M496.8,264.3L495.9,264.7M503.5,259.1L504.4,258.7L504.9,257.1M495.9,265.8L495.0,265.2M515.6,266.0L514.6,266.6L513.1,266.6M500.1,262.5L501.2,263.3L502.0,264.8L501.8,266.0M495.0,266.2L495.9,266.8L496.4,267.8L496.5,268.8M487.5,268.5L488.7,267.9M517.5,256.2L518.2,257.3L518.8,258.5M517.4,256.1L516.6,255.6L516.1,254.4M518.1,257.9L518.9,257.5L520.3,256.9M524.0,254.7L523.1,255.4L521.8,256.2M527.6,260.4L527.1,259.0L526.5,257.7M534.9,250.8L535.3,251.8L535.6,252.9L534.5,253.6M517.7,264.2L519.1,263.9L520.4,263.7M526.2,252.3L526.4,250.6L526.3,249.4L526.1,248.1M517.6,257.2L518.3,256.5M546.7,261.0L546.7,262.2L546.2,263.6L545.0,264.4M526.8,261.9L528.4,261.9M527.5,262.2L525.9,262.2L524.3,262.5M545.2,261.5L546.5,262.4L546.9,263.7L547.3,264.7M538.7,257.2L539.8,256.5L540.5,255.0L541.4,253.8M537.3,264.0L536.6,264.6M495.0,271.1L495.2,270.0M492.9,269.0L493.5,270.0L494.1,271.7L494.5,273.4M554.6,248.5L555.5,247.4L557.3,247.1L558.2,246.5M551.4,261.7L552.4,260.3M591.0,257.5L589.6,256.9M402.7,250.6L402.0,251.6L401.2,253.1M391.3,247.8L392.7,247.0M534.3,279.2L532.8,279.1M527.9,272.4L527.4,271.4M533.3,275.3L534.0,276.7L534.2,277.7M533.1,272.8L533.2,271.1L534.0,270.7L534.7,269.9M524.5,340.7L524.7,339.7L524.3,338.1M530.5,330.1L529.3,329.8M531.6,338.1L530.4,336.7L529.1,335.6M534.8,312.8L534.8,311.8M534.6,307.3L534.2,305.6L534.4,304.3M517.7,351.8L517.9,352.8L517.2,353.8M515.5,346.4L516.8,346.6L518.4,346.4L520.1,345.8M525.9,348.2L526.8,348.5M516.0,353.7L516.4,354.6L517.1,355.4M572.5,289.4L571.4,290.7L571.2,292.1L571.2,293.1M581.5,290.7L580.2,290.2M571.4,287.8L571.0,289.3L570.7,291.0L570.3,291.9M565.2,286.0L564.4,287.2L563.6,288.7L564.0,289.7M575.4,287.8L576.8,287.5L578.0,287.3L579.5,287.1M564.9,283.2L566.3,284.0L567.6,285.0L569.2,285.2M572.4,282.1L572.8,281.3L573.1,280.1L573.4,279.0M566.8,290.5L567.1,288.8L567.3,287.2M574.6,282.5L575.2,284.2L575.0,285.9M577.5,295.2L576.2,294.8L574.8,295.2L573.8,295.2M571.1,296.3L572.5,296.3M589.0,296.7L589.3,295.9L588.9,294.3M603.2,281.8L602.1,280.9L601.3,280.0M595.1,291.5L595.3,289.8L595.7,288.3L596.8,286.9M600.6,287.8L601.5,288.4L601.5,289.5M608.5,284.6L607.1,285.2L605.7,286.0M605.2,283.4L603.7,283.0L602.7,283.3L601.2,282.8M603.9,284.9L603.0,284.4M593.0,279.8L593.6,278.2L594.6,278.1L595.5,277.6M600.2,288.9L598.9,287.9M606.1,284.2L604.5,283.9L603.0,284.1M601.9,283.0L601.6,283.9M599.1,281.3L597.5,280.6L597.1,279.7M594.5,289.2L596.1,290.0M597.5,276.8L599.1,276.7L600.3,276.6L600.8,275.4M603.4,272.0L603.9,271.2L605.0,270.1M596.7,270.1L596.0,268.9L594.9,268.0L594.1,267.4M599.3,274.0L597.8,274.9L596.2,275.7L595.4,276.9M612.5,269.2L611.7,270.0M612.8,262.6L611.6,261.4M565.5,271.0L566.2,271.8M638.3,348.0L639.2,349.0M638.9,349.0L639.4,350.6L639.6,351.7L641.3,352.0M635.5,346.3L634.9,344.6L635.1,343.1M629.8,353.0L628.6,353.0" stroke="#cba19a" stroke-width="1.00"/><path d="M523.3,350.6L518.5,350.6L514.7,349.7L511.3,349.5M396.2,265.8L400.1,263.6L403.8,263.2L406.2,263.8L405.3,266.3L406.4,268.8L407.5,270.5L407.0,273.1L410.0,273.6L411.7,273.5M395.1,268.0L391.9,268.9L390.4,267.5L391.4,264.8M502.6,266.1L504.4,266.3L506.2,266.3M540.9,252.2L543.4,254.3L546.3,257.6L544.5,259.7L541.8,259.2L540.2,259.7M568.1,295.1L571.3,297.4L574.4,298.5L575.9,298.5M574.6,291.7L576.8,293.4L578.8,294.0L580.3,294.2M560.7,274.8L556.8,274.2L553.6,272.5L550.1,269.7L548.7,268.0" stroke="#cba19a" stroke-width="0.80"/><path d="M395.4,268.4L396.3,267.0L397.0,266.4M408.3,263.2L409.8,264.0L410.8,264.5M389.6,261.3L390.0,262.5L390.6,263.3L390.8,264.7M409.8,278.5L409.4,279.6L408.3,280.1L407.5,281.0M426.2,263.2L425.2,264.4L424.2,264.9M407.9,277.3L408.7,276.6L409.1,275.8M417.3,277.8L417.9,279.4L418.4,280.4M420.0,273.1L420.7,274.2L420.6,275.6L419.5,276.6M413.1,270.4L412.8,269.2L414.1,268.2L415.5,268.8M420.1,266.9L420.1,265.6L419.4,264.7M431.0,264.1L430.0,264.1L428.7,264.9M411.6,271.7L412.0,270.3L413.3,270.4L414.3,270.7M416.5,270.3L416.8,271.9L416.7,273.3L416.7,274.8M420.8,263.7L422.3,263.5L423.8,262.8M430.7,265.7L430.4,267.0M411.3,269.8L411.7,271.1L411.5,272.3M420.9,266.6L420.0,267.5L419.1,268.0M429.7,266.3L429.4,264.7L427.8,264.6L426.4,265.5M385.4,245.2L385.6,246.8M438.2,347.6L437.0,348.3L435.8,348.9L434.9,350.0M443.6,338.8L441.9,339.3M434.5,342.1L432.8,341.6L431.8,341.3L430.5,341.0M436.8,342.7L438.2,342.2M433.3,346.8L434.1,348.2L433.2,349.2M501.6,262.8L501.7,263.9L503.1,264.8L504.4,265.7M516.2,266.5L516.9,267.5L517.4,268.8M505.7,265.1L506.3,266.4L506.8,267.7M512.4,264.9L513.1,265.5L514.3,265.9M510.7,260.0L509.3,261.0L507.8,260.5L506.9,260.4M520.4,267.7L518.6,268.1M519.3,258.1L518.3,259.2L518.1,260.4M500.1,263.4L500.5,264.5M501.4,262.4L501.6,261.3L502.2,259.8L502.3,258.7M517.3,260.6L518.8,260.7M500.3,265.5L501.9,265.9L503.1,266.0M508.4,256.9L506.8,257.0M518.0,260.7L517.3,262.0L517.0,263.3L516.6,264.6M511.7,263.2L510.5,264.0L509.0,264.3L508.0,264.8M497.7,261.9L498.5,260.9L499.5,259.8M495.2,259.4L496.2,259.4M517.3,268.2L518.4,268.8L519.3,269.4M504.8,264.8L503.1,265.3L502.2,265.2M498.7,263.4L498.4,264.6L499.1,266.2L500.5,267.2M506.8,254.6L508.0,253.4M491.9,258.3L492.8,259.1M521.3,265.0L521.4,266.0M508.8,266.6L510.2,266.5L510.8,267.3L511.7,268.4M505.1,261.3L504.2,260.9L502.9,260.7M496.5,269.0L494.8,269.0L493.7,269.5L493.0,270.3M518.2,266.5L519.6,267.2M542.6,263.5L541.5,263.2L540.2,262.0L539.1,261.7M544.3,253.3L545.8,254.1L546.9,255.2L548.1,256.4M520.9,258.9L520.8,260.6M525.1,257.1L525.6,256.0L527.3,256.2L528.4,257.2M539.8,252.0L538.9,250.9L539.4,249.5M541.9,252.7L541.5,250.9L541.6,249.3M532.1,257.2L532.8,258.1L532.4,259.1M526.7,259.8L527.0,260.8M520.6,253.2L521.8,252.3L522.7,251.6M528.7,254.6L527.4,254.7M536.8,250.2L535.3,249.6L534.1,249.9M527.4,253.3L526.0,252.7M518.9,264.7L520.1,265.1M535.2,260.5L535.1,261.9L535.7,263.3L536.1,264.7M534.3,254.7L535.1,253.7M541.6,252.9L540.3,253.5L539.0,254.6L538.7,255.5M516.8,255.7L518.1,255.7L518.9,254.2L520.2,253.5M520.6,252.0L520.3,252.9M518.4,254.9L516.6,254.7L515.0,255.2L514.2,254.9M521.2,256.1L519.8,256.8M517.4,259.1L518.6,258.1L520.1,258.7L521.4,258.5M494.0,268.8L494.4,267.9L494.9,267.1L495.7,266.5M493.0,268.4L494.7,268.6L496.2,268.0M546.6,260.0L547.1,261.1L548.3,262.0M529.4,275.2L528.7,274.5L527.3,273.6M532.8,276.4L532.5,274.9M495.0,300.7L493.5,300.4L491.9,300.9M496.9,302.3L496.1,303.2L496.1,304.3M488.7,304.2L487.4,304.0L486.5,304.3L485.0,303.8M493.1,305.7L493.0,304.7L492.1,303.1M517.3,314.0L518.5,313.5L519.2,314.1M532.6,330.0L533.9,329.8L535.2,330.0M529.6,334.1L530.8,333.2M521.4,341.2L520.6,340.7M528.3,329.3L528.5,327.5L529.3,327.0L530.1,326.2M533.0,336.4L532.0,337.9L530.8,338.9M528.6,310.3L527.4,310.7L526.0,310.7M526.6,318.6L527.0,317.0L527.7,316.1M580.9,287.7L581.9,288.0L583.3,287.2M576.0,282.7L575.5,283.7M580.3,288.1L580.9,287.4M571.9,302.0L572.6,300.6M570.8,300.2L571.7,300.7L573.1,301.5L574.0,302.1M586.4,293.6L587.3,294.4M592.2,299.1L592.1,297.8L591.2,297.7M603.4,280.3L604.8,279.3L605.4,278.0L605.6,276.2M602.5,285.2L601.6,284.8M601.0,289.1L600.0,289.4L598.8,290.3L598.1,291.1M593.0,289.0L593.0,287.7M602.8,279.6L603.6,280.9L604.0,282.1M592.2,282.9L590.8,283.1L589.7,283.3L588.2,282.9M607.3,284.6L606.5,285.5L605.6,286.3M597.1,289.8L598.0,290.0L598.0,291.2M600.3,278.6L599.2,277.4L597.5,277.2L597.6,278.7M602.2,288.0L601.1,287.6L600.3,287.0M604.2,291.8L605.6,291.6M598.9,271.3L597.9,271.4L597.0,271.9L596.2,272.4M606.6,277.1L607.3,277.8M634.1,323.4L633.7,324.6L633.7,326.2" stroke="#c58a80" stroke-width="1.00"/><path d="M521.7,344.9L525.7,342.4L528.0,345.5M421.8,271.5L419.4,273.3L417.2,273.0L415.4,274.2L413.3,274.8L412.0,275.3M395.6,274.8L394.4,278.7L393.8,281.2L394.9,283.8L398.4,283.6L399.2,286.1L401.0,287.9M510.2,260.8L508.2,258.6L507.7,257.0M512.8,261.4L513.5,259.7L513.3,258.1L511.5,257.0L511.1,256.1M499.4,266.3L499.7,267.5L499.6,268.1M492.6,271.4L489.9,272.5L487.1,273.3M518.0,261.4L520.0,263.0L522.0,264.6M568.9,298.0L571.5,298.9L574.4,298.8M570.9,303.1L572.9,304.2L574.8,304.7M569.7,291.7L567.8,292.3L566.6,292.6" stroke="#c58a80" stroke-width="0.80"/><path d="M503.0,264.6L502.1,263.5L502.7,261.9L502.0,260.4L501.2,259.2L500.1,258.8L499.0,258.8M538.9,251.2L538.3,253.8L537.0,254.9L536.0,254.6M585.9,277.6L589.5,277.0L592.1,276.5L592.9,274.8L593.8,272.5L594.5,271.0L597.0,271.4L598.7,274.2L599.6,277.6L602.0,277.8L604.4,276.7L605.8,274.4" stroke="#c58a80" stroke-width="0.90"/><path d="M398.9,264.0L397.7,264.4M406.5,264.6L405.5,265.1L404.0,264.9L403.1,264.9M403.8,277.1L404.7,278.1L405.5,278.6M407.9,275.0L408.5,274.1L408.8,272.8L407.7,272.2M422.2,269.8L421.3,268.5M417.4,276.9L416.0,277.1M411.9,267.3L413.1,267.2L414.2,267.0M392.0,288.9L391.1,289.6M392.6,290.7L390.9,290.1M434.5,349.3L434.5,347.9L433.9,347.1L434.3,345.6M441.9,337.0L440.9,338.1L439.3,338.6L437.5,338.7M446.4,337.3L444.8,336.7M433.4,345.3L433.6,343.6M498.2,264.0L499.0,263.0L499.7,262.1M506.9,258.0L507.2,256.7M521.0,263.1L521.7,264.3L522.5,264.8M515.1,268.7L514.1,269.5M513.4,256.1L514.0,257.7M520.1,264.5L521.4,264.2L522.6,264.0L523.5,263.4M510.2,258.9L510.9,259.7M516.8,258.0L517.4,259.0L518.7,259.5L520.1,258.5M501.6,262.2L503.1,262.8L504.5,262.8M496.4,268.1L494.8,268.5M505.1,262.9L504.1,263.5L503.0,263.7L502.0,264.7M503.2,260.6L502.4,259.9L501.7,258.9L500.8,258.0M503.7,260.4L502.5,260.1L501.8,259.2M521.4,253.2L519.9,253.9M528.7,252.4L530.2,253.4M540.8,256.5L542.2,256.8L543.5,257.9L544.6,259.1M526.5,263.4L525.4,264.6M540.1,253.3L540.5,251.7L540.3,250.6M526.1,264.4L525.8,265.2L525.8,266.4M534.8,262.7L533.2,261.8M543.2,263.3L544.6,264.4M519.7,263.6L520.0,262.6L519.8,261.3M537.6,256.1L539.3,255.5L540.8,255.5L541.6,256.2M523.8,255.0L522.9,254.6M537.4,261.7L538.4,262.1L539.2,262.5L540.3,262.5M525.0,262.1L526.3,262.4L526.7,263.9L528.2,263.9M529.7,259.8L528.1,259.9L527.3,260.2M526.0,261.3L526.3,262.3M494.5,273.8L493.2,274.9L492.0,275.6M535.1,272.8L534.3,273.2L533.4,274.6L533.5,275.7M483.5,301.3L483.7,302.5M505.0,308.9L505.9,308.8L507.1,308.0L507.6,307.2M491.2,309.1L489.5,309.3L488.4,309.1M491.1,308.3L490.8,310.0L490.2,311.4L488.5,311.6M521.2,325.4L519.8,325.4L518.8,325.5L517.5,325.0M524.8,341.1L523.9,341.8M525.6,333.4L527.4,332.9L528.7,333.9M532.8,331.9L533.2,330.9M525.1,345.1L525.7,344.3L526.6,344.1M529.3,341.8L529.2,340.1L529.0,339.1L529.1,337.9M526.0,305.6L525.4,304.5M537.2,309.2L538.5,308.2M532.9,316.9L532.4,315.8M524.1,311.2L522.7,311.6L522.4,310.5L522.1,309.2M582.3,292.3L580.9,292.5L579.6,293.1L578.7,292.4M565.1,283.1L563.4,282.6L562.7,281.7M578.6,286.6L577.2,287.1M578.2,289.5L577.3,289.7L576.6,288.9L575.1,288.0M576.1,284.7L575.7,283.4L576.6,282.2M572.2,304.8L573.7,304.0M588.7,297.6L590.0,298.3M598.1,284.4L599.2,284.3M602.5,281.3L601.4,281.7L600.3,280.6L599.4,279.2M598.0,277.7L598.3,276.5M605.8,282.3L606.8,281.8L607.9,281.5M595.3,283.8L593.9,283.8L593.0,284.9M606.7,288.7L608.4,288.2M599.2,282.6L598.4,284.0M597.1,280.8L597.5,279.9M599.2,279.8L599.0,278.5M598.8,282.3L599.9,281.7M595.9,282.8L596.9,281.7M596.1,271.6L594.9,272.5M596.9,276.6L596.8,277.9L596.9,279.2L597.9,279.5M637.0,322.9L635.6,322.4L635.5,321.1M637.1,322.6L636.5,323.4M640.2,324.8L639.3,325.4" stroke="#be7468" stroke-width="1.00"/><path d="M446.1,348.3L442.3,348.9L440.3,351.7L440.1,355.1" stroke="#be7468" stroke-width="1.15"/><path d="M432.8,342.1L435.0,344.4L437.2,346.6L438.8,348.1M534.8,307.6L536.3,310.4L537.9,312.7M391.8,264.1L389.5,265.0L387.4,265.7L385.1,265.0M395.7,270.3L393.3,273.6L390.9,276.1L388.4,276.3L386.5,279.8L385.9,281.0M497.6,263.0L496.3,261.9L495.6,261.4M495.9,268.0L495.0,266.9L494.5,266.3M492.6,274.2L490.7,274.4L489.5,275.4M491.8,269.1L494.5,270.0L496.1,271.2M521.2,254.9L521.9,258.6L521.8,260.3L524.3,262.5L525.8,263.6L524.2,264.5M527.9,257.0L529.4,259.7L531.2,261.9L532.3,263.0L530.7,263.8M594.2,279.8L595.7,278.7L598.3,278.1L599.5,278.0M575.2,283.8L580.1,284.0L583.9,284.1L587.1,285.5L584.7,287.5L582.8,287.8L582.8,289.5M629.9,364.7L629.1,365.3" stroke="#be7468" stroke-width="0.80"/><path d="M517.7,331.9L518.4,335.3L520.5,337.3L523.1,335.9L526.6,334.9L528.5,335.5L530.4,337.6L531.1,338.5M502.6,263.0L504.2,262.5L506.4,262.5L509.9,262.8L512.1,263.2L512.4,265.8L513.8,266.6L515.6,266.9L517.5,267.8L519.7,267.4L520.4,266.0L521.8,266.1M522.7,254.3L525.1,254.0L528.1,252.8L531.7,254.0L535.2,254.6L536.6,256.5L536.6,259.2L535.6,261.9L537.4,264.1L538.1,265.0" stroke="#be7468" stroke-width="0.90"/><path d="M384.2,267.8L383.4,268.7L383.3,270.0M384.7,282.5L385.7,281.4L387.1,281.3L388.6,281.4M423.7,267.4L422.6,266.5L421.6,266.3L421.7,264.7M410.1,277.1L408.5,277.4L407.1,277.1M401.2,285.4L399.9,285.8L399.1,287.2M445.9,320.0L446.9,320.5L448.0,320.9L448.9,321.9M416.9,308.2L418.0,308.7L419.0,309.2L419.3,310.4M442.4,335.3L443.7,335.4L444.9,335.0L446.0,335.1M447.1,348.6L448.2,349.3M512.1,257.0L511.4,258.0M514.8,254.5L514.1,255.2L513.4,256.3L513.0,258.0M495.3,267.3L495.6,266.3L494.8,265.0L493.9,263.9M495.3,265.8L496.6,265.6L497.7,265.2M504.0,266.4L502.4,267.0L501.4,267.5M534.3,252.7L534.9,253.7M547.1,264.5L546.0,265.4M544.9,263.9L545.4,262.6M526.5,254.4L526.7,255.7L527.2,257.4M533.0,251.4L532.4,252.5M525.8,254.9L525.1,255.9L525.4,257.3L526.7,258.5M521.5,252.6L523.0,253.4L524.3,252.5L525.3,252.1M491.5,275.3L490.5,274.0L489.3,272.8L489.3,271.5M491.7,272.0L492.1,270.5M532.5,283.1L531.1,282.1M503.8,310.1L503.7,311.3M497.4,303.3L498.8,303.3M488.2,300.6L487.8,302.4L486.7,303.1L485.1,303.3M515.3,322.2L515.4,320.7M519.2,324.7L518.6,325.6L518.3,326.9L517.4,328.1M530.5,334.7L531.9,334.4M527.7,340.2L529.2,341.2M524.7,329.1L524.3,327.5M524.0,332.7L523.8,331.5L524.0,330.4M530.4,317.2L529.5,317.9L528.3,317.9L526.5,317.8M568.1,292.1L569.8,291.7L571.2,291.9L572.3,292.7M577.3,287.1L575.8,287.0L574.2,286.3L573.0,286.1M579.5,283.3L580.0,284.4L580.9,285.9M573.3,302.5L571.9,302.1L570.8,301.9L569.8,301.6M592.6,297.9L591.0,297.8L590.1,298.2M586.7,290.2L587.5,291.4L588.1,293.0L589.1,293.6M589.1,295.3L589.8,294.3L591.3,293.6L592.6,292.9M589.3,294.9L588.4,295.3M587.2,288.5L586.9,287.6L587.6,287.0L589.3,286.8M599.9,288.6L600.2,287.0L600.5,285.3M605.5,289.6L605.7,288.4L605.6,287.1L605.8,286.1M593.5,283.8L592.5,283.7L591.5,283.2M610.7,286.6L612.0,285.8M598.3,285.2L599.5,286.2L601.1,287.0M600.2,290.2L599.2,290.6L598.0,291.8M604.5,290.2L604.0,289.4L604.0,288.4M606.8,284.6L606.3,283.2M602.2,281.1L602.0,279.9L602.1,278.5M596.1,279.8L595.3,279.3M604.0,281.1L605.6,280.6L607.2,281.4L608.9,281.3M603.6,290.4L602.5,289.5M607.1,281.5L608.2,281.1L609.7,281.7L611.3,282.0M596.6,271.7L597.0,273.2M592.9,270.9L594.2,271.6L594.1,272.7L594.8,273.7M618.5,308.5L619.9,309.0M605.6,260.7L604.3,261.6L602.8,262.5L601.7,263.8" stroke="#b86252" stroke-width="1.00"/><path d="M430.5,338.7L432.7,336.4L433.5,333.0L431.8,330.8M540.3,312.7L538.9,314.9L537.9,317.2M426.3,269.1L424.6,271.9L425.0,272.5M416.1,278.1L417.5,279.8L418.2,281.0M383.3,271.4L382.6,273.6M508.4,260.8L506.2,259.7L504.7,257.6L503.7,256.9M493.6,269.7L491.8,269.7L489.9,270.3L487.5,270.7M597.4,290.6L599.9,290.8L602.8,290.7L606.0,291.2M602.6,282.1L602.7,279.8L602.9,277.6M607.3,288.9L607.4,285.5L607.4,283.8M569.7,282.7L571.2,285.5L573.0,287.2L574.9,288.5" stroke="#b86252" stroke-width="0.80"/><path d="M508.3,328.5L509.9,326.3L511.4,324.6L511.7,322.9M411.6,263.6L411.6,266.3L412.7,268.0L412.0,270.8L411.7,273.5L412.0,275.3L410.9,277.6L409.0,279.8L408.1,282.1L408.5,283.2L409.3,284.1" stroke="#b86252" stroke-width="0.90"/><path d="M432.4,263.3L431.2,264.1L430.5,265.0M414.6,276.8L415.5,275.9M428.0,308.7L428.6,309.7M443.7,335.3L442.7,336.1L441.0,335.7L440.2,335.2M443.4,340.7L445.0,341.5M437.5,345.7L436.7,346.1M432.7,348.6L433.8,349.1L434.7,349.8M445.5,343.6L444.9,344.7L444.7,346.3M432.2,342.3L430.8,341.2L429.9,340.9L429.5,342.2M495.6,267.3L496.8,267.6M511.6,264.5L511.2,263.5M523.1,256.6L522.1,255.9L521.7,255.0L520.1,254.5M522.1,261.2L523.3,261.3M537.9,259.4L537.5,261.0M537.3,254.5L538.2,253.7L539.3,252.3M541.3,255.9L541.8,254.3M532.9,250.2L531.3,250.9M489.7,273.5L488.8,273.4L487.0,273.0M481.6,301.8L480.2,301.1L479.2,301.4M490.6,306.6L489.4,306.6L488.2,306.9L487.0,307.5M492.0,301.0L492.5,300.2M491.0,301.6L489.4,301.1M508.7,327.0L509.7,327.5L510.7,327.5M521.4,321.1L521.1,322.5L520.3,323.9M522.6,323.6L523.5,324.2M523.7,326.7L524.6,325.3L525.5,325.5M532.3,330.6L533.5,331.1L534.8,330.7M528.1,322.3L529.5,323.4L529.8,324.9M528.9,315.7L530.0,314.4L530.6,313.4L532.0,312.7M533.7,315.6L533.5,314.5M574.5,288.5L575.2,290.2M570.4,285.4L572.0,285.6L572.6,286.5L573.8,286.8M565.6,283.7L566.5,282.7L566.5,281.4M568.3,291.0L567.4,291.4M575.0,286.4L575.6,287.2L576.8,288.2M590.1,296.2L590.5,295.4M591.6,297.8L592.4,297.1L593.8,296.8M597.7,290.7L596.8,289.8M604.7,287.9L603.6,287.2L602.8,286.3L601.2,285.6M591.4,281.1L592.1,282.6L591.2,284.1M604.9,281.8L604.7,282.8L603.9,283.7M604.9,274.7L605.0,275.9" stroke="#b14a3d" stroke-width="1.00"/><path d="M449.2,339.8L445.4,340.4L443.6,342.7L442.4,346.1L440.3,348.1L438.5,348.3L437.6,352.9L439.0,355.1L440.0,355.7M419.4,314.9L420.5,311.5L421.1,308.1L421.0,304.7" stroke="#b14a3d" stroke-width="1.15"/><path d="M416.4,319.5L418.5,320.6L420.0,322.5M494.4,303.6L494.4,307.0L495.4,309.8M533.3,326.3L531.3,325.7L529.3,326.8M426.4,267.5L430.2,265.8L432.2,264.3L434.8,262.8M584.7,279.8L588.2,282.1L591.0,285.5L592.7,288.9L594.2,292.3M598.8,287.8L599.7,285.5L601.3,284.4L603.7,284.4" stroke="#b14a3d" stroke-width="0.80"/><path d="M484.9,306.4L487.5,303.1L491.4,301.4L492.4,298.5L495.4,298.8L497.4,301.9L499.4,304.2L501.4,307.0L502.1,308.4L501.7,311.0M531.1,300.8L529.5,298.5L528.7,297.2M590.0,287.8L589.2,291.2L589.2,294.6L589.5,298.0L589.3,299.1M581.5,278.7L586.6,279.8L590.4,283.2L592.1,286.1L594.3,287.2L595.6,284.6L597.8,283.8L599.8,282.3L602.3,282.7L604.6,282.6L607.5,282.7L608.9,281.0L611.0,281.5M571.1,282.7L572.8,286.1L575.0,287.8L577.0,288.3L579.0,288.6L581.1,289.5L582.3,291.2L583.8,291.4M565.3,278.1L564.1,279.3L563.8,282.1L563.4,284.9L561.8,287.2L561.6,289.5" stroke="#b14a3d" stroke-width="0.90"/><path d="M411.8,305.5L411.7,306.5M418.8,320.2L417.0,320.0L415.9,320.5L414.8,320.0M436.4,308.6L435.1,307.7L433.7,307.0L432.5,307.1M444.8,335.9L445.0,337.1L444.4,338.2L443.7,338.9M433.8,347.7L432.1,347.5L431.0,347.9L429.6,347.6M441.1,347.1L439.9,346.1L438.8,344.7L437.6,343.9M542.9,259.6L541.3,260.4L540.3,261.0L539.6,262.6M490.3,268.5L489.2,267.9M496.1,269.2L495.3,268.6L494.2,267.2M496.2,270.7L497.1,269.9L498.1,269.3M483.5,305.1L482.6,305.9M497.3,300.8L497.4,302.3M489.8,300.9L488.6,299.7M487.3,303.4L488.6,304.4M491.4,304.0L491.6,302.6L492.2,301.6L491.2,300.3M511.3,328.6L512.2,329.4M508.4,322.0L508.6,322.9L508.4,324.7M522.3,323.1L521.7,322.3L521.1,321.4L520.3,320.3M509.2,325.3L508.6,324.0L508.3,322.3M516.4,329.0L517.2,328.1M525.4,323.3L524.3,324.4M521.9,328.5L523.1,329.0M523.2,328.6L522.9,329.6L521.6,330.4M522.8,329.4L522.7,330.6L523.1,332.3L523.7,333.8M508.3,323.8L508.3,322.8L509.5,322.1L510.6,321.6M511.5,324.8L510.7,323.8L510.2,322.5L510.6,320.8M521.3,327.9L521.6,329.5L523.0,330.4M523.7,330.2L524.1,331.7L524.8,332.5M518.1,329.0L516.6,330.0L515.0,329.4M528.9,343.1L528.2,344.4M518.2,336.3L519.1,336.9M526.8,339.6L526.4,340.5M532.1,311.8L532.1,310.0L532.3,309.0M530.4,318.5L531.2,319.8M535.1,305.4L535.6,306.4M598.6,298.2L598.1,296.7L598.8,295.5L599.3,294.7M611.1,284.7L610.6,285.5L609.7,286.0L608.4,286.4M598.0,285.7L596.8,286.0M599.1,279.7L600.7,279.5L601.8,279.8L602.1,280.7M603.3,279.5L603.5,278.1L603.4,276.8L602.5,275.7M591.6,282.5L593.0,283.1L593.7,283.9M521.8,327.4L521.3,324.0L521.2,320.6" stroke="#a2302e" stroke-width="1.00"/><path d="M419.0,313.8L419.6,310.4L420.7,307.0M451.4,321.7L452.5,324.0L453.1,326.8M483.5,303.6L481.5,301.9L479.0,301.6M415.6,276.5L413.9,277.6L412.8,276.5L413.0,275.3M398.0,295.7L396.3,294.0L393.9,293.4L392.6,292.6M531.1,273.1L532.4,275.9L534.1,278.1L536.9,281.0L539.9,282.1M535.6,270.3L537.5,270.3L539.6,271.9L540.7,272.5M591.3,292.3L591.8,295.7L591.8,298.5M566.9,281.0L565.4,282.7L564.1,283.8" stroke="#a2302e" stroke-width="0.80"/><path d="M514.3,326.3L513.9,323.4L512.9,321.2M524.3,326.3L522.8,325.1L521.3,324.0M508.8,306.7L505.4,308.1L502.1,308.4M645.9,368.6L649.5,366.4L652.7,364.7L654.4,363.6M657.5,361.3L659.2,360.2L659.1,359.6" stroke="#a2302e" stroke-width="0.90"/><path d="M412.1,301.5L411.7,299.8M429.0,308.0L429.6,306.6M437.4,320.5L437.1,321.6L436.8,322.7L437.4,324.4M442.4,330.0L441.5,329.2L442.1,328.4M441.6,314.0L440.9,313.5L439.9,313.3M440.6,324.5L440.3,323.0M436.7,322.3L436.1,323.5L435.3,324.5L434.3,325.5M449.8,343.1L448.8,342.5L447.9,342.8L446.7,343.0M448.8,336.9L450.0,337.8L450.5,339.0L451.7,340.2M440.5,346.4L442.1,347.2L443.0,346.8M437.2,346.9L436.3,346.7M542.5,250.5L542.4,251.5L542.3,253.1M499.7,305.7L499.4,304.7L498.6,303.6M494.6,305.6L493.7,306.2L492.2,306.4M503.9,303.9L504.8,304.0L505.8,304.1M516.9,313.4L515.8,312.5M518.5,315.5L519.7,315.7L521.1,315.4L522.4,315.5M520.1,311.1L518.8,310.3L517.6,310.1M519.7,319.4L519.2,318.3L519.8,316.7L519.9,315.6M519.3,311.2L520.5,310.9L522.2,311.6M512.0,328.6L511.7,327.3L511.3,325.9M511.3,323.9L512.2,324.7L513.3,325.0L514.6,323.8M516.7,320.7L515.3,320.7M511.3,322.3L511.4,320.5L511.2,319.5M522.3,328.8L523.2,329.0L523.6,330.4L524.0,332.0M509.2,322.1L508.1,322.8M513.7,320.8L513.8,322.1L514.2,323.0L514.8,324.4M512.3,321.2L513.7,320.5L514.7,319.7M518.3,339.1L516.9,338.8L515.2,339.2M525.4,337.5L526.2,338.0M525.1,320.4L525.8,319.5L526.0,318.6L525.3,317.3M532.1,310.8L532.6,309.3M534.5,315.5L533.5,314.1L532.7,313.2M598.6,296.3L598.6,297.8M598.8,301.9L597.4,302.1M599.9,304.8L600.8,305.3M601.9,305.2L602.0,303.7" stroke="#891c2c" stroke-width="1.00"/><path d="M437.3,330.8L438.6,327.4L439.5,324.0L440.4,320.0M442.8,331.3L443.1,326.3L443.2,321.2L443.4,319.2M447.4,334.2L447.3,328.5L448.0,325.1L446.0,322.9L446.4,319.2M450.2,339.8L451.4,335.3L452.7,330.8L455.1,327.8L457.6,328.5L459.1,329.1M422.5,312.7L428.0,310.2" stroke="#891c2c" stroke-width="1.15"/><path d="M520.3,324.0L517.4,322.9L515.9,322.2M635.8,320.4L636.7,321.7L639.2,321.7" stroke="#891c2c" stroke-width="0.90"/><path d="M482.5,304.7L480.1,299.1L479.2,298.5M490.4,308.1L492.4,309.8L493.4,311.0M535.4,317.8L533.4,318.3L532.4,319.5M408.3,300.2L409.7,301.4L411.1,302.5M531.6,273.6L534.1,274.8L535.9,277.6L537.6,279.6L540.4,282.1L541.5,283.2M594.3,314.9L596.4,317.2L598.9,318.3" stroke="#891c2c" stroke-width="0.80"/><path d="M425.9,317.9L424.2,318.2L423.6,318.8L422.2,318.7M422.8,322.8L424.0,322.3L424.3,321.3L425.5,320.1M440.2,330.9L440.8,332.3L441.5,333.3M448.2,319.8L448.6,319.0M421.8,306.4L422.1,305.2L422.5,304.3M431.8,326.3L430.8,325.9L429.6,326.6L428.2,326.4M445.3,323.1L445.9,322.0L447.1,321.9L448.2,322.2M443.2,330.8L443.0,329.5L441.8,328.3M438.6,337.8L440.0,337.8L441.0,338.6L442.4,339.7M534.2,260.4L534.3,261.5L534.3,262.4M504.0,309.2L503.2,307.8L502.9,306.4M496.7,308.5L497.7,309.7M504.7,309.5L506.0,309.6L507.2,310.2L508.5,309.5M482.5,302.8L481.5,302.1L479.9,301.6M504.7,308.6L504.5,309.9L504.4,311.5M498.3,305.2L497.8,306.1M517.2,318.8L518.3,317.7L519.4,316.9M511.3,314.2L510.7,315.7L510.0,316.3L508.7,317.4M509.4,319.0L510.4,319.2L511.7,320.1M510.1,319.8L510.2,320.9L511.0,321.9L511.8,322.9M518.5,320.1L518.2,318.6M512.0,314.9L511.1,314.4L510.2,313.9M520.1,313.5L518.3,313.2L517.3,312.2M510.2,320.3L510.9,318.9M512.5,315.4L513.9,315.1L515.7,314.9M518.6,317.9L517.1,317.7L516.0,316.5M512.1,312.9L511.9,314.4L511.3,315.7M512.8,315.7L512.1,316.7L511.6,318.4L510.7,319.3M510.8,319.6L512.2,320.1L514.0,320.3L514.8,319.4M519.0,319.5L520.6,319.3L521.6,319.8L521.4,320.9M515.6,313.9L515.3,312.9L514.7,312.2L514.5,310.7M509.0,323.2L508.2,322.7M519.5,328.9L518.7,329.4L517.4,329.4M522.5,328.1L523.6,327.7L525.2,327.2M517.6,330.7L516.9,329.3L516.3,328.2M528.0,336.8L527.8,337.9L528.6,339.2M536.9,306.8L536.8,305.0M532.7,315.3L534.0,314.7L535.0,313.9L536.5,313.4M599.5,302.9L599.3,301.7L599.0,300.8M596.8,299.2L595.8,299.1L594.2,299.0M600.0,301.4L598.9,301.7L597.3,302.4L596.2,302.5M601.9,304.5L600.5,304.9M599.7,298.7L599.7,299.7L599.0,301.3M600.0,297.1L600.7,297.9L601.4,299.0M597.6,302.7L598.7,304.1M596.0,299.1L595.1,297.9L594.4,297.0L593.1,297.0M517.8,329.7L516.3,326.3L515.4,323.4" stroke="#6f1328" stroke-width="1.00"/><path d="M434.4,313.8L433.6,318.8M431.1,334.2L430.5,329.4M429.0,333.0L430.3,329.4M435.9,332.5L430.8,330.6M438.6,335.3L438.9,339.8L439.5,345.5L438.8,348.1" stroke="#6f1328" stroke-width="1.15"/><path d="M520.6,322.9L520.2,319.5L519.9,316.6M519.4,319.5L516.4,318.9L513.7,317.0M532.5,304.2L530.2,303.6L528.1,300.8L527.5,299.7M594.2,292.3L595.7,295.1L598.4,296.8L599.7,299.1L600.3,301.9L600.3,304.7L601.4,306.4" stroke="#6f1328" stroke-width="0.90"/><path d="M510.3,303.1L511.3,305.9L513.3,307.0L514.3,308.1M404.0,298.5L404.7,296.8" stroke="#6f1328" stroke-width="0.80"/><path d="M434.8,315.7L433.9,316.8M432.4,308.3L431.0,308.3L429.5,307.9L429.5,306.9M433.7,314.6L434.6,315.7M445.8,328.2L447.3,328.5L448.8,328.8M428.4,307.6L430.0,307.1L431.5,307.2L432.8,306.8M447.2,329.6L447.0,330.8M423.3,318.8L423.7,319.9L424.6,320.6L425.4,321.0M419.1,319.2L420.1,319.7L420.7,320.5M424.9,323.2L425.4,322.2L425.9,321.3L427.1,319.9M433.9,331.3L433.0,330.4M438.8,314.5L438.5,315.6L438.0,316.6L437.2,317.8M491.8,302.2L492.6,302.7L493.5,302.5M481.3,303.4L482.3,303.5M498.2,305.9L499.7,305.3L501.4,305.2M501.6,303.9L502.9,304.3L504.0,304.3L504.8,303.6M503.2,311.4L503.7,310.2L503.6,309.1L504.0,308.2M521.0,314.7L522.1,314.5M510.9,317.4L511.4,318.2L512.7,319.1M516.0,318.4L517.0,318.7L517.0,319.9M516.1,314.2L515.8,312.8M511.1,320.5L510.6,319.5L510.6,317.8L509.8,317.2M508.3,320.4L507.6,318.9L506.8,318.0L507.1,316.8M517.1,310.8L515.6,311.7M520.9,316.6L521.9,316.3L523.0,315.9L524.5,315.8M511.8,311.2L513.3,311.2L514.3,311.7M520.1,318.3L521.2,317.9L522.4,317.8L523.7,317.8M516.8,311.1L518.2,311.4L519.2,311.4L520.5,312.2M515.8,315.9L517.1,314.8L518.8,314.7M520.0,313.5L518.6,314.0M518.7,329.4L518.4,331.0M512.8,324.1L513.8,325.6L514.2,327.3M535.0,307.9L533.8,308.4L532.4,308.1M594.5,297.4L593.1,297.3L591.9,297.2L590.2,297.6M598.1,300.5L596.6,301.3L595.6,302.4M600.1,304.0L598.4,303.8M601.4,305.0L599.9,304.1L599.1,303.3L598.7,302.2M594.0,296.6L593.8,297.7M598.5,312.5L597.3,311.6M599.7,321.3L598.9,321.8M521.2,320.6L520.6,316.6M522.4,311.9L519.4,312.1L515.9,312.1L513.9,312.7L513.4,315.5L513.0,317.5" stroke="#55091e" stroke-width="1.00"/><path d="M427.9,315.5L429.4,317.2L432.4,318.2L434.4,319.7L435.4,320.7M430.5,329.4L431.7,327.2L434.5,324.0L436.5,321.2" stroke="#55091e" stroke-width="1.35"/><path d="M418.4,316.9L422.4,319.5L425.7,320.9M443.5,335.3L445.2,330.8L446.1,326.3L447.2,323.2M431.5,313.8L428.0,311.5L428.1,309.3L430.6,308.4L433.6,307.7L434.8,307.5" stroke="#55091e" stroke-width="1.15"/><path d="M511.4,313.2L511.9,316.1L512.3,318.9M523.9,314.4L521.9,315.5L520.6,316.6M528.4,317.2L527.9,314.4L526.9,311.5L526.8,306.4L527.5,299.7L528.4,297.4L526.4,295.1L525.3,292.9L527.4,290.0L527.1,287.8L525.3,285.5L525.3,283.2L525.0,281.5M637.2,322.3L638.6,324.0L639.0,325.7" stroke="#55091e" stroke-width="0.90"/><path d="M405.8,297.6L404.6,297.8L403.5,297.8L402.5,298.1M432.8,333.5L432.4,332.6L431.5,331.4L430.1,331.1M435.6,317.9L434.4,318.7M421.8,309.9L421.8,311.3M444.9,323.3L444.7,321.9L445.2,321.0L445.2,319.4M443.0,333.6L444.7,333.4M442.2,321.4L442.8,320.7M436.5,327.9L434.9,327.5M417.7,313.4L418.6,313.1L419.3,312.3M425.1,306.4L424.0,306.7M435.3,315.3L436.5,314.8L437.3,314.1L438.7,313.2M437.1,326.9L437.7,328.6M446.4,321.4L446.1,323.1M442.2,313.4L441.3,314.1M522.0,318.3L522.9,319.0L524.2,320.0M517.8,316.6L519.6,316.6M524.0,314.0L525.2,313.7M516.1,318.9L515.0,318.8L514.1,318.7L513.1,318.8M517.6,318.4L518.7,317.4L519.4,316.4M517.2,310.7L516.0,311.3L515.1,311.5M510.7,314.8L511.4,315.6L511.2,317.0L512.3,317.7M518.2,313.7L517.1,313.4L515.6,313.1M531.6,309.2L531.1,310.5L530.2,310.5M598.7,301.0L597.8,301.4L597.0,301.9M637.8,323.6L636.9,324.5M515.4,323.4L513.4,321.2L511.7,320.9" stroke="#3b0615" stroke-width="1.00"/><path d="M422.0,322.2L424.5,321.7L425.6,322.0L428.5,321.3L430.8,321.0L433.5,321.2L435.4,320.7L437.4,320.8L439.9,319.4L442.4,319.2L444.4,318.3L445.4,317.5M520.6,316.6L518.9,315.8L516.4,314.9L514.9,315.0L513.7,315.8L513.0,317.5L511.9,319.2L511.4,321.2L510.7,322.1L508.9,323.8L507.7,324.0" stroke="#3b0615" stroke-width="1.30"/><path d="M417.5,322.9L419.5,322.5L422.0,322.2M421.8,329.1L421.1,325.1L421.8,322.3M419.4,316.1L423.4,318.1L426.4,318.9L430.4,320.0M423.2,328.0L425.6,325.1L428.0,323.4L429.9,320.4M424.8,329.1L427.7,327.4L430.6,325.1L433.5,321.7L434.1,321.3" stroke="#3b0615" stroke-width="1.35"/></g><g font-size="6.6" fill="#5c5c5c" stroke="#5c5c5c"><text x="348.4" y="252.4" text-anchor="end">60°N</text><text x="642.4" y="252.4">60°N</text><text x="319.3" y="285.5" text-anchor="end">30°N</text><text x="671.5" y="285.5">30°N</text><text x="312.1" y="319.5" text-anchor="end">0°</text><text x="678.7" y="319.5">0°</text><text x="319.3" y="353.5" text-anchor="end">30°S</text><text x="671.5" y="353.5">30°S</text><text x="351.7" y="391.2" text-anchor="middle">180°</text><text x="399.6" y="391.2" text-anchor="middle">120°W</text><text x="447.5" y="391.2" text-anchor="middle">60°W</text><text x="495.4" y="391.2" text-anchor="middle">0°</text><text x="543.3" y="391.2" text-anchor="middle">60°E</text><text x="591.2" y="391.2" text-anchor="middle">120°E</text><text x="639.1" y="391.2" text-anchor="middle">180°</text></g><rect x="353.0" y="326.1" width="64.9" height="46.8" fill="#fff"/><rect x="360.90" y="328.00" width="3.06" height="44.90" fill="#a8cade" stroke="#5f8fb8" stroke-width="0.45"/><rect x="363.96" y="335.00" width="3.06" height="37.90" fill="#a8cade" stroke="#5f8fb8" stroke-width="0.45"/><rect x="367.01" y="338.10" width="3.06" height="34.80" fill="#a8cade" stroke="#5f8fb8" stroke-width="0.45"/><rect x="370.07" y="341.90" width="3.06" height="31.00" fill="#a8cade" stroke="#5f8fb8" stroke-width="0.45"/><rect x="373.12" y="345.00" width="3.06" height="27.90" fill="#a8cade" stroke="#5f8fb8" stroke-width="0.45"/><rect x="376.18" y="347.50" width="3.06" height="25.40" fill="#a8cade" stroke="#5f8fb8" stroke-width="0.45"/><rect x="379.24" y="351.20" width="3.06" height="21.70" fill="#a8cade" stroke="#5f8fb8" stroke-width="0.45"/><rect x="382.29" y="354.50" width="3.06" height="18.40" fill="#a8cade" stroke="#5f8fb8" stroke-width="0.45"/><rect x="385.35" y="355.50" width="3.06" height="17.40" fill="#a8cade" stroke="#5f8fb8" stroke-width="0.45"/><rect x="388.40" y="356.80" width="3.06" height="16.10" fill="#a8cade" stroke="#5f8fb8" stroke-width="0.45"/><rect x="391.46" y="359.50" width="3.06" height="13.40" fill="#a8cade" stroke="#5f8fb8" stroke-width="0.45"/><rect x="394.52" y="360.80" width="3.06" height="12.10" fill="#a8cade" stroke="#5f8fb8" stroke-width="0.45"/><rect x="397.57" y="360.30" width="3.06" height="12.60" fill="#a8cade" stroke="#5f8fb8" stroke-width="0.45"/><rect x="400.63" y="359.20" width="3.06" height="13.70" fill="#a8cade" stroke="#5f8fb8" stroke-width="0.45"/><rect x="403.68" y="358.30" width="3.06" height="14.60" fill="#a8cade" stroke="#5f8fb8" stroke-width="0.45"/><rect x="406.74" y="347.20" width="3.06" height="25.70" fill="#a8cade" stroke="#5f8fb8" stroke-width="0.45"/><path d="M356.3,372.9L358.5,368.0L361.0,352.0L362.8,340.0L364.4,334.4L368.1,338.8L371.9,343.1L375.6,346.8L379.3,350.6L383.1,353.1L385.0,355.3L388.7,356.8L392.5,359.3L395.6,360.8L398.7,359.3L403.6,359.0L405.5,357.4L407.4,354.9L409.2,358.6L411.1,366.7L413.0,372.9" fill="none" stroke="#3b5f90" stroke-width="1.0" stroke-dasharray="2.2,1.3"/><path d="M353.0,326.1V372.9H417.9" fill="none" stroke="#8a8a8a" stroke-width="0.9"/><path d="M350.8,372.9H353.0" stroke="#8a8a8a" stroke-width="0.9"/><text x="349.0" y="376.0" font-size="8.6" fill="#1e1e1e" stroke="#1e1e1e" text-anchor="end">0.00</text><path d="M350.8,342.2H353.0" stroke="#8a8a8a" stroke-width="0.9"/><text x="349.0" y="345.3" font-size="8.6" fill="#1e1e1e" stroke="#1e1e1e" text-anchor="end">0.05</text><path d="M358.8,372.9V375.1" stroke="#8a8a8a" stroke-width="0.9"/><text x="358.8" y="382.3" font-size="8.6" fill="#1e1e1e" stroke="#1e1e1e" text-anchor="middle">0</text><path d="M393.4,372.9V375.1" stroke="#8a8a8a" stroke-width="0.9"/><text x="393.4" y="382.3" font-size="8.6" fill="#1e1e1e" stroke="#1e1e1e" text-anchor="middle">20</text><text transform="translate(329.4,350.9) rotate(-90)" font-size="10.4" fill="#1e1e1e" stroke="#1e1e1e" text-anchor="middle">Density</text><rect x="369.20" y="401.5" width="21.36" height="7.0" fill="#dedcda"/><rect x="390.26" y="401.5" width="21.36" height="7.0" fill="#d5bdb8"/><rect x="411.32" y="401.5" width="21.36" height="7.0" fill="#cba19a"/><rect x="432.38" y="401.5" width="21.36" height="7.0" fill="#c58a80"/><rect x="453.43" y="401.5" width="21.36" height="7.0" fill="#be7468"/><rect x="474.49" y="401.5" width="21.36" height="7.0" fill="#b86252"/><rect x="495.55" y="401.5" width="21.36" height="7.0" fill="#b14a3d"/><rect x="516.61" y="401.5" width="21.36" height="7.0" fill="#a2302e"/><rect x="537.67" y="401.5" width="21.36" height="7.0" fill="#891c2c"/><rect x="558.73" y="401.5" width="21.36" height="7.0" fill="#6f1328"/><rect x="579.78" y="401.5" width="21.36" height="7.0" fill="#55091e"/><rect x="600.84" y="401.5" width="21.36" height="7.0" fill="#3b0615"/><rect x="369.2" y="401.5" width="252.7" height="7.0" fill="none" stroke="#777" stroke-width="0.5"/><path d="M369.2,408.5V410.6" stroke="#444" stroke-width="0.8"/><text x="369.2" y="418.0" font-size="8.4" fill="#1e1e1e" stroke="#1e1e1e" text-anchor="middle">0</text><path d="M411.3,408.5V410.6" stroke="#444" stroke-width="0.8"/><text x="411.3" y="418.0" font-size="8.4" fill="#1e1e1e" stroke="#1e1e1e" text-anchor="middle">5</text><path d="M453.4,408.5V410.6" stroke="#444" stroke-width="0.8"/><text x="453.4" y="418.0" font-size="8.4" fill="#1e1e1e" stroke="#1e1e1e" text-anchor="middle">10</text><path d="M495.5,408.5V410.6" stroke="#444" stroke-width="0.8"/><text x="495.5" y="418.0" font-size="8.4" fill="#1e1e1e" stroke="#1e1e1e" text-anchor="middle">15</text><path d="M537.7,408.5V410.6" stroke="#444" stroke-width="0.8"/><text x="537.7" y="418.0" font-size="8.4" fill="#1e1e1e" stroke="#1e1e1e" text-anchor="middle">20</text><path d="M579.8,408.5V410.6" stroke="#444" stroke-width="0.8"/><text x="579.8" y="418.0" font-size="8.4" fill="#1e1e1e" stroke="#1e1e1e" text-anchor="middle">25</text><path d="M621.9,408.5V410.6" stroke="#444" stroke-width="0.8"/><text x="621.9" y="418.0" font-size="8.4" fill="#1e1e1e" stroke="#1e1e1e" text-anchor="middle">30</text><text x="495.8" y="427.7" font-size="10.6" fill="#1e1e1e" stroke="#1e1e1e" text-anchor="middle">Total years</text><text x="4.9" y="18.3" font-size="25.6" fill="#111" stroke="#111">a</text><text x="297.5" y="18.1" font-size="25.6" fill="#111" stroke="#111">b</text><text x="5.0" y="230.6" font-size="25.6" fill="#111" stroke="#111">c</text><text x="297.3" y="230.7" font-size="25.6" fill="#111" stroke="#111">d</text></svg></body></html>
